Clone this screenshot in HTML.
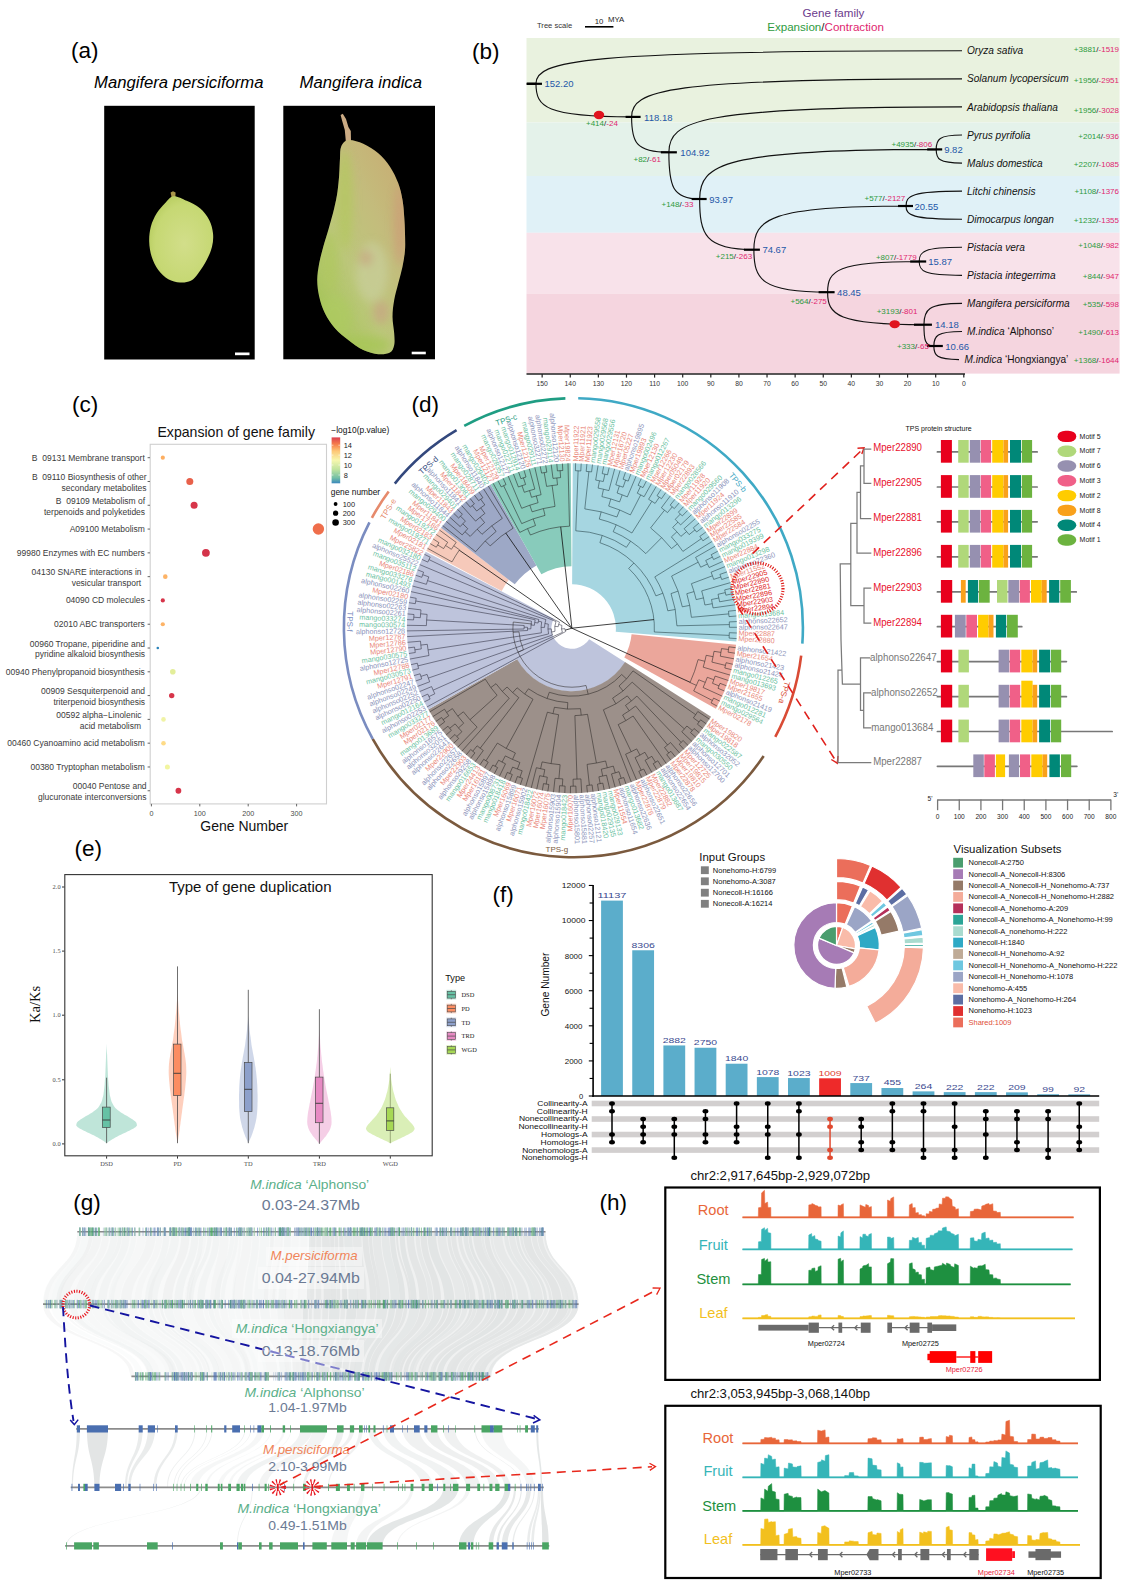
<!DOCTYPE html>
<html><head><meta charset="utf-8"><title>Figure</title>
<style>html,body{margin:0;padding:0;background:#fff}svg{display:block}text{font-family:"Liberation Sans",sans-serif}</style>
</head><body>
<svg width="1123" height="1588" viewBox="0 0 1123 1588">
<rect width="1123" height="1588" fill="#fff"/>
<g id="panel_a">
<defs>
<radialGradient id="f1g" cx="0.55" cy="0.55" r="0.65"><stop offset="0" stop-color="#d2de8a"/><stop offset="0.7" stop-color="#c6d873"/><stop offset="1" stop-color="#b2c95a"/></radialGradient>
<linearGradient id="f2g" x1="0.9" y1="0.05" x2="0.15" y2="0.95"><stop offset="0" stop-color="#c8ad74"/><stop offset="0.35" stop-color="#c3bd7c"/><stop offset="0.65" stop-color="#bcc77a"/><stop offset="1" stop-color="#a4c556"/></linearGradient>
<filter id="blur3" x="-50%" y="-50%" width="200%" height="200%"><feGaussianBlur stdDeviation="4"/></filter>
<filter id="blur1" x="-50%" y="-50%" width="200%" height="200%"><feGaussianBlur stdDeviation="0.5"/></filter>
<clipPath id="f2clip"><path id="f2p" d="M348.3,140.0 C352.0,139.5 358.3,141.5 363.3,143.7 C368.3,145.9 373.9,149.5 378.3,153.3 C382.8,157.1 386.7,161.7 390.0,166.7 C393.3,171.7 396.2,177.8 398.3,183.3 C400.4,188.9 401.5,194.4 402.5,200.0 C403.5,205.6 403.8,211.1 404.2,216.7 C404.6,222.2 404.9,227.8 405.0,233.3 C405.1,238.9 405.4,244.4 405.0,250.0 C404.6,255.6 403.6,261.1 402.5,266.7 C401.4,272.2 399.7,277.8 398.3,283.3 C396.9,288.9 395.2,294.4 394.2,300.0 C393.2,305.6 392.5,311.1 392.5,316.7 C392.5,322.2 393.9,328.6 394.2,333.3 C394.5,338.0 394.9,341.8 394.2,345.0 C393.5,348.2 392.6,351.0 390.0,352.5 C387.4,354.0 382.8,354.6 378.3,354.2 C373.9,353.8 368.3,352.4 363.3,350.0 C358.3,347.6 353.0,343.6 348.3,340.0 C343.6,336.4 338.9,332.8 335.0,328.3 C331.1,323.9 327.6,318.6 325.0,313.3 C322.4,308.0 320.5,302.2 319.2,296.7 C317.9,291.1 317.2,285.6 317.2,280.0 C317.2,274.4 318.2,268.9 319.2,263.3 C320.2,257.8 321.8,252.2 323.3,246.7 C324.8,241.1 326.5,236.4 328.3,230.0 C330.1,223.6 332.7,214.7 334.2,208.3 C335.7,201.9 336.7,197.2 337.5,191.7 C338.3,186.1 338.8,180.6 339.2,175.0 C339.6,169.4 339.7,163.1 340.0,158.3 C340.3,153.6 339.8,149.6 341.2,146.5 C342.6,143.4 344.6,140.5 348.3,140.0 Z"/></clipPath>
</defs>
<text x="71.00" y="57.50" font-size="22.5" fill="#000">(a)</text>
<text x="94.00" y="88.30" font-size="17.3" fill="#000" font-style="italic" textLength="169.50" lengthAdjust="spacingAndGlyphs">Mangifera persiciforma</text>
<text x="299.50" y="88.30" font-size="17.3" fill="#000" font-style="italic" textLength="122.50" lengthAdjust="spacingAndGlyphs">Mangifera indica</text>
<rect x="104.20" y="105.80" width="150.50" height="253.70" fill="#000"/>
<rect x="283.30" y="105.80" width="151.70" height="253.50" fill="#000"/>
<path d="M171.6,197.5 L170.6,192.6 L173,191.2 L175.6,192.6 L175.3,197.5 Z" fill="#a8964a"/>
<path d="M173.3,196.2 C176.9,195.8 182.2,198.8 186.7,200.8 C191.1,202.8 196.2,205.1 200.0,208.3 C203.8,211.5 207.0,215.8 209.2,220.0 C211.4,224.2 212.5,228.9 213.0,233.3 C213.5,237.8 213.1,242.2 212.0,246.7 C210.9,251.1 209.0,255.6 206.7,260.0 C204.4,264.4 201.0,269.8 198.3,273.3 C195.7,276.8 193.9,279.3 190.8,280.8 C187.8,282.3 183.8,282.8 180.0,282.5 C176.2,282.2 171.9,281.3 168.3,279.2 C164.7,277.1 161.1,273.8 158.3,270.0 C155.5,266.2 153.2,261.4 151.7,256.7 C150.2,252.0 149.3,246.7 149.2,241.7 C149.0,236.7 149.6,231.4 150.8,226.7 C152.1,222.0 154.3,217.2 156.7,213.3 C159.1,209.4 162.2,206.2 165.0,203.3 C167.8,200.5 169.7,196.6 173.3,196.2 Z" fill="url(#f1g)" filter="url(#blur1)"/>
<path d="M345.8,141 L344.8,130 L342.2,121 L340.6,115 L342.8,113.8 L346,119 L348.4,127 L350.8,131 L351,141 Z" fill="#cbab84"/>
<path d="M348.3,140.0 C352.0,139.5 358.3,141.5 363.3,143.7 C368.3,145.9 373.9,149.5 378.3,153.3 C382.8,157.1 386.7,161.7 390.0,166.7 C393.3,171.7 396.2,177.8 398.3,183.3 C400.4,188.9 401.5,194.4 402.5,200.0 C403.5,205.6 403.8,211.1 404.2,216.7 C404.6,222.2 404.9,227.8 405.0,233.3 C405.1,238.9 405.4,244.4 405.0,250.0 C404.6,255.6 403.6,261.1 402.5,266.7 C401.4,272.2 399.7,277.8 398.3,283.3 C396.9,288.9 395.2,294.4 394.2,300.0 C393.2,305.6 392.5,311.1 392.5,316.7 C392.5,322.2 393.9,328.6 394.2,333.3 C394.5,338.0 394.9,341.8 394.2,345.0 C393.5,348.2 392.6,351.0 390.0,352.5 C387.4,354.0 382.8,354.6 378.3,354.2 C373.9,353.8 368.3,352.4 363.3,350.0 C358.3,347.6 353.0,343.6 348.3,340.0 C343.6,336.4 338.9,332.8 335.0,328.3 C331.1,323.9 327.6,318.6 325.0,313.3 C322.4,308.0 320.5,302.2 319.2,296.7 C317.9,291.1 317.2,285.6 317.2,280.0 C317.2,274.4 318.2,268.9 319.2,263.3 C320.2,257.8 321.8,252.2 323.3,246.7 C324.8,241.1 326.5,236.4 328.3,230.0 C330.1,223.6 332.7,214.7 334.2,208.3 C335.7,201.9 336.7,197.2 337.5,191.7 C338.3,186.1 338.8,180.6 339.2,175.0 C339.6,169.4 339.7,163.1 340.0,158.3 C340.3,153.6 339.8,149.6 341.2,146.5 C342.6,143.4 344.6,140.5 348.3,140.0 Z" fill="url(#f2g)" filter="url(#blur1)"/>
<g clip-path="url(#f2clip)" filter="url(#blur3)" opacity="0.7"><ellipse cx="400" cy="225" rx="6" ry="40" fill="#cc9c78"/><ellipse cx="345" cy="200" rx="8" ry="50" fill="#b3c85e"/><ellipse cx="372" cy="272" rx="16" ry="30" fill="#c9cf9c"/><ellipse cx="381" cy="312" rx="8" ry="12" fill="#c8a484"/><ellipse cx="366" cy="258" rx="7" ry="8" fill="#c9a888"/><ellipse cx="335" cy="318" rx="16" ry="22" fill="#aecb62"/><ellipse cx="365" cy="345" rx="26" ry="9" fill="#a6c654"/><ellipse cx="330" cy="262" rx="8" ry="30" fill="#b0c860"/></g>
<rect x="235.00" y="352.50" width="14.50" height="2.70" fill="#fff"/>
<rect x="411.70" y="351.70" width="14.10" height="2.60" fill="#fff"/>
</g>
<g id="panel_b">
<rect x="526.50" y="38.00" width="593.10" height="84.40" fill="#e9f2df"/>
<rect x="526.50" y="122.40" width="593.10" height="53.60" fill="#e4f2ea"/>
<rect x="526.50" y="176.00" width="593.10" height="56.80" fill="#e0f1f7"/>
<rect x="526.50" y="232.80" width="593.10" height="60.80" fill="#f8e2ea"/>
<rect x="526.50" y="293.60" width="593.10" height="80.00" fill="#f5d5df"/>
<text x="472.00" y="58.50" font-size="22.5" fill="#000">(b)</text>
<text x="537.00" y="27.50" font-size="7.6" fill="#333">Tree scale</text>
<line x1="585.00" y1="26.80" x2="613.40" y2="26.80" stroke="#000" stroke-width="1.6"/>
<text x="599.00" y="23.97" font-size="7.8" fill="#222" text-anchor="middle">10</text>
<text x="608.00" y="22.07" font-size="7.8" fill="#222">MYA</text>
<text x="833.50" y="17.32" font-size="11.6" fill="#6b3a8c" text-anchor="middle">Gene family</text>
<text x="825.5" y="31.32" font-size="11.6" text-anchor="middle"><tspan fill="#2e9b3e">Expansion</tspan><tspan fill="#222">/</tspan><tspan fill="#e0266f">Contraction</tspan></text>
<path d="M535.97,83.80 C535.97,60.70 578.57,50.80 962.00,50.80 M535.97,83.80 C535.97,106.97 545.53,116.90 631.60,116.90 M631.60,116.90 C631.60,90.28 664.64,78.87 962.00,78.87 M631.60,116.90 C631.60,141.68 635.32,152.30 668.87,152.30 M668.87,152.30 C668.87,120.55 698.18,106.94 962.00,106.94 M668.87,152.30 C668.87,184.99 671.95,199.00 699.65,199.00 M699.65,199.00 C699.65,164.28 723.30,149.40 936.20,149.40 M699.65,199.00 C699.65,234.49 705.08,249.70 753.90,249.70 M936.20,149.40 C936.20,139.33 938.78,135.01 962.00,135.01 M936.20,149.40 C936.20,158.98 938.78,163.08 962.00,163.08 M753.90,249.70 C753.90,219.11 769.12,206.00 906.03,206.00 M753.90,249.70 C753.90,279.45 761.27,292.20 827.61,292.20 M906.03,206.00 C906.03,195.60 911.63,191.15 962.00,191.15 M906.03,206.00 C906.03,215.25 911.63,219.22 962.00,219.22 M827.61,292.20 C827.61,270.71 836.77,261.50 919.19,261.50 M827.61,292.20 C827.61,314.95 837.24,324.70 923.94,324.70 M919.19,261.50 C919.19,251.55 923.47,247.29 962.00,247.29 M919.19,261.50 C919.19,271.20 923.47,275.36 962.00,275.36 M923.94,324.70 C923.94,309.81 927.75,303.43 962.00,303.43 M923.94,324.70 C923.94,339.61 924.93,346.00 933.83,346.00 M933.83,346.00 C933.83,335.85 936.65,331.50 962.00,331.50 M933.83,346.00 C933.83,355.50 936.35,359.57 959.00,359.57 " fill="none" stroke="#111" stroke-width="1.15"/>
<line x1="526.50" y1="83.80" x2="535.97" y2="83.80" stroke="#000" stroke-width="2.2"/>
<line x1="526.97" y1="83.80" x2="541.97" y2="83.80" stroke="#000" stroke-width="2.2"/>
<line x1="625.60" y1="116.90" x2="640.60" y2="116.90" stroke="#000" stroke-width="2.2"/>
<line x1="660.87" y1="152.30" x2="676.87" y2="152.30" stroke="#000" stroke-width="2.2"/>
<line x1="691.65" y1="199.00" x2="706.65" y2="199.00" stroke="#000" stroke-width="2.2"/>
<line x1="743.90" y1="249.70" x2="759.90" y2="249.70" stroke="#000" stroke-width="2.2"/>
<line x1="818.61" y1="292.20" x2="834.61" y2="292.20" stroke="#000" stroke-width="2.2"/>
<line x1="913.94" y1="324.70" x2="931.94" y2="324.70" stroke="#000" stroke-width="2.2"/>
<line x1="926.83" y1="346.00" x2="942.83" y2="346.00" stroke="#000" stroke-width="2.2"/>
<line x1="927.20" y1="149.40" x2="942.20" y2="149.40" stroke="#000" stroke-width="2.2"/>
<line x1="898.03" y1="206.00" x2="913.03" y2="206.00" stroke="#000" stroke-width="2.2"/>
<line x1="910.19" y1="261.50" x2="926.19" y2="261.50" stroke="#000" stroke-width="2.2"/>
<text x="544.47" y="87.47" font-size="9.5" fill="#2458a8">152.20</text>
<text x="644.10" y="120.57" font-size="9.5" fill="#2458a8">118.18</text>
<text x="680.37" y="155.97" font-size="9.5" fill="#2458a8">104.92</text>
<text x="709.15" y="202.67" font-size="9.5" fill="#2458a8">93.97</text>
<text x="762.40" y="253.37" font-size="9.5" fill="#2458a8">74.67</text>
<text x="837.11" y="295.87" font-size="9.5" fill="#2458a8">48.45</text>
<text x="934.94" y="328.37" font-size="9.5" fill="#2458a8">14.18</text>
<text x="945.33" y="349.67" font-size="9.5" fill="#2458a8">10.66</text>
<text x="944.20" y="153.07" font-size="9.5" fill="#2458a8">9.82</text>
<text x="914.53" y="209.67" font-size="9.5" fill="#2458a8">20.55</text>
<text x="928.19" y="265.17" font-size="9.5" fill="#2458a8">15.87</text>
<ellipse cx="599" cy="115" rx="5.2" ry="4.2" fill="#e0141e"/>
<ellipse cx="894.7" cy="324.2" rx="5.2" ry="4.0" fill="#e0141e"/>
<text x="586.00" y="126.34" font-size="8.0"><tspan fill="#2e9b3e">+414</tspan><tspan fill="#222">/</tspan><tspan fill="#e0266f">-24</tspan></text>
<text x="633.50" y="161.84" font-size="8.0"><tspan fill="#2e9b3e">+82</tspan><tspan fill="#222">/</tspan><tspan fill="#e0266f">-61</tspan></text>
<text x="661.50" y="206.54" font-size="8.0"><tspan fill="#2e9b3e">+148</tspan><tspan fill="#222">/</tspan><tspan fill="#e0266f">-33</tspan></text>
<text x="715.80" y="259.44" font-size="8.0"><tspan fill="#2e9b3e">+215</tspan><tspan fill="#222">/</tspan><tspan fill="#e0266f">-263</tspan></text>
<text x="790.50" y="303.64" font-size="8.0"><tspan fill="#2e9b3e">+564</tspan><tspan fill="#222">/</tspan><tspan fill="#e0266f">-275</tspan></text>
<text x="891.50" y="147.24" font-size="8.0"><tspan fill="#2e9b3e">+4935</tspan><tspan fill="#222">/</tspan><tspan fill="#e0266f">-806</tspan></text>
<text x="864.50" y="201.04" font-size="8.0"><tspan fill="#2e9b3e">+577</tspan><tspan fill="#222">/</tspan><tspan fill="#e0266f">-2127</tspan></text>
<text x="875.90" y="259.54" font-size="8.0"><tspan fill="#2e9b3e">+807</tspan><tspan fill="#222">/</tspan><tspan fill="#e0266f">-1779</tspan></text>
<text x="876.70" y="313.84" font-size="8.0"><tspan fill="#2e9b3e">+3193</tspan><tspan fill="#222">/</tspan><tspan fill="#e0266f">-801</tspan></text>
<text x="897.00" y="349.34" font-size="8.0"><tspan fill="#2e9b3e">+333</tspan><tspan fill="#222">/</tspan><tspan fill="#e0266f">-65</tspan></text>
<text x="1119.00" y="52.24" font-size="8.0" text-anchor="end"><tspan fill="#2e9b3e">+3881</tspan><tspan fill="#222">/</tspan><tspan fill="#e0266f">-1519</tspan></text>
<text x="1119.00" y="82.84" font-size="8.0" text-anchor="end"><tspan fill="#2e9b3e">+1956</tspan><tspan fill="#222">/</tspan><tspan fill="#e0266f">-2951</tspan></text>
<text x="1119.00" y="112.84" font-size="8.0" text-anchor="end"><tspan fill="#2e9b3e">+1956</tspan><tspan fill="#222">/</tspan><tspan fill="#e0266f">-3028</tspan></text>
<text x="1119.00" y="138.84" font-size="8.0" text-anchor="end"><tspan fill="#2e9b3e">+2014</tspan><tspan fill="#222">/</tspan><tspan fill="#e0266f">-936</tspan></text>
<text x="1119.00" y="166.64" font-size="8.0" text-anchor="end"><tspan fill="#2e9b3e">+2207</tspan><tspan fill="#222">/</tspan><tspan fill="#e0266f">-1085</tspan></text>
<text x="1119.00" y="193.84" font-size="8.0" text-anchor="end"><tspan fill="#2e9b3e">+1108</tspan><tspan fill="#222">/</tspan><tspan fill="#e0266f">-1376</tspan></text>
<text x="1119.00" y="222.54" font-size="8.0" text-anchor="end"><tspan fill="#2e9b3e">+1232</tspan><tspan fill="#222">/</tspan><tspan fill="#e0266f">-1355</tspan></text>
<text x="1119.00" y="248.14" font-size="8.0" text-anchor="end"><tspan fill="#2e9b3e">+1048</tspan><tspan fill="#222">/</tspan><tspan fill="#e0266f">-982</tspan></text>
<text x="1119.00" y="278.84" font-size="8.0" text-anchor="end"><tspan fill="#2e9b3e">+844</tspan><tspan fill="#222">/</tspan><tspan fill="#e0266f">-947</tspan></text>
<text x="1119.00" y="306.74" font-size="8.0" text-anchor="end"><tspan fill="#2e9b3e">+535</tspan><tspan fill="#222">/</tspan><tspan fill="#e0266f">-598</tspan></text>
<text x="1119.00" y="334.84" font-size="8.0" text-anchor="end"><tspan fill="#2e9b3e">+1490</tspan><tspan fill="#222">/</tspan><tspan fill="#e0266f">-613</tspan></text>
<text x="1119.00" y="363.14" font-size="8.0" text-anchor="end"><tspan fill="#2e9b3e">+1368</tspan><tspan fill="#222">/</tspan><tspan fill="#e0266f">-1644</tspan></text>
<text x="967.00" y="54.39" font-size="10.1" fill="#111" font-style="italic">Oryza sativa</text>
<text x="967.00" y="82.46" font-size="10.1" fill="#111" font-style="italic">Solanum lycopersicum</text>
<text x="967.00" y="110.53" font-size="10.1" fill="#111" font-style="italic">Arabidopsis thaliana</text>
<text x="967.00" y="138.60" font-size="10.1" fill="#111" font-style="italic">Pyrus pyrifolia</text>
<text x="967.00" y="166.67" font-size="10.1" fill="#111" font-style="italic">Malus domestica</text>
<text x="967.00" y="194.74" font-size="10.1" fill="#111" font-style="italic">Litchi chinensis</text>
<text x="967.00" y="222.81" font-size="10.1" fill="#111" font-style="italic">Dimocarpus longan</text>
<text x="967.00" y="250.88" font-size="10.1" fill="#111" font-style="italic">Pistacia vera</text>
<text x="967.00" y="278.95" font-size="10.1" fill="#111" font-style="italic">Pistacia integerrima</text>
<text x="967.00" y="307.02" font-size="10.1" fill="#111" font-style="italic">Mangifera persiciforma</text>
<text x="967" y="335.33" font-size="10.1" fill="#111"><tspan font-style="italic">M.indica</tspan> <tspan font-size="10.1">‘Alphonso’</tspan></text>
<text x="964.5" y="363.40" font-size="10.1" fill="#111"><tspan font-style="italic">M.indica</tspan> <tspan font-size="10.1">‘Hongxiangya’</tspan></text>
<line x1="526.50" y1="374.00" x2="965.00" y2="374.00" stroke="#222" stroke-width="1.3"/>
<line x1="963.80" y1="374.00" x2="963.80" y2="377.60" stroke="#222" stroke-width="1.2"/>
<text x="963.80" y="386.21" font-size="6.8" fill="#333" text-anchor="middle">0</text>
<line x1="935.69" y1="374.00" x2="935.69" y2="377.60" stroke="#222" stroke-width="1.2"/>
<text x="935.69" y="386.21" font-size="6.8" fill="#333" text-anchor="middle">10</text>
<line x1="907.58" y1="374.00" x2="907.58" y2="377.60" stroke="#222" stroke-width="1.2"/>
<text x="907.58" y="386.21" font-size="6.8" fill="#333" text-anchor="middle">20</text>
<line x1="879.47" y1="374.00" x2="879.47" y2="377.60" stroke="#222" stroke-width="1.2"/>
<text x="879.47" y="386.21" font-size="6.8" fill="#333" text-anchor="middle">30</text>
<line x1="851.36" y1="374.00" x2="851.36" y2="377.60" stroke="#222" stroke-width="1.2"/>
<text x="851.36" y="386.21" font-size="6.8" fill="#333" text-anchor="middle">40</text>
<line x1="823.25" y1="374.00" x2="823.25" y2="377.60" stroke="#222" stroke-width="1.2"/>
<text x="823.25" y="386.21" font-size="6.8" fill="#333" text-anchor="middle">50</text>
<line x1="795.14" y1="374.00" x2="795.14" y2="377.60" stroke="#222" stroke-width="1.2"/>
<text x="795.14" y="386.21" font-size="6.8" fill="#333" text-anchor="middle">60</text>
<line x1="767.03" y1="374.00" x2="767.03" y2="377.60" stroke="#222" stroke-width="1.2"/>
<text x="767.03" y="386.21" font-size="6.8" fill="#333" text-anchor="middle">70</text>
<line x1="738.92" y1="374.00" x2="738.92" y2="377.60" stroke="#222" stroke-width="1.2"/>
<text x="738.92" y="386.21" font-size="6.8" fill="#333" text-anchor="middle">80</text>
<line x1="710.81" y1="374.00" x2="710.81" y2="377.60" stroke="#222" stroke-width="1.2"/>
<text x="710.81" y="386.21" font-size="6.8" fill="#333" text-anchor="middle">90</text>
<line x1="682.70" y1="374.00" x2="682.70" y2="377.60" stroke="#222" stroke-width="1.2"/>
<text x="682.70" y="386.21" font-size="6.8" fill="#333" text-anchor="middle">100</text>
<line x1="654.59" y1="374.00" x2="654.59" y2="377.60" stroke="#222" stroke-width="1.2"/>
<text x="654.59" y="386.21" font-size="6.8" fill="#333" text-anchor="middle">110</text>
<line x1="626.48" y1="374.00" x2="626.48" y2="377.60" stroke="#222" stroke-width="1.2"/>
<text x="626.48" y="386.21" font-size="6.8" fill="#333" text-anchor="middle">120</text>
<line x1="598.37" y1="374.00" x2="598.37" y2="377.60" stroke="#222" stroke-width="1.2"/>
<text x="598.37" y="386.21" font-size="6.8" fill="#333" text-anchor="middle">130</text>
<line x1="570.26" y1="374.00" x2="570.26" y2="377.60" stroke="#222" stroke-width="1.2"/>
<text x="570.26" y="386.21" font-size="6.8" fill="#333" text-anchor="middle">140</text>
<line x1="542.15" y1="374.00" x2="542.15" y2="377.60" stroke="#222" stroke-width="1.2"/>
<text x="542.15" y="386.21" font-size="6.8" fill="#333" text-anchor="middle">150</text>
</g>
<g id="panel_c">
<text x="72.00" y="412.30" font-size="22.5" fill="#000">(c)</text>
<text x="236.20" y="437.21" font-size="14.1" fill="#111" text-anchor="middle">Expansion of gene family</text>
<rect x="150.2" y="444.3" width="176.3" height="359.6" fill="#fff" stroke="#cfcfcf" stroke-width="1.1"/>
<line x1="147.60" y1="457.70" x2="150.00" y2="457.70" stroke="#555" stroke-width="0.9"/>
<circle cx="162.8" cy="457.70" r="2.1" fill="#fdae61"/>
<text x="144.80" y="460.72" font-size="8.5" fill="#3a3a3a" text-anchor="end">B  09131 Membrane transport</text>
<line x1="147.60" y1="481.49" x2="150.00" y2="481.49" stroke="#555" stroke-width="0.9"/>
<circle cx="189.8" cy="481.49" r="3.5" fill="#e8604a"/>
<text x="146.60" y="480.21" font-size="8.5" fill="#3a3a3a" text-anchor="end">B  09110 Biosynthesis of other</text>
<text x="146.60" y="490.71" font-size="8.5" fill="#3a3a3a" text-anchor="end">secondary metabolites</text>
<line x1="147.60" y1="505.28" x2="150.00" y2="505.28" stroke="#555" stroke-width="0.9"/>
<circle cx="194.1" cy="505.28" r="3.5" fill="#d7354a"/>
<text x="145.10" y="504.00" font-size="8.5" fill="#3a3a3a" text-anchor="end">B  09109 Metabolism of</text>
<text x="145.10" y="514.50" font-size="8.5" fill="#3a3a3a" text-anchor="end">terpenoids and polyketides</text>
<line x1="147.60" y1="529.07" x2="150.00" y2="529.07" stroke="#555" stroke-width="0.9"/>
<circle cx="318.4" cy="529.07" r="5.7" fill="#ef6e4b"/>
<text x="144.80" y="532.09" font-size="8.5" fill="#3a3a3a" text-anchor="end">A09100 Metabolism</text>
<line x1="147.60" y1="552.86" x2="150.00" y2="552.86" stroke="#555" stroke-width="0.9"/>
<circle cx="205.9" cy="552.86" r="3.9" fill="#d4334a"/>
<text x="144.80" y="555.88" font-size="8.5" fill="#3a3a3a" text-anchor="end">99980 Enzymes with EC numbers</text>
<line x1="147.60" y1="576.65" x2="150.00" y2="576.65" stroke="#555" stroke-width="0.9"/>
<circle cx="165.3" cy="576.65" r="2.3" fill="#fdb366"/>
<text x="141.60" y="575.37" font-size="8.5" fill="#3a3a3a" text-anchor="end">04130 SNARE interactions in</text>
<text x="141.10" y="585.87" font-size="8.5" fill="#3a3a3a" text-anchor="end">vesicular transport</text>
<line x1="147.60" y1="600.44" x2="150.00" y2="600.44" stroke="#555" stroke-width="0.9"/>
<circle cx="162.8" cy="600.44" r="2.1" fill="#d7354a"/>
<text x="144.80" y="603.46" font-size="8.5" fill="#3a3a3a" text-anchor="end">04090 CD molecules</text>
<line x1="147.60" y1="624.23" x2="150.00" y2="624.23" stroke="#555" stroke-width="0.9"/>
<circle cx="162.8" cy="624.23" r="2.1" fill="#fdb366"/>
<text x="144.80" y="627.25" font-size="8.5" fill="#3a3a3a" text-anchor="end">02010 ABC transporters</text>
<line x1="147.60" y1="648.02" x2="150.00" y2="648.02" stroke="#555" stroke-width="0.9"/>
<circle cx="157.8" cy="648.02" r="1.3" fill="#2b83ba"/>
<text x="145.10" y="646.74" font-size="8.5" fill="#3a3a3a" text-anchor="end">00960 Tropane, piperidine and</text>
<text x="145.10" y="657.24" font-size="8.5" fill="#3a3a3a" text-anchor="end">pyridine alkaloid biosynthesis</text>
<line x1="147.60" y1="671.81" x2="150.00" y2="671.81" stroke="#555" stroke-width="0.9"/>
<circle cx="172.8" cy="671.81" r="2.8" fill="#e3ee9a"/>
<text x="144.80" y="674.83" font-size="8.5" fill="#3a3a3a" text-anchor="end">00940 Phenylpropanoid biosynthesis</text>
<line x1="147.60" y1="695.60" x2="150.00" y2="695.60" stroke="#555" stroke-width="0.9"/>
<circle cx="171.7" cy="695.60" r="2.7" fill="#d7354a"/>
<text x="145.10" y="694.32" font-size="8.5" fill="#3a3a3a" text-anchor="end">00909 Sesquiterpenoid and</text>
<text x="145.10" y="704.82" font-size="8.5" fill="#3a3a3a" text-anchor="end">triterpenoid biosynthesis</text>
<line x1="147.60" y1="719.39" x2="150.00" y2="719.39" stroke="#555" stroke-width="0.9"/>
<circle cx="163.5" cy="719.39" r="2.3" fill="#f0f3a5"/>
<text x="141.60" y="718.11" font-size="8.5" fill="#3a3a3a" text-anchor="end">00592 alpha−Linolenic</text>
<text x="141.10" y="728.61" font-size="8.5" fill="#3a3a3a" text-anchor="end">acid metabolism</text>
<line x1="147.60" y1="743.18" x2="150.00" y2="743.18" stroke="#555" stroke-width="0.9"/>
<circle cx="163.5" cy="743.18" r="2.3" fill="#fedb87"/>
<text x="144.80" y="746.20" font-size="8.5" fill="#3a3a3a" text-anchor="end">00460 Cyanoamino acid metabolism</text>
<line x1="147.60" y1="766.97" x2="150.00" y2="766.97" stroke="#555" stroke-width="0.9"/>
<circle cx="167.4" cy="766.97" r="2.5" fill="#f2f5a0"/>
<text x="144.80" y="769.99" font-size="8.5" fill="#3a3a3a" text-anchor="end">00380 Tryptophan metabolism</text>
<line x1="147.60" y1="790.76" x2="150.00" y2="790.76" stroke="#555" stroke-width="0.9"/>
<circle cx="178.4" cy="790.76" r="2.9" fill="#d7354a"/>
<text x="146.60" y="789.48" font-size="8.5" fill="#3a3a3a" text-anchor="end">00040 Pentose and</text>
<text x="146.60" y="799.98" font-size="8.5" fill="#3a3a3a" text-anchor="end">glucuronate interconversions</text>
<line x1="151.40" y1="803.90" x2="151.40" y2="806.40" stroke="#555" stroke-width="0.9"/>
<text x="151.40" y="815.56" font-size="7.2" fill="#4a4a4a" text-anchor="middle">0</text>
<line x1="199.80" y1="803.90" x2="199.80" y2="806.40" stroke="#555" stroke-width="0.9"/>
<text x="199.80" y="815.56" font-size="7.2" fill="#4a4a4a" text-anchor="middle">100</text>
<line x1="248.20" y1="803.90" x2="248.20" y2="806.40" stroke="#555" stroke-width="0.9"/>
<text x="248.20" y="815.56" font-size="7.2" fill="#4a4a4a" text-anchor="middle">200</text>
<line x1="296.60" y1="803.90" x2="296.60" y2="806.40" stroke="#555" stroke-width="0.9"/>
<text x="296.60" y="815.56" font-size="7.2" fill="#4a4a4a" text-anchor="middle">300</text>
<text x="244.30" y="831.47" font-size="14.0" fill="#111" text-anchor="middle">Gene Number</text>
<text x="331.30" y="432.98" font-size="8.4" fill="#111">−log10(p.value)</text>
<defs><linearGradient id="cbar" x1="0" y1="1" x2="0" y2="0">
<stop offset="0" stop-color="#3a88bd"/><stop offset="0.12" stop-color="#74c0a6"/><stop offset="0.3" stop-color="#bfe39f"/><stop offset="0.5" stop-color="#f6f7ae"/>
<stop offset="0.7" stop-color="#fdc877"/><stop offset="0.85" stop-color="#f67e4b"/><stop offset="1" stop-color="#dc4050"/></linearGradient></defs>
<rect x="331.60" y="437.40" width="8.60" height="45.90" fill="url(#cbar)"/>
<line x1="338.40" y1="445.20" x2="340.20" y2="445.20" stroke="#fff" stroke-width="0.6"/>
<line x1="331.60" y1="445.20" x2="333.40" y2="445.20" stroke="#fff" stroke-width="0.6"/>
<text x="343.70" y="447.83" font-size="7.4" fill="#222">14</text>
<line x1="338.40" y1="455.10" x2="340.20" y2="455.10" stroke="#fff" stroke-width="0.6"/>
<line x1="331.60" y1="455.10" x2="333.40" y2="455.10" stroke="#fff" stroke-width="0.6"/>
<text x="343.70" y="457.73" font-size="7.4" fill="#222">12</text>
<line x1="338.40" y1="465.00" x2="340.20" y2="465.00" stroke="#fff" stroke-width="0.6"/>
<line x1="331.60" y1="465.00" x2="333.40" y2="465.00" stroke="#fff" stroke-width="0.6"/>
<text x="343.70" y="467.63" font-size="7.4" fill="#222">10</text>
<line x1="338.40" y1="475.00" x2="340.20" y2="475.00" stroke="#fff" stroke-width="0.6"/>
<line x1="331.60" y1="475.00" x2="333.40" y2="475.00" stroke="#fff" stroke-width="0.6"/>
<text x="343.70" y="477.63" font-size="7.4" fill="#222">8</text>
<text x="330.80" y="495.18" font-size="8.4" fill="#111">gene number</text>
<circle cx="335.6" cy="504" r="1.9" fill="#000"/>
<text x="342.70" y="506.63" font-size="7.4" fill="#222">100</text>
<circle cx="335.6" cy="513.2" r="2.6" fill="#000"/>
<text x="342.70" y="515.83" font-size="7.4" fill="#222">200</text>
<circle cx="335.6" cy="522.5" r="3.3" fill="#000"/>
<text x="342.70" y="525.13" font-size="7.4" fill="#222">300</text>
</g>
<g id="panel_d">
<text x="411.50" y="411.80" font-size="22.5" fill="#000">(d)</text>
<path d="M625.29,662.21 A63.30,63.30 0 0 1 515.80,598.87 L553.73,618.70 A20.50,20.50 0 0 0 589.19,639.21 Z" fill="#bec4dc"/>
<path d="M572.76,463.20 A165.00,165.00 0 0 1 736.37,641.43 L615.76,631.73 A44.00,44.00 0 0 0 572.13,584.20 Z" fill="#a6d6e1"/>
<path d="M736.06,644.87 A165.00,165.00 0 0 1 715.93,708.70 L624.28,657.47 A60.00,60.00 0 0 0 631.59,634.26 Z" fill="#eba69b"/>
<path d="M711.06,716.85 A165.00,165.00 0 0 1 428.29,709.45 L517.07,659.22 A63.00,63.00 0 0 0 625.03,662.05 Z" fill="#9c908a"/>
<path d="M428.29,709.45 A165.00,165.00 0 0 1 425.68,551.76 L516.07,599.01 A63.00,63.00 0 0 0 517.07,659.22 Z" fill="#bec4dc"/>
<path d="M426.21,550.74 A165.00,165.00 0 0 1 441.00,527.75 L508.83,579.80 A79.50,79.50 0 0 0 501.71,590.88 Z" fill="#f6c9ba"/>
<path d="M441.00,527.75 A165.00,165.00 0 0 1 490.65,484.59 L536.45,565.53 A72.00,72.00 0 0 0 514.78,584.37 Z" fill="#9da8c6"/>
<path d="M490.65,484.59 A165.00,165.00 0 0 1 570.75,463.20 L571.47,566.20 A62.00,62.00 0 0 0 541.37,574.24 Z" fill="#88cbbb"/>
<path d="M578.21,398.25 A229.50,229.50 0 0 1 802.34,643.71" fill="none" stroke="#3fa9c5" stroke-width="2.6"/>
<path d="M628.7,568.4A82.5,82.5 0 0 1 654.3,632.0M633.9,563.0L628.7,568.4M599.9,542.7A90.0,90.0 0 0 1 655.9,595.9M602.2,535.5L599.9,542.7M575.8,530.8A97.5,97.5 0 0 1 626.4,547.3M578.1,470.8L575.8,530.8M575.4,470.7A157.5,157.5 0 0 1 580.8,471.0M575.6,463.2L575.4,470.7M581.2,463.5L580.8,471.0M630.6,541.1L626.4,547.3M613.2,531.7A105.0,105.0 0 0 1 645.8,553.6M616.2,524.8L613.2,531.7M599.3,519.1A112.5,112.5 0 0 1 631.9,533.0M601.2,511.8L599.3,519.1M584.8,508.9A120.0,120.0 0 0 1 616.9,517.0M588.9,471.6L584.8,508.9M586.2,471.4A157.5,157.5 0 0 1 591.6,471.9M586.9,463.9L586.2,471.4M592.5,464.5L591.6,471.9M619.7,510.0L616.9,517.0M608.7,506.1A127.5,127.5 0 0 1 630.4,514.9M610.8,498.9L608.7,506.1M601.9,496.6A135.0,135.0 0 0 1 619.6,501.9M603.5,489.3L601.9,496.6M598.1,488.1A142.5,142.5 0 0 1 608.9,490.6M599.5,480.8L598.1,488.1M595.7,480.1A150.0,150.0 0 0 1 603.3,481.5M598.1,465.3L595.7,480.1M604.9,474.2L603.3,481.5M602.2,473.6A157.5,157.5 0 0 1 607.5,474.8M603.7,466.3L602.2,473.6M609.2,467.5L607.5,474.8M614.7,468.8L608.9,490.6M622.2,494.9L619.6,501.9M617.1,493.0A142.5,142.5 0 0 1 627.3,496.9M619.4,485.9L617.1,493.0M615.8,484.8A150.0,150.0 0 0 1 623.1,487.2M620.1,470.4L615.8,484.8M625.6,480.1L623.1,487.2M623.1,479.2A157.5,157.5 0 0 1 628.2,481.1M625.5,472.2L623.1,479.2M630.8,474.1L628.2,481.1M636.1,476.2L627.3,496.9M640.7,494.9L630.4,514.9M637.3,493.2A150.0,150.0 0 0 1 644.1,496.7M640.5,486.4L637.3,493.2M638.1,485.3A157.5,157.5 0 0 1 643.0,487.6M641.3,478.5L638.1,485.3M646.4,481.0L643.0,487.6M651.4,483.6L644.1,496.7M651.9,501.3L631.9,533.0M648.6,499.3A150.0,150.0 0 0 1 655.1,503.4M656.3,486.4L648.6,499.3M659.3,497.2L655.1,503.4M657.0,495.7A157.5,157.5 0 0 1 661.5,498.7M661.1,489.4L657.0,495.7M665.8,492.5L661.5,498.7M661.7,537.6L645.8,553.6M650.6,527.9A127.5,127.5 0 0 1 671.5,548.6M664.5,510.2L650.6,527.9M661.4,507.8A150.0,150.0 0 0 1 667.5,512.6M670.4,495.8L661.4,507.8M672.3,506.8L667.5,512.6M670.2,505.1A157.5,157.5 0 0 1 674.3,508.6M674.9,499.3L670.2,505.1M679.2,502.9L674.3,508.6M677.4,543.9L671.5,548.6M671.4,536.9A135.0,135.0 0 0 1 682.9,551.4M676.9,531.8L671.4,536.9M672.7,527.4A142.5,142.5 0 0 1 680.9,536.4M678.0,522.1L672.7,527.4M675.2,519.4A150.0,150.0 0 0 1 680.6,524.9M680.4,514.0L675.2,519.4M678.4,512.2A157.5,157.5 0 0 1 682.3,515.9M683.5,506.6L678.4,512.2M687.6,510.5L682.3,515.9M691.5,514.6L680.6,524.9M686.6,531.6L680.9,536.4M684.1,528.7A150.0,150.0 0 0 1 689.1,534.6M695.3,518.7L684.1,528.7M695.0,529.9L689.1,534.6M693.3,527.8A157.5,157.5 0 0 1 696.6,532.0M699.0,523.0L693.3,527.8M702.6,527.4L696.6,532.0M701.4,538.6L682.9,551.4M699.8,536.4A157.5,157.5 0 0 1 702.9,540.8M705.9,532.0L699.8,536.4M709.2,536.6L702.9,540.8M662.9,593.2L655.9,595.9M654.8,576.9A97.5,97.5 0 0 1 667.8,610.8M712.2,541.4L654.8,576.9M675.2,609.5L667.8,610.8M671.0,593.6A105.0,105.0 0 0 1 676.9,625.8M678.1,591.1L671.0,593.6M671.6,576.1A112.5,112.5 0 0 1 682.3,606.8M698.2,562.2L671.6,576.1M695.6,557.4A142.5,142.5 0 0 1 700.7,567.2M715.1,546.2L695.6,557.4M707.4,564.0L700.7,567.2M705.7,560.5A150.0,150.0 0 0 1 709.1,567.5M712.4,557.1L705.7,560.5M711.2,554.7A157.5,157.5 0 0 1 713.6,559.5M717.8,551.2L711.2,554.7M720.4,556.3L713.6,559.5M722.8,561.4L709.1,567.5M689.7,605.4L682.3,606.8M686.8,593.7A120.0,120.0 0 0 1 691.4,617.3M694.0,591.6L686.8,593.7M691.4,583.7A127.5,127.5 0 0 1 696.2,599.6M712.4,575.8L691.4,583.7M711.1,572.2A150.0,150.0 0 0 1 713.7,579.4M725.0,566.6L711.1,572.2M720.8,577.0L713.7,579.4M719.9,574.4A157.5,157.5 0 0 1 721.7,579.5M727.0,571.9L719.9,574.4M728.8,577.2L721.7,579.5M703.5,597.9L696.2,599.6M701.7,590.9A135.0,135.0 0 0 1 704.9,605.0M730.5,582.6L701.7,590.9M712.3,603.7L704.9,605.0M711.5,599.5A142.5,142.5 0 0 1 713.0,607.9M718.8,598.0L711.5,599.5M718.0,594.3A150.0,150.0 0 0 1 719.6,601.8M725.3,592.6L718.0,594.3M724.7,589.9A157.5,157.5 0 0 1 725.9,595.2M732.0,588.1L724.7,589.9M733.2,593.6L725.9,595.2M734.3,599.2L719.6,601.8M735.2,604.8L713.0,607.9M728.7,613.9L691.4,617.3M728.5,611.2A157.5,157.5 0 0 1 729.0,616.6M735.9,610.4L728.5,611.2M736.4,616.0L729.0,616.6M729.4,624.6L676.9,625.8M729.3,621.9A157.5,157.5 0 0 1 729.4,627.3M736.8,621.6L729.3,621.9M736.9,627.3L729.4,627.3M729.2,635.4L654.3,632.0M729.3,632.7A157.5,157.5 0 0 1 729.1,638.1M736.8,633.0L729.3,632.7M736.6,638.6L729.1,638.1" fill="none" stroke="#1f3a40" stroke-width="0.55"/><line x1="653.95" y1="619.58" x2="571.90" y2="628.20" stroke="#111" stroke-width="0.8"/>
<text x="575.6" y="461.4" font-size="7.2" fill="#e9877a" dy="2.4" transform="rotate(-88.7 575.6 461.4)">Mper11922</text>
<text x="581.3" y="461.7" font-size="7.2" fill="#e9877a" dy="2.4" transform="rotate(-86.8 581.3 461.7)">Mper11921</text>
<text x="587.1" y="462.1" font-size="7.2" fill="#e9877a" dy="2.4" transform="rotate(-84.8 587.1 462.1)">Mper11923</text>
<text x="592.7" y="462.7" font-size="7.2" fill="#6cc2a2" dy="2.4" transform="rotate(-82.8 592.7 462.7)">mango029558</text>
<text x="598.4" y="463.5" font-size="7.2" fill="#6cc2a2" dy="2.4" transform="rotate(-80.9 598.4 463.5)">mango029568</text>
<text x="604.0" y="464.5" font-size="7.2" fill="#6cc2a2" dy="2.4" transform="rotate(-78.9 604.0 464.5)">mango029556</text>
<text x="609.6" y="465.7" font-size="7.2" fill="#e9877a" dy="2.4" transform="rotate(-76.9 609.6 465.7)">Mper12131</text>
<text x="615.2" y="467.1" font-size="7.2" fill="#e9877a" dy="2.4" transform="rotate(-75.0 615.2 467.1)">Mper16720</text>
<text x="620.7" y="468.7" font-size="7.2" fill="#e9877a" dy="2.4" transform="rotate(-73.0 620.7 468.7)">Mper05227</text>
<text x="626.1" y="470.5" font-size="7.2" fill="#8b93ba" dy="2.4" transform="rotate(-71.0 626.1 470.5)">alphonso19895</text>
<text x="631.5" y="472.4" font-size="7.2" fill="#e9877a" dy="2.4" transform="rotate(-69.1 631.5 472.4)">Mper19893</text>
<text x="636.8" y="474.5" font-size="7.2" fill="#6cc2a2" dy="2.4" transform="rotate(-67.1 636.8 474.5)">mango002496</text>
<text x="642.0" y="476.9" font-size="7.2" fill="#e9877a" dy="2.4" transform="rotate(-65.1 642.0 476.9)">Mper12130</text>
<text x="647.2" y="479.3" font-size="7.2" fill="#6cc2a2" dy="2.4" transform="rotate(-63.2 647.2 479.3)">mango012267</text>
<text x="652.2" y="482.0" font-size="7.2" fill="#e9877a" dy="2.4" transform="rotate(-61.2 652.2 482.0)">Mper12266</text>
<text x="657.2" y="484.9" font-size="7.2" fill="#e9877a" dy="2.4" transform="rotate(-59.2 657.2 484.9)">Mper12230</text>
<text x="662.1" y="487.9" font-size="7.2" fill="#e9877a" dy="2.4" transform="rotate(-57.3 662.1 487.9)">Mper05049</text>
<text x="666.8" y="491.0" font-size="7.2" fill="#e9877a" dy="2.4" transform="rotate(-55.3 666.8 491.0)">Mper02179</text>
<text x="671.5" y="494.4" font-size="7.2" fill="#e9877a" dy="2.4" transform="rotate(-53.4 671.5 494.4)">Mper22893</text>
<text x="676.0" y="497.9" font-size="7.2" fill="#6cc2a2" dy="2.4" transform="rotate(-51.4 676.0 497.9)">mango028566</text>
<text x="680.4" y="501.5" font-size="7.2" fill="#e9877a" dy="2.4" transform="rotate(-49.4 680.4 501.5)">Mper11928</text>
<text x="684.7" y="505.3" font-size="7.2" fill="#e9877a" dy="2.4" transform="rotate(-47.5 684.7 505.3)">Mper11920</text>
<text x="688.8" y="509.2" font-size="7.2" fill="#6cc2a2" dy="2.4" transform="rotate(-45.5 688.8 509.2)">mango029560</text>
<text x="692.8" y="513.3" font-size="7.2" fill="#8b93ba" dy="2.4" transform="rotate(-43.5 692.8 513.3)">alphonso11908</text>
<text x="696.7" y="517.5" font-size="7.2" fill="#e9877a" dy="2.4" transform="rotate(-41.6 696.7 517.5)">Mper11924</text>
<text x="700.4" y="521.9" font-size="7.2" fill="#8b93ba" dy="2.4" transform="rotate(-39.6 700.4 521.9)">alphonso11910</text>
<text x="704.0" y="526.3" font-size="7.2" fill="#6cc2a2" dy="2.4" transform="rotate(-37.6 704.0 526.3)">mango013296</text>
<text x="707.4" y="530.9" font-size="7.2" fill="#e9877a" dy="2.4" transform="rotate(-35.7 707.4 530.9)">Mper22899</text>
<text x="710.7" y="535.6" font-size="7.2" fill="#e9877a" dy="2.4" transform="rotate(-33.7 710.7 535.6)">Mper22585</text>
<text x="713.7" y="540.4" font-size="7.2" fill="#e9877a" dy="2.4" transform="rotate(-31.7 713.7 540.4)">Mper22584</text>
<text x="716.7" y="545.4" font-size="7.2" fill="#8b93ba" dy="2.4" transform="rotate(-29.8 716.7 545.4)">alphonso02255</text>
<text x="719.4" y="550.4" font-size="7.2" fill="#6cc2a2" dy="2.4" transform="rotate(-27.8 719.4 550.4)">mango033275</text>
<text x="722.0" y="555.5" font-size="7.2" fill="#6cc2a2" dy="2.4" transform="rotate(-25.9 722.0 555.5)">mango019399</text>
<text x="724.4" y="560.7" font-size="7.2" fill="#e9877a" dy="2.4" transform="rotate(-23.9 724.4 560.7)">Mper22884</text>
<text x="726.6" y="565.9" font-size="7.2" fill="#6cc2a2" dy="2.4" transform="rotate(-21.9 726.6 565.9)">mango013298</text>
<text x="728.7" y="571.3" font-size="7.2" fill="#8b93ba" dy="2.4" transform="rotate(-20.0 728.7 571.3)">alphonso22360</text>
<text x="730.5" y="576.7" font-size="7.2" fill="#e9877a" dy="2.4" transform="rotate(-18.0 730.5 576.7)">Mper11552</text>
<text x="732.2" y="582.1" font-size="7.2" fill="#e0201c" dy="2.4" transform="rotate(-16.0 732.2 582.1)">Mper22905</text>
<text x="733.7" y="587.7" font-size="7.2" fill="#e0201c" dy="2.4" transform="rotate(-14.1 733.7 587.7)">Mper22890</text>
<text x="735.0" y="593.2" font-size="7.2" fill="#e0201c" dy="2.4" transform="rotate(-12.1 735.0 593.2)">Mper22881</text>
<text x="736.1" y="598.9" font-size="7.2" fill="#e0201c" dy="2.4" transform="rotate(-10.1 736.1 598.9)">Mper22896</text>
<text x="737.0" y="604.5" font-size="7.2" fill="#e0201c" dy="2.4" transform="rotate(-8.2 737.0 604.5)">Mper22903</text>
<text x="737.7" y="610.2" font-size="7.2" fill="#e0201c" dy="2.4" transform="rotate(-6.2 737.7 610.2)">Mper22894</text>
<text x="738.2" y="615.9" font-size="7.2" fill="#6cc2a2" dy="2.4" transform="rotate(-4.2 738.2 615.9)">mango013684</text>
<text x="738.6" y="621.6" font-size="7.2" fill="#8b93ba" dy="2.4" transform="rotate(-2.3 738.6 621.6)">alphonso22652</text>
<text x="738.7" y="627.3" font-size="7.2" fill="#8b93ba" dy="2.4" transform="rotate(-0.3 738.7 627.3)">alphonso22647</text>
<text x="738.6" y="633.0" font-size="7.2" fill="#e9877a" dy="2.4" transform="rotate(1.7 738.6 633.0)">Mper22887</text>
<text x="738.4" y="638.7" font-size="7.2" fill="#e9877a" dy="2.4" transform="rotate(3.6 738.4 638.7)">Mper22880</text>
<path d="M801.19,655.67 A229.50,229.50 0 0 1 775.28,736.86" fill="none" stroke="#d94b35" stroke-width="2.6"/>
<path d="M698.1,659.6A130.0,130.0 0 0 1 690.0,682.5M704.9,661.3L698.1,659.6M706.2,655.3A137.0,137.0 0 0 1 703.2,667.2M713.1,656.7L706.2,655.3M714.0,651.3A144.0,144.0 0 0 1 711.9,662.1M721.0,652.4L714.0,651.3M721.5,648.6A151.0,151.0 0 0 1 720.3,656.2M728.5,649.5L721.5,648.6M728.8,646.8A158.0,158.0 0 0 1 728.1,652.2M735.7,647.7L728.8,646.8M735.0,653.2L728.1,652.2M734.0,658.8L720.3,656.2M725.5,665.4L711.9,662.1M726.1,662.7A158.0,158.0 0 0 1 724.8,668.0M732.9,664.3L726.1,662.7M731.6,669.7L724.8,668.0M730.1,675.1L703.2,667.2M696.4,685.4L690.0,682.5M698.8,679.8A137.0,137.0 0 0 1 693.7,690.9M705.3,682.4L698.8,679.8M707.3,677.3A144.0,144.0 0 0 1 703.1,687.5M713.8,679.7L707.3,677.3M715.1,676.1A151.0,151.0 0 0 1 712.5,683.3M728.4,680.5L715.1,676.1M719.0,685.9L712.5,683.3M720.0,683.3A158.0,158.0 0 0 1 718.0,688.3M726.5,685.8L720.0,683.3M724.5,691.0L718.0,688.3M722.3,696.2L703.1,687.5M712.4,700.5L693.7,690.9M713.6,698.1A158.0,158.0 0 0 1 711.1,702.9M719.9,701.2L713.6,698.1M717.3,706.2L711.1,702.9" fill="none" stroke="#222" stroke-width="0.55"/><line x1="690.10" y1="682.32" x2="571.90" y2="628.20" stroke="#111" stroke-width="0.8"/>
<text x="737.5" y="647.9" font-size="7.2" fill="#8b93ba" dy="2.4" transform="rotate(6.8 737.5 647.9)">alphonso21422</text>
<text x="736.8" y="653.5" font-size="7.2" fill="#e9877a" dy="2.4" transform="rotate(8.7 736.8 653.5)">Mper21654</text>
<text x="735.8" y="659.1" font-size="7.2" fill="#8b93ba" dy="2.4" transform="rotate(10.7 735.8 659.1)">alphonso21423</text>
<text x="734.7" y="664.7" font-size="7.2" fill="#8b93ba" dy="2.4" transform="rotate(12.6 734.7 664.7)">alphonso21424</text>
<text x="733.3" y="670.2" font-size="7.2" fill="#6cc2a2" dy="2.4" transform="rotate(14.6 733.3 670.2)">mango012265</text>
<text x="731.8" y="675.6" font-size="7.2" fill="#6cc2a2" dy="2.4" transform="rotate(16.5 731.8 675.6)">mango013693</text>
<text x="730.1" y="681.1" font-size="7.2" fill="#e9877a" dy="2.4" transform="rotate(18.5 730.1 681.1)">Mper19817</text>
<text x="728.2" y="686.4" font-size="7.2" fill="#e9877a" dy="2.4" transform="rotate(20.4 728.2 686.4)">Mper21655</text>
<text x="726.1" y="691.7" font-size="7.2" fill="#8b93ba" dy="2.4" transform="rotate(22.4 726.1 691.7)">alphonso21419</text>
<text x="723.9" y="696.9" font-size="7.2" fill="#6cc2a2" dy="2.4" transform="rotate(24.3 723.9 696.9)">mango012281</text>
<text x="721.5" y="702.0" font-size="7.2" fill="#6cc2a2" dy="2.4" transform="rotate(26.3 721.5 702.0)">mango029564</text>
<text x="718.9" y="707.1" font-size="7.2" fill="#e9877a" dy="2.4" transform="rotate(28.2 718.9 707.1)">Mper02178</text>
<path d="M763.66,756.03 A229.50,229.50 0 0 1 372.67,738.96" fill="none" stroke="#7b5a3e" stroke-width="2.6"/>
<path d="M621.7,674.5A68.0,68.0 0 0 1 549.3,692.3M626.5,678.9L621.7,674.5M633.0,670.9A74.5,74.5 0 0 1 619.0,686.0M695.7,714.7L633.0,670.9M697.8,711.5A151.0,151.0 0 0 1 693.4,717.9M709.5,719.2L697.8,711.5M699.0,722.0L693.4,717.9M700.6,719.8A158.0,158.0 0 0 1 697.4,724.2M706.3,723.9L700.6,719.8M702.9,728.5L697.4,724.2M623.1,691.0L619.0,686.0M632.2,682.2A81.0,81.0 0 0 1 612.6,698.2M684.4,728.9L632.2,682.2M686.9,726.0A151.0,151.0 0 0 1 681.8,731.8M692.3,730.5L686.9,726.0M694.0,728.5A158.0,158.0 0 0 1 690.5,732.6M699.4,732.9L694.0,728.5M695.8,737.2L690.5,732.6M691.9,741.4L681.8,731.8M615.9,703.8L612.6,698.2M627.3,695.9A87.5,87.5 0 0 1 603.4,709.8M631.4,701.0L627.3,695.9M636.9,696.1A94.0,94.0 0 0 1 625.5,705.4M681.1,742.4L636.9,696.1M683.1,740.5A158.0,158.0 0 0 1 679.2,744.2M688.0,745.4L683.1,740.5M683.9,749.4L679.2,744.2M629.2,710.7L625.5,705.4M635.6,706.0A100.5,100.5 0 0 1 622.6,715.0M667.6,745.0L635.6,706.0M670.5,742.5A151.0,151.0 0 0 1 664.5,747.5M679.7,753.1L670.5,742.5M668.8,753.0L664.5,747.5M670.9,751.3A158.0,158.0 0 0 1 666.7,754.6M675.3,756.8L670.9,751.3M670.9,760.2L666.7,754.6M625.8,720.6L622.6,715.0M633.1,716.0A107.0,107.0 0 0 1 618.2,724.6M666.3,763.6L633.1,716.0M631.2,751.7L618.2,724.6M636.7,748.9A137.0,137.0 0 0 1 625.6,754.2M640.0,755.1L636.7,748.9M644.9,752.3A144.0,144.0 0 0 1 635.1,757.6M648.4,758.4L644.9,752.3M651.8,756.3A151.0,151.0 0 0 1 645.1,760.3M655.5,762.3L651.8,756.3M657.8,760.8A158.0,158.0 0 0 1 653.2,763.7M661.6,766.7L657.8,760.8M656.8,769.7L653.2,763.7M651.9,772.5L645.1,760.3M641.2,770.2L635.1,757.6M643.7,769.0A158.0,158.0 0 0 1 638.8,771.3M646.9,775.2L643.7,769.0M641.8,777.7L638.8,771.3M636.6,780.0L625.6,754.2M631.3,782.1L603.4,709.8M547.1,698.5L549.3,692.3M567.8,702.6A74.5,74.5 0 0 1 528.5,688.8M567.4,709.1L567.8,702.6M580.5,708.7A81.0,81.0 0 0 1 554.4,707.3M581.2,715.2L580.5,708.7M587.5,714.3A87.5,87.5 0 0 1 574.9,715.6M596.4,763.0L587.5,714.3M605.6,761.0A137.0,137.0 0 0 1 587.1,764.4M607.3,767.8L605.6,761.0M613.3,766.1A144.0,144.0 0 0 1 601.3,769.2M615.3,772.8L613.3,766.1M619.0,771.7A151.0,151.0 0 0 1 611.5,773.9M621.2,778.3L619.0,771.7M623.7,777.5A158.0,158.0 0 0 1 618.6,779.1M626.0,784.1L623.7,777.5M620.6,785.8L618.6,779.1M615.2,787.4L611.5,773.9M602.7,776.0L601.3,769.2M606.5,775.2A151.0,151.0 0 0 1 598.9,776.8M609.7,788.8L606.5,775.2M600.2,783.7L598.9,776.8M602.8,783.1A158.0,158.0 0 0 1 597.5,784.1M604.2,790.0L602.8,783.1M598.6,791.0L597.5,784.1M589.4,785.2L587.1,764.4M592.1,784.9A158.0,158.0 0 0 1 586.7,785.5M593.0,791.8L592.1,784.9M587.4,792.5L586.7,785.5M577.0,779.1L574.9,715.6M580.9,778.9A151.0,151.0 0 0 1 573.1,779.2M581.7,792.9L580.9,778.9M573.2,786.2L573.1,779.2M575.9,786.1A158.0,158.0 0 0 1 570.5,786.2M576.1,793.1L575.9,786.1M570.4,793.2L570.5,786.2M553.0,713.6L554.4,707.3M558.6,714.7A87.5,87.5 0 0 1 547.4,712.2M551.1,763.6L558.6,714.7M560.1,764.7A137.0,137.0 0 0 1 542.1,761.9M558.9,778.6L560.1,764.7M562.8,778.9A151.0,151.0 0 0 1 555.0,778.3M562.3,785.9L562.8,778.9M565.1,786.1A158.0,158.0 0 0 1 559.6,785.7M564.8,793.0L565.1,786.1M559.1,792.7L559.6,785.7M553.5,792.2L555.0,778.3M540.6,768.8L542.1,761.9M544.8,769.6A144.0,144.0 0 0 1 536.4,767.7M543.5,776.5L544.8,769.6M547.3,777.2A151.0,151.0 0 0 1 539.7,775.7M546.2,784.1L547.3,777.2M548.9,784.5A158.0,158.0 0 0 1 543.5,783.6M547.8,791.4L548.9,784.5M542.3,790.5L543.5,783.6M536.7,789.4L539.7,775.7M531.2,788.1L536.4,767.7M525.7,786.6L547.4,712.2M524.7,694.0L528.5,688.8M533.0,699.3A81.0,81.0 0 0 1 517.1,687.8M506.2,748.4L533.0,699.3M515.4,753.0A137.0,137.0 0 0 1 497.4,743.1M512.5,759.4L515.4,753.0M519.9,762.5A144.0,144.0 0 0 1 505.3,755.9M517.4,769.0L519.9,762.5M522.2,770.8A151.0,151.0 0 0 1 512.6,767.1M519.9,777.4L522.2,770.8M522.5,778.3A158.0,158.0 0 0 1 517.4,776.5M520.3,784.9L522.5,778.3M515.0,783.1L517.4,776.5M509.8,773.5L512.6,767.1M512.3,774.5A158.0,158.0 0 0 1 507.3,772.4M509.7,781.0L512.3,774.5M504.5,778.8L507.3,772.4M502.0,762.1L505.3,755.9M505.5,763.8A151.0,151.0 0 0 1 498.6,760.2M499.4,776.4L505.5,763.8M495.2,766.3L498.6,760.2M497.6,767.6A158.0,158.0 0 0 1 492.9,765.0M494.3,773.8L497.6,767.6M489.4,771.1L492.9,765.0M485.9,760.8L497.4,743.1M488.2,762.2A158.0,158.0 0 0 1 483.7,759.3M484.5,768.2L488.2,762.2M479.8,765.1L483.7,759.3M512.7,692.6L517.1,687.8M518.8,697.7A87.5,87.5 0 0 1 507.1,687.0M480.2,748.2L518.8,697.7M483.3,750.5A151.0,151.0 0 0 1 477.1,745.8M475.1,761.8L483.3,750.5M472.8,751.2L477.1,745.8M474.9,752.9A158.0,158.0 0 0 1 470.7,749.5M470.6,758.4L474.9,752.9M466.2,754.9L470.7,749.5M502.3,691.3L507.1,687.0M509.2,698.3A94.0,94.0 0 0 1 496.0,683.7M461.9,751.2L509.2,698.3M490.8,687.6L496.0,683.7M497.1,695.3A100.5,100.5 0 0 1 485.3,679.2M470.0,719.7L497.1,695.3M477.1,727.1A137.0,137.0 0 0 1 463.4,711.8M457.7,747.3L477.1,727.1M457.8,716.1L463.4,711.8M463.7,723.2A144.0,144.0 0 0 1 452.4,708.6M458.5,727.9L463.7,723.2M461.9,731.7A151.0,151.0 0 0 1 455.1,723.9M456.8,736.5L461.9,731.7M458.7,738.5A158.0,158.0 0 0 1 455.0,734.5M453.7,743.3L458.7,738.5M449.8,739.2L455.0,734.5M449.7,728.3L455.1,723.9M451.4,730.4A158.0,158.0 0 0 1 448.0,726.2M446.1,735.0L451.4,730.4M442.5,730.6L448.0,726.2M446.6,712.5L452.4,708.6M448.8,715.7A151.0,151.0 0 0 1 444.5,709.2M443.1,719.7L448.8,715.7M444.7,721.9A158.0,158.0 0 0 1 441.6,717.5M439.1,726.1L444.7,721.9M435.8,721.5L441.6,717.5M432.7,716.7L444.5,709.2M429.7,711.9L485.3,679.2" fill="none" stroke="#2b2624" stroke-width="0.55"/><line x1="588.18" y1="694.22" x2="586.02" y2="685.49" stroke="#2b2624" stroke-width="0.55"/><path d="M586.02,685.49 A59.00,59.00 0 0 1 513.22,622.03" fill="none" stroke="#2b2624" stroke-width="0.55"/><path d="M523.48,649.76 A53.00,53.00 0 0 1 519.03,631.90" fill="none" stroke="#2b2624" stroke-width="0.55"/><line x1="523.48" y1="649.76" x2="518.00" y2="652.20" stroke="#2b2624" stroke-width="0.55"/><line x1="519.03" y1="631.90" x2="513.04" y2="632.32" stroke="#2b2624" stroke-width="0.55"/><line x1="513.22" y1="622.03" x2="532.12" y2="624.02" stroke="#2b2624" stroke-width="0.55"/>
<text x="711.0" y="720.2" font-size="7.2" fill="#e9877a" dy="2.4" transform="rotate(33.5 711.0 720.2)">Mper19820</text>
<text x="707.8" y="724.9" font-size="7.2" fill="#e9877a" dy="2.4" transform="rotate(35.5 707.8 724.9)">Mper19818</text>
<text x="704.4" y="729.5" font-size="7.2" fill="#6cc2a2" dy="2.4" transform="rotate(37.4 704.4 729.5)">mango022587</text>
<text x="700.8" y="734.0" font-size="7.2" fill="#8b93ba" dy="2.4" transform="rotate(39.4 700.8 734.0)">alphonso32052</text>
<text x="697.1" y="738.4" font-size="7.2" fill="#6cc2a2" dy="2.4" transform="rotate(41.3 697.1 738.4)">mango030550</text>
<text x="693.3" y="742.6" font-size="7.2" fill="#8b93ba" dy="2.4" transform="rotate(43.3 693.3 742.6)">alphonso12701</text>
<text x="689.3" y="746.7" font-size="7.2" fill="#8b93ba" dy="2.4" transform="rotate(45.3 689.3 746.7)">alphonso12700</text>
<text x="685.1" y="750.7" font-size="7.2" fill="#e9877a" dy="2.4" transform="rotate(47.2 685.1 750.7)">Mper12725</text>
<text x="680.9" y="754.5" font-size="7.2" fill="#e9877a" dy="2.4" transform="rotate(49.2 680.9 754.5)">Mper19815</text>
<text x="676.5" y="758.2" font-size="7.2" fill="#e9877a" dy="2.4" transform="rotate(51.2 676.5 758.2)">Mper19810</text>
<text x="671.9" y="761.7" font-size="7.2" fill="#e9877a" dy="2.4" transform="rotate(53.2 671.9 761.7)">Mper22878</text>
<text x="667.3" y="765.0" font-size="7.2" fill="#8b93ba" dy="2.4" transform="rotate(55.1 667.3 765.0)">alphonso22656</text>
<text x="662.5" y="768.2" font-size="7.2" fill="#8b93ba" dy="2.4" transform="rotate(57.1 662.5 768.2)">alphonso22654</text>
<text x="657.7" y="771.3" font-size="7.2" fill="#6cc2a2" dy="2.4" transform="rotate(59.1 657.7 771.3)">mango013687</text>
<text x="652.7" y="774.1" font-size="7.2" fill="#e9877a" dy="2.4" transform="rotate(61.0 652.7 774.1)">Mper22882</text>
<text x="647.7" y="776.8" font-size="7.2" fill="#e9877a" dy="2.4" transform="rotate(63.0 647.7 776.8)">Mper22879</text>
<text x="642.5" y="779.3" font-size="7.2" fill="#8b93ba" dy="2.4" transform="rotate(64.9 642.5 779.3)">alphonso22651</text>
<text x="637.3" y="781.6" font-size="7.2" fill="#e9877a" dy="2.4" transform="rotate(66.9 637.3 781.6)">Mper22876</text>
<text x="632.0" y="783.8" font-size="7.2" fill="#8b93ba" dy="2.4" transform="rotate(68.9 632.0 783.8)">alphonso22636</text>
<text x="626.6" y="785.8" font-size="7.2" fill="#6cc2a2" dy="2.4" transform="rotate(70.8 626.6 785.8)">mango013682</text>
<text x="621.2" y="787.6" font-size="7.2" fill="#8b93ba" dy="2.4" transform="rotate(72.8 621.2 787.6)">alphonso11654</text>
<text x="615.7" y="789.2" font-size="7.2" fill="#e9877a" dy="2.4" transform="rotate(74.8 615.7 789.2)">Mper11554</text>
<text x="610.1" y="790.6" font-size="7.2" fill="#6cc2a2" dy="2.4" transform="rotate(76.8 610.1 790.6)">mango029133</text>
<text x="604.5" y="791.8" font-size="7.2" fill="#6cc2a2" dy="2.4" transform="rotate(78.7 604.5 791.8)">mango029135</text>
<text x="598.9" y="792.8" font-size="7.2" fill="#6cc2a2" dy="2.4" transform="rotate(80.7 598.9 792.8)">mango018420</text>
<text x="593.2" y="793.6" font-size="7.2" fill="#8b93ba" dy="2.4" transform="rotate(82.7 593.2 793.6)">alphonso12121</text>
<text x="587.5" y="794.3" font-size="7.2" fill="#8b93ba" dy="2.4" transform="rotate(84.6 587.5 794.3)">alphonso02257</text>
<text x="581.8" y="794.7" font-size="7.2" fill="#8b93ba" dy="2.4" transform="rotate(86.6 581.8 794.7)">alphonso15881</text>
<text x="576.1" y="794.9" font-size="7.2" fill="#8b93ba" dy="2.4" transform="rotate(88.6 576.1 794.9)">alphonso15801</text>
<text x="570.4" y="795.0" font-size="7.2" fill="#e9877a" dy="2.4" text-anchor="end" transform="rotate(-89.5 570.4 795.0)">Mper16070</text>
<text x="564.7" y="794.8" font-size="7.2" fill="#6cc2a2" dy="2.4" text-anchor="end" transform="rotate(-87.5 564.7 794.8)">mango018423</text>
<text x="559.0" y="794.5" font-size="7.2" fill="#8b93ba" dy="2.4" text-anchor="end" transform="rotate(-85.6 559.0 794.5)">alphonso15904</text>
<text x="553.3" y="794.0" font-size="7.2" fill="#8b93ba" dy="2.4" text-anchor="end" transform="rotate(-83.6 553.3 794.0)">alphonso15903</text>
<text x="547.6" y="793.2" font-size="7.2" fill="#e9877a" dy="2.4" text-anchor="end" transform="rotate(-81.6 547.6 793.2)">Mper16075</text>
<text x="541.9" y="792.3" font-size="7.2" fill="#e9877a" dy="2.4" text-anchor="end" transform="rotate(-79.7 541.9 792.3)">Mper16074</text>
<text x="536.3" y="791.2" font-size="7.2" fill="#e9877a" dy="2.4" text-anchor="end" transform="rotate(-77.7 536.3 791.2)">Mper16072</text>
<text x="530.7" y="789.8" font-size="7.2" fill="#6cc2a2" dy="2.4" text-anchor="end" transform="rotate(-75.7 530.7 789.8)">mango018422</text>
<text x="525.2" y="788.3" font-size="7.2" fill="#8b93ba" dy="2.4" text-anchor="end" transform="rotate(-73.8 525.2 788.3)">alphonso15902</text>
<text x="519.8" y="786.6" font-size="7.2" fill="#e9877a" dy="2.4" text-anchor="end" transform="rotate(-71.8 519.8 786.6)">Mper16071</text>
<text x="514.3" y="784.8" font-size="7.2" fill="#8b93ba" dy="2.4" text-anchor="end" transform="rotate(-69.8 514.3 784.8)">alphonso15899</text>
<text x="509.0" y="782.7" font-size="7.2" fill="#e9877a" dy="2.4" text-anchor="end" transform="rotate(-67.9 509.0 782.7)">Mper16069</text>
<text x="503.7" y="780.4" font-size="7.2" fill="#6cc2a2" dy="2.4" text-anchor="end" transform="rotate(-65.9 503.7 780.4)">mango018418</text>
<text x="498.6" y="778.0" font-size="7.2" fill="#6cc2a2" dy="2.4" text-anchor="end" transform="rotate(-63.9 498.6 778.0)">mango008731</text>
<text x="493.5" y="775.4" font-size="7.2" fill="#8b93ba" dy="2.4" text-anchor="end" transform="rotate(-61.9 493.5 775.4)">alphonso15898</text>
<text x="488.5" y="772.6" font-size="7.2" fill="#8b93ba" dy="2.4" text-anchor="end" transform="rotate(-60.0 488.5 772.6)">alphonso15897</text>
<text x="483.6" y="769.7" font-size="7.2" fill="#e9877a" dy="2.4" text-anchor="end" transform="rotate(-58.0 483.6 769.7)">Mper16181</text>
<text x="478.7" y="766.6" font-size="7.2" fill="#e9877a" dy="2.4" text-anchor="end" transform="rotate(-56.1 478.7 766.6)">Mper24413</text>
<text x="474.1" y="763.3" font-size="7.2" fill="#6cc2a2" dy="2.4" text-anchor="end" transform="rotate(-54.1 474.1 763.3)">mango016653</text>
<text x="469.5" y="759.8" font-size="7.2" fill="#8b93ba" dy="2.4" text-anchor="end" transform="rotate(-52.1 469.5 759.8)">alphonso29258</text>
<text x="465.0" y="756.3" font-size="7.2" fill="#e9877a" dy="2.4" text-anchor="end" transform="rotate(-50.2 465.0 756.3)">Mper22903</text>
<text x="460.7" y="752.5" font-size="7.2" fill="#8b93ba" dy="2.4" text-anchor="end" transform="rotate(-48.2 460.7 752.5)">alphonso22658</text>
<text x="456.5" y="748.6" font-size="7.2" fill="#8b93ba" dy="2.4" text-anchor="end" transform="rotate(-46.2 456.5 748.6)">alphonso22657</text>
<text x="452.4" y="744.6" font-size="7.2" fill="#e9877a" dy="2.4" text-anchor="end" transform="rotate(-44.2 452.4 744.6)">Mper22900</text>
<text x="448.5" y="740.4" font-size="7.2" fill="#8b93ba" dy="2.4" text-anchor="end" transform="rotate(-42.3 448.5 740.4)">alphonso22641</text>
<text x="444.7" y="736.1" font-size="7.2" fill="#8b93ba" dy="2.4" text-anchor="end" transform="rotate(-40.3 444.7 736.1)">alphonso32051</text>
<text x="441.1" y="731.7" font-size="7.2" fill="#8b93ba" dy="2.4" text-anchor="end" transform="rotate(-38.4 441.1 731.7)">alphonso16575</text>
<text x="437.6" y="727.1" font-size="7.2" fill="#6cc2a2" dy="2.4" text-anchor="end" transform="rotate(-36.4 437.6 727.1)">mango013689</text>
<text x="434.3" y="722.5" font-size="7.2" fill="#e9877a" dy="2.4" text-anchor="end" transform="rotate(-34.4 434.3 722.5)">Mper02176</text>
<text x="431.1" y="717.7" font-size="7.2" fill="#e9877a" dy="2.4" text-anchor="end" transform="rotate(-32.4 431.1 717.7)">Mper02177</text>
<text x="428.2" y="712.8" font-size="7.2" fill="#6cc2a2" dy="2.4" text-anchor="end" transform="rotate(-30.5 428.2 712.8)">mango033277</text>
<path d="M372.67,738.96 A229.50,229.50 0 0 1 369.46,522.44" fill="none" stroke="#7a8cc0" stroke-width="2.6"/>
<path d="M565.7,631.5A7.0,7.0 0 0 1 564.9,628.7M426.9,707.0L565.7,631.5M561.5,628.9L564.9,628.7M562.4,632.4A10.4,10.4 0 0 1 561.9,625.4M433.1,690.2L562.4,632.4M434.8,693.8A152.0,152.0 0 0 1 431.6,686.6M428.9,696.6L434.8,693.8M430.1,699.0A158.5,158.5 0 0 1 427.8,694.1M424.3,701.9L430.1,699.0M421.8,696.8L427.8,694.1M419.6,691.6L431.6,686.6M558.6,624.4L561.9,625.4M558.2,626.7A13.8,13.8 0 0 1 559.5,622.2M554.8,626.4L558.2,626.7M555.0,631.3A17.2,17.2 0 0 1 556.0,621.6M551.6,632.0L555.0,631.3M552.4,635.0A20.6,20.6 0 0 1 551.3,628.9M428.3,678.1L552.4,635.0M429.7,681.8A152.0,152.0 0 0 1 427.1,674.4M417.5,686.4L429.7,681.8M420.9,676.4L427.1,674.4M421.7,678.9A158.5,158.5 0 0 1 420.1,673.8M415.6,681.0L421.7,678.9M413.9,675.6L420.1,673.8M547.9,629.0L551.3,628.9M548.6,633.9A24.0,24.0 0 0 1 548.3,624.1M417.9,665.9L548.6,633.9M418.6,668.5A158.5,158.5 0 0 1 417.3,663.2M412.3,670.2L418.6,668.5M411.0,664.7L417.3,663.2M544.9,623.5L548.3,624.1M544.5,627.4A27.4,27.4 0 0 1 545.9,619.6M541.1,627.4L544.5,627.4M541.4,632.8A30.8,30.8 0 0 1 541.7,621.9M428.0,649.9L541.4,632.8M429.0,655.5A145.5,145.5 0 0 1 427.3,644.3M409.8,659.1L429.0,655.5M420.8,645.1L427.3,644.3M421.3,648.9A152.0,152.0 0 0 1 420.5,641.2M414.9,649.8L421.3,648.9M415.3,652.5A158.5,158.5 0 0 1 414.5,647.1M408.9,653.5L415.3,652.5M408.1,647.9L414.5,647.1M407.5,642.3L420.5,641.2M538.4,621.2L541.7,621.9M538.1,623.0A34.2,34.2 0 0 1 538.8,619.5M534.7,622.5L538.1,623.0M534.4,625.3A37.6,37.6 0 0 1 535.2,619.8M531.0,625.0L534.4,625.3M530.9,628.8A41.0,41.0 0 0 1 531.5,621.2M527.5,628.9L530.9,628.8M527.6,630.5A44.4,44.4 0 0 1 527.5,627.3M407.1,636.6L527.6,630.5M524.1,627.2L527.5,627.3M524.1,629.0A47.8,47.8 0 0 1 524.2,625.5M406.9,630.9L524.1,629.0M426.6,620.0L524.2,625.5M426.4,625.6A145.5,145.5 0 0 1 427.1,614.4M406.9,625.3L426.4,625.6M420.6,613.8L427.1,614.4M420.3,617.7A152.0,152.0 0 0 1 421.0,609.9M413.8,617.2L420.3,617.7M413.6,619.9A158.5,158.5 0 0 1 414.0,614.5M407.1,619.6L413.6,619.9M407.5,613.9L414.0,614.5M408.1,608.3L421.0,609.9M415.8,601.0L531.5,621.2M415.3,603.7A158.5,158.5 0 0 1 416.2,598.3M408.9,602.7L415.3,603.7M409.9,597.1L416.2,598.3M411.0,591.6L535.2,619.8M412.4,586.0L538.8,619.5M427.5,580.6L545.9,619.6M426.4,584.3A152.0,152.0 0 0 1 428.8,576.9M413.9,580.6L426.4,584.3M422.7,574.7L428.8,576.9M421.8,577.3A158.5,158.5 0 0 1 423.6,572.2M415.6,575.2L421.8,577.3M417.6,569.9L423.6,572.2M419.7,564.6L556.0,621.6M429.0,559.6L559.5,622.2M427.8,562.1A158.5,158.5 0 0 1 430.2,557.2M421.9,559.4L427.8,562.1M424.4,554.3L430.2,557.2" fill="none" stroke="#2a2a3a" stroke-width="0.55"/><line x1="565.18" y1="630.17" x2="571.90" y2="628.20" stroke="#111" stroke-width="0.8"/>
<text x="425.3" y="707.8" font-size="7.2" fill="#8b93ba" dy="2.4" text-anchor="end" transform="rotate(-28.5 425.3 707.8)">alphonso02253</text>
<text x="422.7" y="702.7" font-size="7.2" fill="#6cc2a2" dy="2.4" text-anchor="end" transform="rotate(-26.5 422.7 702.7)">mango012164</text>
<text x="420.2" y="697.6" font-size="7.2" fill="#8b93ba" dy="2.4" text-anchor="end" transform="rotate(-24.6 420.2 697.6)">alphonso02250</text>
<text x="417.9" y="692.3" font-size="7.2" fill="#8b93ba" dy="2.4" text-anchor="end" transform="rotate(-22.6 417.9 692.3)">alphonso02252</text>
<text x="415.8" y="687.0" font-size="7.2" fill="#8b93ba" dy="2.4" text-anchor="end" transform="rotate(-20.6 415.8 687.0)">alphonso02249</text>
<text x="413.9" y="681.6" font-size="7.2" fill="#8b93ba" dy="2.4" text-anchor="end" transform="rotate(-18.7 413.9 681.6)">alphonso02247</text>
<text x="412.1" y="676.1" font-size="7.2" fill="#e9877a" dy="2.4" text-anchor="end" transform="rotate(-16.7 412.1 676.1)">Mper12791</text>
<text x="410.6" y="670.6" font-size="7.2" fill="#6cc2a2" dy="2.4" text-anchor="end" transform="rotate(-14.7 410.6 670.6)">mango030573</text>
<text x="409.2" y="665.1" font-size="7.2" fill="#e9877a" dy="2.4" text-anchor="end" transform="rotate(-12.8 409.2 665.1)">Mper12788</text>
<text x="408.1" y="659.4" font-size="7.2" fill="#8b93ba" dy="2.4" text-anchor="end" transform="rotate(-10.8 408.1 659.4)">alphonso12725</text>
<text x="407.1" y="653.8" font-size="7.2" fill="#6cc2a2" dy="2.4" text-anchor="end" transform="rotate(-8.8 407.1 653.8)">mango030575</text>
<text x="406.3" y="648.1" font-size="7.2" fill="#e9877a" dy="2.4" text-anchor="end" transform="rotate(-6.9 406.3 648.1)">Mper12790</text>
<text x="405.7" y="642.4" font-size="7.2" fill="#e9877a" dy="2.4" text-anchor="end" transform="rotate(-4.9 405.7 642.4)">Mper12786</text>
<text x="405.3" y="636.7" font-size="7.2" fill="#e9877a" dy="2.4" text-anchor="end" transform="rotate(-2.9 405.3 636.7)">Mper12787</text>
<text x="405.1" y="631.0" font-size="7.2" fill="#8b93ba" dy="2.4" text-anchor="end" transform="rotate(-0.9 405.1 631.0)">alphonso12728</text>
<text x="405.1" y="625.2" font-size="7.2" fill="#6cc2a2" dy="2.4" text-anchor="end" transform="rotate(1.0 405.1 625.2)">mango030574</text>
<text x="405.3" y="619.5" font-size="7.2" fill="#6cc2a2" dy="2.4" text-anchor="end" transform="rotate(3.0 405.3 619.5)">mango033274</text>
<text x="405.7" y="613.8" font-size="7.2" fill="#8b93ba" dy="2.4" text-anchor="end" transform="rotate(5.0 405.7 613.8)">alphonso02261</text>
<text x="406.3" y="608.1" font-size="7.2" fill="#8b93ba" dy="2.4" text-anchor="end" transform="rotate(6.9 406.3 608.1)">alphonso02263</text>
<text x="407.1" y="602.4" font-size="7.2" fill="#8b93ba" dy="2.4" text-anchor="end" transform="rotate(8.9 407.1 602.4)">alphonso02259</text>
<text x="408.1" y="596.8" font-size="7.2" fill="#e9877a" dy="2.4" text-anchor="end" transform="rotate(10.9 408.1 596.8)">Mper02180</text>
<text x="409.3" y="591.2" font-size="7.2" fill="#8b93ba" dy="2.4" text-anchor="end" transform="rotate(12.8 409.3 591.2)">alphonso02260</text>
<text x="410.6" y="585.6" font-size="7.2" fill="#6cc2a2" dy="2.4" text-anchor="end" transform="rotate(14.8 410.6 585.6)">mango001493</text>
<text x="412.2" y="580.1" font-size="7.2" fill="#6cc2a2" dy="2.4" text-anchor="end" transform="rotate(16.8 412.2 580.1)">mango033276</text>
<text x="413.9" y="574.6" font-size="7.2" fill="#e9877a" dy="2.4" text-anchor="end" transform="rotate(18.7 413.9 574.6)">Mper02186</text>
<text x="415.9" y="569.2" font-size="7.2" fill="#6cc2a2" dy="2.4" text-anchor="end" transform="rotate(20.7 415.9 569.2)">mango035112</text>
<text x="418.0" y="563.9" font-size="7.2" fill="#8b93ba" dy="2.4" text-anchor="end" transform="rotate(22.7 418.0 563.9)">alphonso25522</text>
<text x="420.3" y="558.6" font-size="7.2" fill="#6cc2a2" dy="2.4" text-anchor="end" transform="rotate(24.6 420.3 558.6)">mango032180</text>
<text x="422.8" y="553.5" font-size="7.2" fill="#e9877a" dy="2.4" text-anchor="end" transform="rotate(26.6 422.8 553.5)">Mper25822</text>
<path d="M371.90,517.84 A229.50,229.50 0 0 1 388.68,491.51" fill="none" stroke="#e68a6c" stroke-width="2.6"/>
<path d="M452.0,561.9A137.0,137.0 0 0 1 459.5,549.8M427.5,548.3L452.0,561.9M453.8,545.8L459.5,549.8M451.4,549.3A144.0,144.0 0 0 1 456.2,542.4M445.6,545.5L451.4,549.3M443.6,548.6A151.0,151.0 0 0 1 447.7,542.3M437.6,544.9L443.6,548.6M436.3,547.2A158.0,158.0 0 0 1 439.0,542.7M430.2,543.6L436.3,547.2M433.1,538.9L439.0,542.7M436.2,534.4L447.7,542.3M439.3,529.9L456.2,542.4" fill="none" stroke="#222" stroke-width="0.55"/><line x1="459.27" y1="550.21" x2="571.90" y2="628.20" stroke="#111" stroke-width="0.8"/>
<text x="425.9" y="547.5" font-size="7.2" fill="#e9877a" dy="2.4" text-anchor="end" transform="rotate(28.9 425.9 547.5)">Mper02181</text>
<text x="428.7" y="542.7" font-size="7.2" fill="#6cc2a2" dy="2.4" text-anchor="end" transform="rotate(30.8 428.7 542.7)">mango019271</text>
<text x="431.6" y="538.0" font-size="7.2" fill="#e9877a" dy="2.4" text-anchor="end" transform="rotate(32.8 431.6 538.0)">Mper02183</text>
<text x="434.7" y="533.4" font-size="7.2" fill="#6cc2a2" dy="2.4" text-anchor="end" transform="rotate(34.6 434.7 533.4)">mango019272</text>
<text x="437.9" y="528.9" font-size="7.2" fill="#e9877a" dy="2.4" text-anchor="end" transform="rotate(36.6 437.9 528.9)">Mper17186</text>
<path d="M394.79,483.58 A229.50,229.50 0 0 1 456.57,430.16" fill="none" stroke="#33487d" stroke-width="2.6"/>
<path d="M490.2,545.9A116.0,116.0 0 0 1 513.1,528.2M485.2,540.9L490.2,545.9M475.6,551.7A123.0,123.0 0 0 1 496.1,531.4M442.7,525.6L475.6,551.7M491.7,525.8L496.1,531.4M482.0,534.3A130.0,130.0 0 0 1 502.3,518.4M477.2,529.2L482.0,534.3M470.2,536.4A137.0,137.0 0 0 1 484.6,522.6M465.0,531.7L470.2,536.4M462.2,534.9A144.0,144.0 0 0 1 467.8,528.7M446.2,521.3L462.2,534.9M462.8,523.8L467.8,528.7M460.2,526.6A151.0,151.0 0 0 1 465.4,521.1M449.8,517.2L460.2,526.6M460.5,516.2L465.4,521.1M458.6,518.0A158.0,158.0 0 0 1 462.4,514.3M453.6,513.2L458.6,518.0M457.5,509.3L462.4,514.3M480.2,517.2L484.6,522.6M475.6,521.1A144.0,144.0 0 0 1 484.9,513.4M461.6,505.5L475.6,521.1M480.7,507.9L484.9,513.4M476.7,511.0A151.0,151.0 0 0 1 484.8,504.9M472.3,505.6L476.7,511.0M470.3,507.2A158.0,158.0 0 0 1 474.4,503.9M465.7,501.9L470.3,507.2M470.0,498.4L474.4,503.9M480.7,499.2L484.8,504.9M478.6,500.7A158.0,158.0 0 0 1 482.9,497.7M474.4,495.1L478.6,500.7M478.9,491.9L482.9,497.7M483.5,488.8L502.3,518.4M488.3,486.0L513.1,528.2" fill="none" stroke="#222" stroke-width="0.55"/><line x1="505.70" y1="532.95" x2="571.90" y2="628.20" stroke="#111" stroke-width="0.8"/>
<text x="441.3" y="524.5" font-size="7.2" fill="#e9877a" dy="2.4" text-anchor="end" transform="rotate(38.5 441.3 524.5)">Mper11841</text>
<text x="444.8" y="520.1" font-size="7.2" fill="#6cc2a2" dy="2.4" text-anchor="end" transform="rotate(40.4 444.8 520.1)">mango029400</text>
<text x="448.5" y="516.0" font-size="7.2" fill="#8b93ba" dy="2.4" text-anchor="end" transform="rotate(42.3 448.5 516.0)">alphonso11844</text>
<text x="452.3" y="511.9" font-size="7.2" fill="#e9877a" dy="2.4" text-anchor="end" transform="rotate(44.2 452.3 511.9)">Mper11843</text>
<text x="456.3" y="508.0" font-size="7.2" fill="#6cc2a2" dy="2.4" text-anchor="end" transform="rotate(46.1 456.3 508.0)">mango029401</text>
<text x="460.4" y="504.2" font-size="7.2" fill="#8b93ba" dy="2.4" text-anchor="end" transform="rotate(48.0 460.4 504.2)">alphonso11841</text>
<text x="464.6" y="500.5" font-size="7.2" fill="#e9877a" dy="2.4" text-anchor="end" transform="rotate(50.0 464.6 500.5)">Mper11842</text>
<text x="468.9" y="497.0" font-size="7.2" fill="#6cc2a2" dy="2.4" text-anchor="end" transform="rotate(51.9 468.9 497.0)">mango013081</text>
<text x="473.4" y="493.6" font-size="7.2" fill="#e9877a" dy="2.4" text-anchor="end" transform="rotate(53.8 473.4 493.6)">Mper18409</text>
<text x="477.9" y="490.4" font-size="7.2" fill="#6cc2a2" dy="2.4" text-anchor="end" transform="rotate(55.7 477.9 490.4)">mango028711</text>
<text x="482.6" y="487.3" font-size="7.2" fill="#8b93ba" dy="2.4" text-anchor="end" transform="rotate(57.6 482.6 487.3)">alphonso11840</text>
<text x="487.3" y="484.4" font-size="7.2" fill="#6cc2a2" dy="2.4" text-anchor="end" transform="rotate(59.5 487.3 484.4)">mango029402</text>
<path d="M464.24,425.82 A229.50,229.50 0 0 1 565.39,398.34" fill="none" stroke="#1f9d83" stroke-width="2.6"/>
<path d="M530.4,535.0A102.0,102.0 0 0 1 569.5,526.2M527.5,528.6L530.4,535.0M519.8,532.4A109.0,109.0 0 0 1 535.5,525.5M493.1,483.2L519.8,532.4M533.2,518.9L535.5,525.5M521.7,523.6A116.0,116.0 0 0 1 545.0,515.4M503.6,485.7L521.7,523.6M501.2,486.9A158.0,158.0 0 0 1 506.0,484.6M498.0,480.7L501.2,486.9M503.1,478.2L506.0,484.6M543.4,508.6L545.0,515.4M532.1,511.8A123.0,123.0 0 0 1 555.0,506.4M529.8,505.2L532.1,511.8M521.7,508.3A130.0,130.0 0 0 1 538.1,502.7M508.2,476.0L521.7,508.3M536.3,495.9L538.1,502.7M531.5,497.3A137.0,137.0 0 0 1 541.1,494.7M529.5,490.6L531.5,497.3M524.3,492.3A144.0,144.0 0 0 1 534.8,489.1M522.0,485.7L524.3,492.3M518.4,487.0A151.0,151.0 0 0 1 525.6,484.5M513.4,473.9L518.4,487.0M523.4,477.8L525.6,484.5M520.9,478.7A158.0,158.0 0 0 1 526.0,477.0M518.6,472.0L520.9,478.7M524.0,470.3L526.0,477.0M529.3,468.8L534.8,489.1M534.8,467.4L541.1,494.7M552.1,485.6L555.0,506.4M546.6,486.4A144.0,144.0 0 0 1 557.5,484.9M544.2,472.6L546.6,486.4M541.6,473.1A158.0,158.0 0 0 1 546.8,472.2M540.2,466.3L541.6,473.1M545.7,465.3L546.8,472.2M556.8,478.0L557.5,484.9M553.0,478.4A151.0,151.0 0 0 1 560.6,477.6M551.2,464.5L553.0,478.4M560.1,470.6L560.6,477.6M557.4,470.9A158.0,158.0 0 0 1 562.8,470.5M556.8,463.9L557.4,470.9M562.4,463.5L562.8,470.5M568.0,463.2L569.5,526.2" fill="none" stroke="#222" stroke-width="0.55"/><line x1="560.71" y1="526.82" x2="571.90" y2="628.20" stroke="#111" stroke-width="0.8"/>
<text x="492.2" y="481.7" font-size="7.2" fill="#e9877a" dy="2.4" text-anchor="end" transform="rotate(61.5 492.2 481.7)">Mper12127</text>
<text x="497.2" y="479.0" font-size="7.2" fill="#e9877a" dy="2.4" text-anchor="end" transform="rotate(63.4 497.2 479.0)">Mper12129</text>
<text x="502.3" y="476.6" font-size="7.2" fill="#6cc2a2" dy="2.4" text-anchor="end" transform="rotate(65.4 502.3 476.6)">mango028357</text>
<text x="507.5" y="474.3" font-size="7.2" fill="#8b93ba" dy="2.4" text-anchor="end" transform="rotate(67.3 507.5 474.3)">alphonso12127</text>
<text x="512.7" y="472.2" font-size="7.2" fill="#6cc2a2" dy="2.4" text-anchor="end" transform="rotate(69.2 512.7 472.2)">mango022711</text>
<text x="518.1" y="470.3" font-size="7.2" fill="#6cc2a2" dy="2.4" text-anchor="end" transform="rotate(71.2 518.1 470.3)">mango012914</text>
<text x="523.4" y="468.6" font-size="7.2" fill="#8b93ba" dy="2.4" text-anchor="end" transform="rotate(73.1 523.4 468.6)">alphonso12120</text>
<text x="528.9" y="467.0" font-size="7.2" fill="#e9877a" dy="2.4" text-anchor="end" transform="rotate(75.1 528.9 467.0)">Mper12126</text>
<text x="534.3" y="465.7" font-size="7.2" fill="#6cc2a2" dy="2.4" text-anchor="end" transform="rotate(77.0 534.3 465.7)">mango029111</text>
<text x="539.9" y="464.5" font-size="7.2" fill="#8b93ba" dy="2.4" text-anchor="end" transform="rotate(78.9 539.9 464.5)">alphonso32271</text>
<text x="545.4" y="463.5" font-size="7.2" fill="#8b93ba" dy="2.4" text-anchor="end" transform="rotate(80.9 545.4 463.5)">alphonso02272</text>
<text x="551.0" y="462.7" font-size="7.2" fill="#6cc2a2" dy="2.4" text-anchor="end" transform="rotate(82.8 551.0 462.7)">mango029114</text>
<text x="556.6" y="462.1" font-size="7.2" fill="#8b93ba" dy="2.4" text-anchor="end" transform="rotate(84.8 556.6 462.1)">alphonso12120</text>
<text x="562.3" y="461.7" font-size="7.2" fill="#e9877a" dy="2.4" text-anchor="end" transform="rotate(86.7 562.3 461.7)">Mper12130</text>
<text x="567.9" y="461.4" font-size="7.2" fill="#e9877a" dy="2.4" text-anchor="end" transform="rotate(88.6 567.9 461.4)">Mper19824</text>
<text x="737.9" y="482.3" font-size="8" fill="#3fa9c5" text-anchor="middle" dy="2.8" transform="rotate(50 737.9 482.3)">TPS-b</text>
<text x="784.4" y="692.4" font-size="8" fill="#d94b35" text-anchor="middle" dy="2.8" transform="rotate(107 784.4 692.4)">TPS-a</text>
<text x="556.9" y="848.7" font-size="8" fill="#7b5a3e" text-anchor="middle" dy="2.8" transform="rotate(0 556.9 848.7)">TPS-g</text>
<text x="350.0" y="621.6" font-size="8" fill="#7a8cc0" text-anchor="middle" dy="2.8" transform="rotate(91 350.0 621.6)">TPS-f</text>
<text x="388.2" y="508.9" font-size="8" fill="#e68a6c" text-anchor="middle" dy="2.8" transform="rotate(-59 388.2 508.9)">TPS-e</text>
<text x="428.4" y="465.4" font-size="8" fill="#33487d" text-anchor="middle" dy="2.8" transform="rotate(-42 428.4 465.4)">TPS-d</text>
<text x="506.2" y="419.8" font-size="8" fill="#1f9d83" text-anchor="middle" dy="2.8" transform="rotate(-18 506.2 419.8)">TPS-c</text>
<circle cx="757.5" cy="588.5" r="25.5" fill="none" stroke="#e0201c" stroke-width="3.2" stroke-dasharray="1.1 1.5"/>
<path d="M752.5,553.6 L862.5,449.5" fill="none" stroke="#e0201c" stroke-width="1.6" stroke-dasharray="9 6.5"/>
<path d="M738,607 L836.5,762" fill="none" stroke="#e0201c" stroke-width="1.6" stroke-dasharray="9 6.5"/>
<path d="M857.5,448.3 L864,447.8 L861.8,454" fill="none" stroke="#e0201c" stroke-width="1.4"/>
<path d="M831.3,759.5 L837.3,763.2 L838,756" fill="none" stroke="#e0201c" stroke-width="1.4"/>
</g>
<g id="panel_d2">
<text x="905.50" y="431.38" font-size="7.0" fill="#111">TPS protein structure</text>
<line x1="937.40" y1="451.90" x2="1037.20" y2="451.90" stroke="#777" stroke-width="1.7" stroke-linecap="round"/>
<rect x="940.90" y="440.00" width="11.00" height="22.70" fill="#e8001c"/>
<rect x="958.20" y="440.00" width="10.50" height="22.70" fill="#b0d87a"/>
<rect x="969.80" y="440.00" width="10.50" height="22.70" fill="#9690b0"/>
<rect x="980.80" y="440.00" width="10.30" height="22.70" fill="#f06088"/>
<rect x="992.20" y="440.00" width="11.30" height="22.70" fill="#ffcc00"/>
<rect x="1003.50" y="440.00" width="4.60" height="22.70" fill="#f9a11b"/>
<rect x="1010.00" y="440.00" width="11.00" height="22.70" fill="#008878"/>
<rect x="1021.80" y="440.00" width="10.30" height="22.70" fill="#6cb33f"/>
<line x1="937.40" y1="487.00" x2="1037.20" y2="487.00" stroke="#777" stroke-width="1.7" stroke-linecap="round"/>
<rect x="940.90" y="475.10" width="11.00" height="22.70" fill="#e8001c"/>
<rect x="958.20" y="475.10" width="10.50" height="22.70" fill="#b0d87a"/>
<rect x="969.80" y="475.10" width="10.50" height="22.70" fill="#9690b0"/>
<rect x="980.80" y="475.10" width="10.30" height="22.70" fill="#f06088"/>
<rect x="992.20" y="475.10" width="11.30" height="22.70" fill="#ffcc00"/>
<rect x="1003.50" y="475.10" width="4.60" height="22.70" fill="#f9a11b"/>
<rect x="1010.00" y="475.10" width="11.00" height="22.70" fill="#008878"/>
<rect x="1021.80" y="475.10" width="10.30" height="22.70" fill="#6cb33f"/>
<line x1="937.40" y1="521.80" x2="1037.20" y2="521.80" stroke="#777" stroke-width="1.7" stroke-linecap="round"/>
<rect x="940.90" y="509.90" width="11.00" height="22.70" fill="#e8001c"/>
<rect x="958.20" y="509.90" width="10.50" height="22.70" fill="#b0d87a"/>
<rect x="969.80" y="509.90" width="10.50" height="22.70" fill="#9690b0"/>
<rect x="980.80" y="509.90" width="10.30" height="22.70" fill="#f06088"/>
<rect x="992.20" y="509.90" width="11.30" height="22.70" fill="#ffcc00"/>
<rect x="1003.50" y="509.90" width="4.60" height="22.70" fill="#f9a11b"/>
<rect x="1010.00" y="509.90" width="11.00" height="22.70" fill="#008878"/>
<rect x="1021.80" y="509.90" width="10.30" height="22.70" fill="#6cb33f"/>
<line x1="937.40" y1="556.80" x2="1037.20" y2="556.80" stroke="#777" stroke-width="1.7" stroke-linecap="round"/>
<rect x="940.90" y="544.90" width="11.00" height="22.70" fill="#e8001c"/>
<rect x="958.20" y="544.90" width="10.50" height="22.70" fill="#b0d87a"/>
<rect x="969.80" y="544.90" width="10.50" height="22.70" fill="#9690b0"/>
<rect x="980.80" y="544.90" width="10.30" height="22.70" fill="#f06088"/>
<rect x="992.20" y="544.90" width="11.30" height="22.70" fill="#ffcc00"/>
<rect x="1003.50" y="544.90" width="4.60" height="22.70" fill="#f9a11b"/>
<rect x="1010.00" y="544.90" width="11.00" height="22.70" fill="#008878"/>
<rect x="1021.80" y="544.90" width="10.30" height="22.70" fill="#6cb33f"/>
<line x1="937.40" y1="591.90" x2="1076.30" y2="591.90" stroke="#777" stroke-width="1.7" stroke-linecap="round"/>
<rect x="940.90" y="580.00" width="11.30" height="22.70" fill="#e8001c"/>
<rect x="960.90" y="580.00" width="4.80" height="22.70" fill="#f9a11b"/>
<rect x="967.90" y="580.00" width="10.20" height="22.70" fill="#008878"/>
<rect x="978.90" y="580.00" width="10.80" height="22.70" fill="#6cb33f"/>
<rect x="997.00" y="580.00" width="10.50" height="22.70" fill="#b0d87a"/>
<rect x="1008.30" y="580.00" width="10.80" height="22.70" fill="#9690b0"/>
<rect x="1019.70" y="580.00" width="10.20" height="22.70" fill="#f06088"/>
<rect x="1031.00" y="580.00" width="10.80" height="22.70" fill="#ffcc00"/>
<rect x="1041.80" y="580.00" width="4.90" height="22.70" fill="#f9a11b"/>
<rect x="1049.10" y="580.00" width="10.20" height="22.70" fill="#008878"/>
<rect x="1060.20" y="580.00" width="10.70" height="22.70" fill="#6cb33f"/>
<line x1="937.40" y1="626.70" x2="1021.80" y2="626.70" stroke="#777" stroke-width="1.7" stroke-linecap="round"/>
<rect x="940.90" y="614.80" width="11.30" height="22.70" fill="#e8001c"/>
<rect x="954.90" y="614.80" width="10.80" height="22.70" fill="#9690b0"/>
<rect x="966.30" y="614.80" width="10.70" height="22.70" fill="#f06088"/>
<rect x="978.10" y="614.80" width="10.50" height="22.70" fill="#ffcc00"/>
<rect x="988.60" y="614.80" width="4.90" height="22.70" fill="#f9a11b"/>
<rect x="995.90" y="614.80" width="10.30" height="22.70" fill="#008878"/>
<rect x="1007.00" y="614.80" width="10.80" height="22.70" fill="#6cb33f"/>
<line x1="937.40" y1="661.60" x2="1066.40" y2="661.60" stroke="#777" stroke-width="1.7" stroke-linecap="round"/>
<rect x="940.90" y="649.70" width="11.30" height="22.70" fill="#e8001c"/>
<rect x="958.40" y="649.70" width="10.50" height="22.70" fill="#b0d87a"/>
<rect x="998.60" y="649.70" width="10.60" height="22.70" fill="#9690b0"/>
<rect x="1009.70" y="649.70" width="10.50" height="22.70" fill="#f06088"/>
<rect x="1021.30" y="649.70" width="11.30" height="22.70" fill="#ffcc00"/>
<rect x="1032.60" y="649.70" width="4.60" height="22.70" fill="#f9a11b"/>
<rect x="1039.10" y="649.70" width="11.10" height="22.70" fill="#008878"/>
<rect x="1051.00" y="649.70" width="10.20" height="22.70" fill="#6cb33f"/>
<line x1="937.40" y1="696.70" x2="1066.40" y2="696.70" stroke="#777" stroke-width="1.7" stroke-linecap="round"/>
<rect x="940.90" y="684.80" width="11.30" height="22.70" fill="#e8001c"/>
<rect x="958.40" y="684.80" width="10.50" height="22.70" fill="#b0d87a"/>
<rect x="998.60" y="684.80" width="10.60" height="22.70" fill="#9690b0"/>
<rect x="1009.70" y="684.80" width="10.50" height="22.70" fill="#f06088"/>
<rect x="1021.30" y="680.70" width="11.30" height="26.80" fill="#ffcc00"/>
<rect x="1032.60" y="684.80" width="4.60" height="22.70" fill="#f9a11b"/>
<rect x="1039.10" y="684.80" width="11.10" height="22.70" fill="#008878"/>
<rect x="1051.00" y="684.80" width="10.20" height="22.70" fill="#6cb33f"/>
<line x1="937.40" y1="731.50" x2="1112.20" y2="731.50" stroke="#777" stroke-width="1.7" stroke-linecap="round"/>
<rect x="940.90" y="719.60" width="11.30" height="22.70" fill="#e8001c"/>
<rect x="958.40" y="719.60" width="10.50" height="22.70" fill="#b0d87a"/>
<rect x="998.60" y="719.60" width="10.60" height="22.70" fill="#9690b0"/>
<rect x="1009.70" y="719.60" width="10.50" height="22.70" fill="#f06088"/>
<rect x="1021.30" y="719.60" width="11.30" height="22.70" fill="#ffcc00"/>
<rect x="1032.60" y="719.60" width="4.60" height="22.70" fill="#f9a11b"/>
<rect x="1039.10" y="719.60" width="11.10" height="22.70" fill="#008878"/>
<rect x="1051.00" y="719.60" width="10.20" height="22.70" fill="#6cb33f"/>
<line x1="937.40" y1="766.30" x2="1076.90" y2="766.30" stroke="#777" stroke-width="1.7" stroke-linecap="round"/>
<rect x="973.30" y="754.40" width="10.50" height="22.70" fill="#9690b0"/>
<rect x="984.30" y="754.40" width="10.60" height="22.70" fill="#f06088"/>
<rect x="995.90" y="754.40" width="9.20" height="22.70" fill="#ffcc00"/>
<rect x="1008.90" y="754.40" width="10.20" height="22.70" fill="#9690b0"/>
<rect x="1020.00" y="754.40" width="10.20" height="22.70" fill="#f06088"/>
<rect x="1031.30" y="754.40" width="11.30" height="22.70" fill="#ffcc00"/>
<rect x="1042.60" y="754.40" width="4.60" height="22.70" fill="#f9a11b"/>
<rect x="1049.40" y="754.40" width="10.50" height="22.70" fill="#008878"/>
<rect x="1061.00" y="754.40" width="10.20" height="22.70" fill="#6cb33f"/>
<text x="873.20" y="450.76" font-size="10.6" fill="#e8112d" textLength="48.80" lengthAdjust="spacingAndGlyphs">Mper22890</text>
<text x="873.20" y="485.76" font-size="10.6" fill="#e8112d" textLength="48.80" lengthAdjust="spacingAndGlyphs">Mper22905</text>
<text x="873.20" y="520.86" font-size="10.6" fill="#e8112d" textLength="48.80" lengthAdjust="spacingAndGlyphs">Mper22881</text>
<text x="873.20" y="555.76" font-size="10.6" fill="#e8112d" textLength="48.80" lengthAdjust="spacingAndGlyphs">Mper22896</text>
<text x="873.20" y="590.76" font-size="10.6" fill="#e8112d" textLength="48.80" lengthAdjust="spacingAndGlyphs">Mper22903</text>
<text x="873.20" y="625.56" font-size="10.6" fill="#e8112d" textLength="48.80" lengthAdjust="spacingAndGlyphs">Mper22894</text>
<text x="870.00" y="660.96" font-size="10.6" fill="#777" textLength="66.60" lengthAdjust="spacingAndGlyphs">alphonso22647</text>
<text x="871.00" y="696.06" font-size="10.6" fill="#777" textLength="66.60" lengthAdjust="spacingAndGlyphs">alphonso22652</text>
<text x="871.30" y="731.16" font-size="10.6" fill="#777" textLength="62.00" lengthAdjust="spacingAndGlyphs">mango013684</text>
<text x="873.20" y="764.76" font-size="10.6" fill="#777" textLength="48.80" lengthAdjust="spacingAndGlyphs">Mper22887</text>
<rect x="1057.5" y="430.70" width="18.8" height="11.4" rx="8" ry="5.7" fill="#e8001c"/>
<text x="1079.60" y="438.58" font-size="7.0" fill="#222">Motif 5</text>
<rect x="1057.5" y="445.50" width="18.8" height="11.4" rx="8" ry="5.7" fill="#b0d87a"/>
<text x="1079.60" y="453.38" font-size="7.0" fill="#222">Motif 7</text>
<rect x="1057.5" y="460.30" width="18.8" height="11.4" rx="8" ry="5.7" fill="#9690b0"/>
<text x="1079.60" y="468.19" font-size="7.0" fill="#222">Motif 6</text>
<rect x="1057.5" y="475.10" width="18.8" height="11.4" rx="8" ry="5.7" fill="#f06088"/>
<text x="1079.60" y="482.98" font-size="7.0" fill="#222">Motif 3</text>
<rect x="1057.5" y="489.90" width="18.8" height="11.4" rx="8" ry="5.7" fill="#ffcc00"/>
<text x="1079.60" y="497.78" font-size="7.0" fill="#222">Motif 2</text>
<rect x="1057.5" y="504.70" width="18.8" height="11.4" rx="8" ry="5.7" fill="#f9a11b"/>
<text x="1079.60" y="512.58" font-size="7.0" fill="#222">Motif 8</text>
<rect x="1057.5" y="519.50" width="18.8" height="11.4" rx="8" ry="5.7" fill="#008878"/>
<text x="1079.60" y="527.39" font-size="7.0" fill="#222">Motif 4</text>
<rect x="1057.5" y="534.30" width="18.8" height="11.4" rx="8" ry="5.7" fill="#6cb33f"/>
<text x="1079.60" y="542.19" font-size="7.0" fill="#222">Motif 1</text>
<line x1="937.60" y1="800.00" x2="1110.90" y2="800.00" stroke="#777" stroke-width="1.3"/>
<line x1="937.60" y1="799.40" x2="937.60" y2="810.20" stroke="#777" stroke-width="1.3"/>
<text x="937.60" y="818.74" font-size="6.6" fill="#222" text-anchor="middle">0</text>
<line x1="959.26" y1="799.40" x2="959.26" y2="810.20" stroke="#777" stroke-width="1.3"/>
<text x="959.26" y="818.74" font-size="6.6" fill="#222" text-anchor="middle">100</text>
<line x1="980.92" y1="799.40" x2="980.92" y2="810.20" stroke="#777" stroke-width="1.3"/>
<text x="980.92" y="818.74" font-size="6.6" fill="#222" text-anchor="middle">200</text>
<line x1="1002.58" y1="799.40" x2="1002.58" y2="810.20" stroke="#777" stroke-width="1.3"/>
<text x="1002.58" y="818.74" font-size="6.6" fill="#222" text-anchor="middle">300</text>
<line x1="1024.24" y1="799.40" x2="1024.24" y2="810.20" stroke="#777" stroke-width="1.3"/>
<text x="1024.24" y="818.74" font-size="6.6" fill="#222" text-anchor="middle">400</text>
<line x1="1045.90" y1="799.40" x2="1045.90" y2="810.20" stroke="#777" stroke-width="1.3"/>
<text x="1045.90" y="818.74" font-size="6.6" fill="#222" text-anchor="middle">500</text>
<line x1="1067.56" y1="799.40" x2="1067.56" y2="810.20" stroke="#777" stroke-width="1.3"/>
<text x="1067.56" y="818.74" font-size="6.6" fill="#222" text-anchor="middle">600</text>
<line x1="1089.22" y1="799.40" x2="1089.22" y2="810.20" stroke="#777" stroke-width="1.3"/>
<text x="1089.22" y="818.74" font-size="6.6" fill="#222" text-anchor="middle">700</text>
<line x1="1110.88" y1="799.40" x2="1110.88" y2="810.20" stroke="#777" stroke-width="1.3"/>
<text x="1110.88" y="818.74" font-size="6.6" fill="#222" text-anchor="middle">800</text>
<text x="927.50" y="801.34" font-size="6.6" fill="#222">5'</text>
<text x="1113.30" y="797.34" font-size="6.6" fill="#222">3'</text>
<path d="M864.0,449.0L870.7,449.0M864.0,483.4L870.7,483.4M864.0,449.0L864.0,483.4M860.5,465.9L864.0,465.9M860.5,518.7L870.7,518.7M860.5,465.9L860.5,518.7M857.0,492.3L860.5,492.3M857.0,553.0L870.7,553.0M857.0,492.3L857.0,553.0M850.8,523.3L857.0,523.3M864.0,588.0L870.7,588.0M864.0,623.2L870.7,623.2M864.0,588.0L864.0,623.2M850.8,605.6L864.0,605.6M850.8,523.3L850.8,605.6M840.2,563.8L850.8,563.8M863.7,692.9L870.7,692.9M863.7,727.9L870.7,727.9M863.7,692.9L863.7,727.9M860.5,710.4L863.7,710.4M860.5,657.8L869.7,657.8M860.5,657.8L860.5,710.4M842.4,684.0L860.5,684.0M840.2,563.8L841,640 L842.4,684M838.0,670.0L841.8,670.0M838.0,670.0L838.0,762.5M838.0,762.5L870.7,762.5" fill="none" stroke="#7b7b7b" stroke-width="1.25" stroke-linecap="square"/>
</g>
<g id="panel_e">
<text x="74.50" y="855.50" font-size="22.5" fill="#000">(e)</text>
<rect x="64.8" y="874.6" width="367.4" height="281.2" fill="#fff" stroke="#333" stroke-width="1.1"/>
<text x="250.20" y="891.93" font-size="15.0" fill="#111" text-anchor="middle">Type of gene duplication</text>
<line x1="62.00" y1="887.00" x2="64.40" y2="887.00" stroke="#333" stroke-width="1.0"/>
<text x="60.60" y="889.27" font-size="6.4" fill="#4d4d4d" text-anchor="end" style="font-family:&quot;Liberation Serif&quot;,serif">2.0</text>
<line x1="62.00" y1="951.10" x2="64.40" y2="951.10" stroke="#333" stroke-width="1.0"/>
<text x="60.60" y="953.37" font-size="6.4" fill="#4d4d4d" text-anchor="end" style="font-family:&quot;Liberation Serif&quot;,serif">1.5</text>
<line x1="62.00" y1="1015.20" x2="64.40" y2="1015.20" stroke="#333" stroke-width="1.0"/>
<text x="60.60" y="1017.47" font-size="6.4" fill="#4d4d4d" text-anchor="end" style="font-family:&quot;Liberation Serif&quot;,serif">1.0</text>
<line x1="62.00" y1="1079.80" x2="64.40" y2="1079.80" stroke="#333" stroke-width="1.0"/>
<text x="60.60" y="1082.07" font-size="6.4" fill="#4d4d4d" text-anchor="end" style="font-family:&quot;Liberation Serif&quot;,serif">0.5</text>
<line x1="62.00" y1="1143.90" x2="64.40" y2="1143.90" stroke="#333" stroke-width="1.0"/>
<text x="60.60" y="1146.17" font-size="6.4" fill="#4d4d4d" text-anchor="end" style="font-family:&quot;Liberation Serif&quot;,serif">0.0</text>
<text x="40" y="1004.5" font-size="14.5" style="font-family:&quot;Liberation Serif&quot;,serif" text-anchor="middle" fill="#111" transform="rotate(-90 40 1004.5)">Ka/Ks</text>
<line x1="106.60" y1="1156.20" x2="106.60" y2="1158.60" stroke="#333" stroke-width="1.0"/>
<text x="106.60" y="1165.87" font-size="6.4" fill="#4d4d4d" text-anchor="middle" style="font-family:&quot;Liberation Serif&quot;,serif">DSD</text>
<line x1="177.50" y1="1156.20" x2="177.50" y2="1158.60" stroke="#333" stroke-width="1.0"/>
<text x="177.50" y="1165.87" font-size="6.4" fill="#4d4d4d" text-anchor="middle" style="font-family:&quot;Liberation Serif&quot;,serif">PD</text>
<line x1="248.30" y1="1156.20" x2="248.30" y2="1158.60" stroke="#333" stroke-width="1.0"/>
<text x="248.30" y="1165.87" font-size="6.4" fill="#4d4d4d" text-anchor="middle" style="font-family:&quot;Liberation Serif&quot;,serif">TD</text>
<line x1="319.40" y1="1156.20" x2="319.40" y2="1158.60" stroke="#333" stroke-width="1.0"/>
<text x="319.40" y="1165.87" font-size="6.4" fill="#4d4d4d" text-anchor="middle" style="font-family:&quot;Liberation Serif&quot;,serif">TRD</text>
<line x1="390.30" y1="1156.20" x2="390.30" y2="1158.60" stroke="#333" stroke-width="1.0"/>
<text x="390.30" y="1165.87" font-size="6.4" fill="#4d4d4d" text-anchor="middle" style="font-family:&quot;Liberation Serif&quot;,serif">WGD</text>
<path d="M106.6,1043.7 L106.7,1046.4 L106.8,1049.1 L106.9,1051.8 L107.1,1054.6 L107.2,1057.3 L107.3,1060.0 L107.4,1062.5 L107.5,1065.0 L107.6,1067.5 L107.7,1070.0 L107.8,1072.5 L107.9,1075.0 L108.0,1076.7 L108.1,1078.3 L108.2,1080.0 L108.4,1081.7 L108.5,1083.3 L108.6,1085.0 L108.8,1086.7 L109.0,1088.3 L109.2,1090.0 L109.4,1091.7 L109.6,1093.3 L109.8,1095.0 L110.1,1096.2 L110.4,1097.3 L110.7,1098.5 L111.0,1099.7 L111.3,1100.8 L111.7,1102.0 L112.2,1103.0 L112.8,1104.0 L113.3,1105.0 L113.9,1106.0 L114.6,1107.0 L115.3,1108.0 L116.2,1108.8 L117.3,1109.7 L118.3,1110.5 L119.4,1111.3 L120.6,1112.2 L121.8,1113.0 L123.2,1113.8 L124.6,1114.7 L126.1,1115.5 L127.6,1116.3 L129.0,1117.2 L130.3,1118.0 L131.4,1118.7 L132.4,1119.3 L133.3,1120.0 L134.3,1120.7 L135.1,1121.3 L135.8,1122.0 L136.2,1122.6 L136.5,1123.2 L136.7,1123.8 L136.8,1124.3 L136.9,1124.9 L136.9,1125.5 L136.7,1125.9 L136.3,1126.3 L135.9,1126.8 L135.5,1127.2 L134.9,1127.6 L134.2,1128.0 L133.2,1128.7 L131.9,1129.3 L130.6,1130.0 L129.3,1130.7 L127.9,1131.3 L126.6,1132.0 L125.2,1132.7 L123.8,1133.3 L122.3,1134.0 L120.9,1134.7 L119.5,1135.3 L118.2,1136.0 L117.0,1136.7 L115.8,1137.3 L114.6,1138.0 L113.4,1138.7 L112.3,1139.3 L111.3,1140.0 L110.4,1140.5 L109.6,1141.1 L108.8,1141.6 L108.1,1142.1 L107.3,1142.7 L106.6,1143.2 L106.6,1143.2 L105.8,1142.7 L105.1,1142.1 L104.3,1141.6 L103.6,1141.1 L102.8,1140.5 L101.9,1140.0 L100.9,1139.3 L99.8,1138.7 L98.6,1138.0 L97.4,1137.3 L96.2,1136.7 L95.0,1136.0 L93.7,1135.3 L92.3,1134.7 L90.8,1134.0 L89.4,1133.3 L88.0,1132.7 L86.6,1132.0 L85.3,1131.3 L83.9,1130.7 L82.6,1130.0 L81.3,1129.3 L80.0,1128.7 L79.0,1128.0 L78.3,1127.6 L77.7,1127.2 L77.3,1126.8 L76.9,1126.3 L76.5,1125.9 L76.3,1125.5 L76.3,1124.9 L76.4,1124.3 L76.5,1123.8 L76.7,1123.2 L77.0,1122.6 L77.4,1122.0 L78.1,1121.3 L78.9,1120.7 L79.8,1120.0 L80.8,1119.3 L81.8,1118.7 L82.9,1118.0 L84.2,1117.2 L85.6,1116.3 L87.1,1115.5 L88.6,1114.7 L90.0,1113.8 L91.4,1113.0 L92.6,1112.2 L93.8,1111.3 L94.8,1110.5 L95.9,1109.7 L97.0,1108.8 L97.9,1108.0 L98.6,1107.0 L99.3,1106.0 L99.8,1105.0 L100.4,1104.0 L101.0,1103.0 L101.5,1102.0 L101.9,1100.8 L102.2,1099.7 L102.5,1098.5 L102.8,1097.3 L103.1,1096.2 L103.4,1095.0 L103.6,1093.3 L103.8,1091.7 L104.0,1090.0 L104.2,1088.3 L104.4,1086.7 L104.6,1085.0 L104.7,1083.3 L104.8,1081.7 L104.9,1080.0 L105.1,1078.3 L105.2,1076.7 L105.3,1075.0 L105.4,1072.5 L105.5,1070.0 L105.6,1067.5 L105.7,1065.0 L105.8,1062.5 L105.9,1060.0 L106.0,1057.3 L106.1,1054.6 L106.2,1051.8 L106.4,1049.1 L106.5,1046.4 L106.6,1043.7Z" fill="#66c2a5" fill-opacity="0.42" stroke="none"/>
<line x1="106.60" y1="1077.70" x2="106.60" y2="1143.20" stroke="#4a4a4a" stroke-width="0.8"/>
<rect x="102.4" y="1107.1" width="7.8" height="20.5" fill="#66c2a5" stroke="#4a4a4a" stroke-width="0.7"/>
<line x1="102.40" y1="1120.00" x2="110.20" y2="1120.00" stroke="#3a3a3a" stroke-width="0.9"/>
<path d="M177.5,993.6 L177.7,996.3 L177.9,999.1 L178.1,1001.8 L178.3,1004.5 L178.5,1007.3 L178.7,1010.0 L178.9,1012.5 L179.2,1015.0 L179.4,1017.5 L179.6,1020.0 L179.9,1022.5 L180.1,1025.0 L180.4,1027.5 L180.7,1030.0 L181.1,1032.5 L181.4,1035.0 L181.7,1037.5 L182.0,1040.0 L182.4,1042.0 L182.8,1044.0 L183.2,1046.0 L183.5,1048.0 L183.9,1050.0 L184.2,1052.0 L184.6,1053.7 L184.8,1055.3 L185.1,1057.0 L185.4,1058.7 L185.6,1060.3 L185.8,1062.0 L186.0,1063.7 L186.1,1065.3 L186.2,1067.0 L186.2,1068.7 L186.3,1070.3 L186.3,1072.0 L186.3,1073.7 L186.2,1075.3 L186.1,1077.0 L186.0,1078.7 L185.9,1080.3 L185.7,1082.0 L185.5,1084.2 L185.3,1086.3 L185.1,1088.5 L184.8,1090.7 L184.5,1092.8 L184.3,1095.0 L184.0,1097.2 L183.7,1099.3 L183.4,1101.5 L183.1,1103.7 L182.8,1105.8 L182.5,1108.0 L182.2,1110.0 L182.0,1112.0 L181.7,1114.0 L181.4,1116.0 L181.2,1118.0 L180.9,1120.0 L180.6,1122.0 L180.4,1124.0 L180.1,1126.0 L179.8,1128.0 L179.6,1130.0 L179.3,1132.0 L179.0,1133.9 L178.7,1135.7 L178.4,1137.6 L178.1,1139.5 L177.8,1141.3 L177.5,1143.2 L177.5,1143.2 L177.2,1141.3 L176.9,1139.5 L176.6,1137.6 L176.3,1135.7 L176.0,1133.9 L175.7,1132.0 L175.4,1130.0 L175.2,1128.0 L174.9,1126.0 L174.6,1124.0 L174.4,1122.0 L174.1,1120.0 L173.8,1118.0 L173.6,1116.0 L173.3,1114.0 L173.0,1112.0 L172.8,1110.0 L172.5,1108.0 L172.2,1105.8 L171.9,1103.7 L171.6,1101.5 L171.3,1099.3 L171.0,1097.2 L170.7,1095.0 L170.5,1092.8 L170.2,1090.7 L169.9,1088.5 L169.7,1086.3 L169.5,1084.2 L169.3,1082.0 L169.1,1080.3 L169.0,1078.7 L168.9,1077.0 L168.8,1075.3 L168.7,1073.7 L168.7,1072.0 L168.7,1070.3 L168.8,1068.7 L168.8,1067.0 L168.9,1065.3 L169.0,1063.7 L169.2,1062.0 L169.4,1060.3 L169.6,1058.7 L169.9,1057.0 L170.2,1055.3 L170.4,1053.7 L170.8,1052.0 L171.1,1050.0 L171.5,1048.0 L171.8,1046.0 L172.2,1044.0 L172.6,1042.0 L173.0,1040.0 L173.3,1037.5 L173.6,1035.0 L173.9,1032.5 L174.3,1030.0 L174.6,1027.5 L174.9,1025.0 L175.1,1022.5 L175.4,1020.0 L175.6,1017.5 L175.8,1015.0 L176.1,1012.5 L176.3,1010.0 L176.5,1007.3 L176.7,1004.5 L176.9,1001.8 L177.1,999.1 L177.3,996.3 L177.5,993.6Z" fill="#fc8d62" fill-opacity="0.42" stroke="none"/>
<line x1="177.50" y1="966.40" x2="177.50" y2="1143.20" stroke="#4a4a4a" stroke-width="0.8"/>
<rect x="173.6" y="1044.1" width="7.4" height="51.4" fill="#fc8d62" stroke="#4a4a4a" stroke-width="0.7"/>
<line x1="173.60" y1="1073.30" x2="181.00" y2="1073.30" stroke="#3a3a3a" stroke-width="0.9"/>
<path d="M248.3,1015.8 L248.5,1018.2 L248.7,1020.5 L249.0,1022.9 L249.2,1025.3 L249.4,1027.6 L249.6,1030.0 L249.9,1032.5 L250.2,1035.0 L250.6,1037.5 L250.9,1040.0 L251.2,1042.5 L251.5,1045.0 L251.9,1047.2 L252.3,1049.3 L252.7,1051.5 L253.1,1053.7 L253.5,1055.8 L253.9,1058.0 L254.2,1060.0 L254.6,1062.0 L254.9,1064.0 L255.2,1066.0 L255.6,1068.0 L255.8,1070.0 L256.1,1072.0 L256.3,1074.0 L256.5,1076.0 L256.7,1078.0 L256.9,1080.0 L257.0,1082.0 L257.2,1084.2 L257.3,1086.3 L257.4,1088.5 L257.4,1090.7 L257.5,1092.8 L257.6,1095.0 L257.6,1097.2 L257.6,1099.3 L257.6,1101.5 L257.5,1103.7 L257.5,1105.8 L257.4,1108.0 L257.3,1109.7 L257.2,1111.3 L257.1,1113.0 L256.9,1114.7 L256.7,1116.3 L256.5,1118.0 L256.2,1119.5 L255.9,1121.0 L255.6,1122.5 L255.2,1124.0 L254.8,1125.5 L254.5,1127.0 L254.1,1128.3 L253.6,1129.7 L253.2,1131.0 L252.8,1132.3 L252.3,1133.7 L251.8,1135.0 L251.3,1136.4 L250.7,1137.7 L250.1,1139.1 L249.5,1140.5 L248.9,1141.8 L248.3,1143.2 L248.3,1143.2 L247.7,1141.8 L247.1,1140.5 L246.5,1139.1 L245.9,1137.7 L245.3,1136.4 L244.8,1135.0 L244.3,1133.7 L243.8,1132.3 L243.4,1131.0 L243.0,1129.7 L242.5,1128.3 L242.1,1127.0 L241.8,1125.5 L241.4,1124.0 L241.1,1122.5 L240.7,1121.0 L240.4,1119.5 L240.1,1118.0 L239.9,1116.3 L239.7,1114.7 L239.6,1113.0 L239.4,1111.3 L239.3,1109.7 L239.2,1108.0 L239.1,1105.8 L239.1,1103.7 L239.1,1101.5 L239.0,1099.3 L239.0,1097.2 L239.0,1095.0 L239.1,1092.8 L239.2,1090.7 L239.2,1088.5 L239.3,1086.3 L239.4,1084.2 L239.6,1082.0 L239.7,1080.0 L239.9,1078.0 L240.1,1076.0 L240.3,1074.0 L240.5,1072.0 L240.8,1070.0 L241.1,1068.0 L241.4,1066.0 L241.7,1064.0 L242.0,1062.0 L242.4,1060.0 L242.7,1058.0 L243.1,1055.8 L243.5,1053.7 L243.9,1051.5 L244.3,1049.3 L244.7,1047.2 L245.1,1045.0 L245.4,1042.5 L245.7,1040.0 L246.1,1037.5 L246.4,1035.0 L246.7,1032.5 L247.0,1030.0 L247.2,1027.6 L247.4,1025.3 L247.7,1022.9 L247.9,1020.5 L248.1,1018.2 L248.3,1015.8Z" fill="#8da0cb" fill-opacity="0.42" stroke="none"/>
<line x1="248.30" y1="989.80" x2="248.30" y2="1143.20" stroke="#4a4a4a" stroke-width="0.8"/>
<rect x="244.4" y="1062.4" width="7.6" height="49.2" fill="#8da0cb" stroke="#4a4a4a" stroke-width="0.7"/>
<line x1="244.40" y1="1089.30" x2="252.00" y2="1089.30" stroke="#3a3a3a" stroke-width="0.9"/>
<path d="M319.4,1029.2 L319.6,1031.8 L319.7,1034.5 L319.9,1037.1 L320.1,1039.7 L320.2,1042.4 L320.4,1045.0 L320.6,1047.5 L320.9,1050.0 L321.1,1052.5 L321.3,1055.0 L321.6,1057.5 L321.8,1060.0 L322.1,1062.5 L322.5,1065.0 L322.8,1067.5 L323.1,1070.0 L323.5,1072.5 L323.8,1075.0 L324.2,1077.2 L324.5,1079.3 L324.9,1081.5 L325.3,1083.7 L325.6,1085.8 L326.0,1088.0 L326.4,1090.0 L326.8,1092.0 L327.2,1094.0 L327.6,1096.0 L328.0,1098.0 L328.4,1100.0 L328.7,1101.7 L329.1,1103.3 L329.4,1105.0 L329.7,1106.7 L330.0,1108.3 L330.3,1110.0 L330.6,1111.3 L330.8,1112.7 L330.9,1114.0 L331.1,1115.3 L331.3,1116.7 L331.4,1118.0 L331.5,1119.0 L331.5,1120.0 L331.5,1121.0 L331.6,1122.0 L331.5,1123.0 L331.5,1124.0 L331.3,1125.0 L331.0,1126.0 L330.8,1127.0 L330.5,1128.0 L330.1,1129.0 L329.7,1130.0 L329.2,1131.0 L328.6,1132.0 L327.9,1133.0 L327.2,1134.0 L326.6,1135.0 L326.0,1136.0 L325.4,1136.7 L324.8,1137.3 L324.2,1138.0 L323.7,1138.7 L323.2,1139.3 L322.6,1140.0 L322.1,1140.6 L321.5,1141.3 L321.0,1141.9 L320.5,1142.5 L319.9,1143.2 L319.4,1143.8 L319.4,1143.8 L318.9,1143.2 L318.3,1142.5 L317.8,1141.9 L317.3,1141.3 L316.7,1140.6 L316.2,1140.0 L315.6,1139.3 L315.1,1138.7 L314.5,1138.0 L314.0,1137.3 L313.4,1136.7 L312.8,1136.0 L312.2,1135.0 L311.6,1134.0 L310.9,1133.0 L310.2,1132.0 L309.6,1131.0 L309.1,1130.0 L308.7,1129.0 L308.3,1128.0 L308.0,1127.0 L307.8,1126.0 L307.5,1125.0 L307.3,1124.0 L307.3,1123.0 L307.2,1122.0 L307.2,1121.0 L307.3,1120.0 L307.3,1119.0 L307.4,1118.0 L307.5,1116.7 L307.7,1115.3 L307.8,1114.0 L308.0,1112.7 L308.2,1111.3 L308.5,1110.0 L308.8,1108.3 L309.1,1106.7 L309.4,1105.0 L309.7,1103.3 L310.1,1101.7 L310.4,1100.0 L310.8,1098.0 L311.2,1096.0 L311.6,1094.0 L312.0,1092.0 L312.4,1090.0 L312.8,1088.0 L313.2,1085.8 L313.5,1083.7 L313.9,1081.5 L314.3,1079.3 L314.6,1077.2 L315.0,1075.0 L315.3,1072.5 L315.7,1070.0 L316.0,1067.5 L316.3,1065.0 L316.7,1062.5 L317.0,1060.0 L317.2,1057.5 L317.5,1055.0 L317.7,1052.5 L317.9,1050.0 L318.2,1047.5 L318.4,1045.0 L318.6,1042.4 L318.7,1039.7 L318.9,1037.1 L319.1,1034.5 L319.2,1031.8 L319.4,1029.2Z" fill="#e78ac3" fill-opacity="0.42" stroke="none"/>
<line x1="319.40" y1="1009.20" x2="319.40" y2="1143.80" stroke="#4a4a4a" stroke-width="0.8"/>
<rect x="315.4" y="1077.1" width="7.6" height="45.6" fill="#e78ac3" stroke="#4a4a4a" stroke-width="0.7"/>
<line x1="315.40" y1="1103.30" x2="323.00" y2="1103.30" stroke="#3a3a3a" stroke-width="0.9"/>
<path d="M390.3,1067.0 L390.5,1069.2 L390.6,1071.3 L390.8,1073.5 L391.0,1075.7 L391.1,1077.8 L391.3,1080.0 L391.6,1081.7 L391.8,1083.3 L392.1,1085.0 L392.4,1086.7 L392.7,1088.3 L393.0,1090.0 L393.4,1091.7 L393.9,1093.3 L394.4,1095.0 L394.8,1096.7 L395.3,1098.3 L395.8,1100.0 L396.4,1101.3 L397.0,1102.7 L397.6,1104.0 L398.1,1105.3 L398.7,1106.7 L399.4,1108.0 L400.1,1109.2 L400.8,1110.3 L401.6,1111.5 L402.3,1112.7 L403.1,1113.8 L403.9,1115.0 L404.7,1116.0 L405.6,1117.0 L406.6,1118.0 L407.5,1119.0 L408.4,1120.0 L409.2,1121.0 L410.0,1121.8 L410.8,1122.7 L411.6,1123.5 L412.3,1124.3 L413.0,1125.2 L413.5,1126.0 L413.9,1126.5 L414.1,1127.0 L414.3,1127.5 L414.5,1128.0 L414.6,1128.5 L414.6,1129.0 L414.4,1129.5 L414.1,1130.0 L413.8,1130.5 L413.5,1131.0 L413.0,1131.5 L412.4,1132.0 L411.4,1132.7 L410.3,1133.3 L409.1,1134.0 L407.8,1134.7 L406.5,1135.3 L405.2,1136.0 L403.9,1136.7 L402.5,1137.3 L401.1,1138.0 L399.6,1138.7 L398.3,1139.3 L397.0,1140.0 L395.8,1140.5 L394.6,1141.1 L393.6,1141.6 L392.5,1142.1 L391.4,1142.7 L390.3,1143.2 L390.3,1143.2 L389.2,1142.7 L388.1,1142.1 L387.1,1141.6 L386.0,1141.1 L384.8,1140.5 L383.6,1140.0 L382.3,1139.3 L381.0,1138.7 L379.6,1138.0 L378.1,1137.3 L376.7,1136.7 L375.4,1136.0 L374.1,1135.3 L372.8,1134.7 L371.6,1134.0 L370.3,1133.3 L369.2,1132.7 L368.2,1132.0 L367.6,1131.5 L367.1,1131.0 L366.8,1130.5 L366.5,1130.0 L366.2,1129.5 L366.0,1129.0 L366.0,1128.5 L366.1,1128.0 L366.3,1127.5 L366.5,1127.0 L366.7,1126.5 L367.1,1126.0 L367.6,1125.2 L368.3,1124.3 L369.1,1123.5 L369.8,1122.7 L370.6,1121.8 L371.4,1121.0 L372.2,1120.0 L373.1,1119.0 L374.1,1118.0 L375.0,1117.0 L375.9,1116.0 L376.7,1115.0 L377.5,1113.8 L378.3,1112.7 L379.1,1111.5 L379.8,1110.3 L380.5,1109.2 L381.2,1108.0 L381.9,1106.7 L382.5,1105.3 L383.1,1104.0 L383.6,1102.7 L384.2,1101.3 L384.8,1100.0 L385.3,1098.3 L385.8,1096.7 L386.2,1095.0 L386.7,1093.3 L387.2,1091.7 L387.6,1090.0 L387.9,1088.3 L388.2,1086.7 L388.5,1085.0 L388.8,1083.3 L389.0,1081.7 L389.3,1080.0 L389.5,1077.8 L389.6,1075.7 L389.8,1073.5 L390.0,1071.3 L390.1,1069.2 L390.3,1067.0Z" fill="#a6d854" fill-opacity="0.42" stroke="none"/>
<line x1="390.30" y1="1073.70" x2="390.30" y2="1143.20" stroke="#8a9a6a" stroke-width="0.8"/>
<rect x="386.5" y="1107.8" width="7.3" height="22.7" fill="#a6d854" stroke="#4a4a4a" stroke-width="0.7"/>
<line x1="386.50" y1="1120.90" x2="393.80" y2="1120.90" stroke="#3a3a3a" stroke-width="0.9"/>
<text x="445.20" y="981.27" font-size="9.2" fill="#111">Type</text>
<rect x="446.40" y="989.80" width="9.80" height="9.80" fill="#66c2a5" fill-opacity="0.35"/>
<line x1="451.30" y1="990.10" x2="451.30" y2="999.30" stroke="#4a4a4a" stroke-width="0.6"/>
<rect x="447.2" y="991.3" width="8.2" height="6.8" fill="#66c2a5" stroke="#4a4a4a" stroke-width="0.6"/>
<line x1="447.20" y1="994.70" x2="455.40" y2="994.70" stroke="#4a4a4a" stroke-width="0.7"/>
<text x="461.50" y="996.97" font-size="6.4" fill="#222" style="font-family:&quot;Liberation Serif&quot;,serif">DSD</text>
<rect x="446.40" y="1003.60" width="9.80" height="9.80" fill="#fc8d62" fill-opacity="0.35"/>
<line x1="451.30" y1="1003.90" x2="451.30" y2="1013.10" stroke="#4a4a4a" stroke-width="0.6"/>
<rect x="447.2" y="1005.1" width="8.2" height="6.8" fill="#fc8d62" stroke="#4a4a4a" stroke-width="0.6"/>
<line x1="447.20" y1="1008.50" x2="455.40" y2="1008.50" stroke="#4a4a4a" stroke-width="0.7"/>
<text x="461.50" y="1010.77" font-size="6.4" fill="#222" style="font-family:&quot;Liberation Serif&quot;,serif">PD</text>
<rect x="446.40" y="1017.40" width="9.80" height="9.80" fill="#8da0cb" fill-opacity="0.35"/>
<line x1="451.30" y1="1017.70" x2="451.30" y2="1026.90" stroke="#4a4a4a" stroke-width="0.6"/>
<rect x="447.2" y="1018.9" width="8.2" height="6.8" fill="#8da0cb" stroke="#4a4a4a" stroke-width="0.6"/>
<line x1="447.20" y1="1022.30" x2="455.40" y2="1022.30" stroke="#4a4a4a" stroke-width="0.7"/>
<text x="461.50" y="1024.57" font-size="6.4" fill="#222" style="font-family:&quot;Liberation Serif&quot;,serif">TD</text>
<rect x="446.40" y="1031.20" width="9.80" height="9.80" fill="#e78ac3" fill-opacity="0.35"/>
<line x1="451.30" y1="1031.50" x2="451.30" y2="1040.70" stroke="#4a4a4a" stroke-width="0.6"/>
<rect x="447.2" y="1032.7" width="8.2" height="6.8" fill="#e78ac3" stroke="#4a4a4a" stroke-width="0.6"/>
<line x1="447.20" y1="1036.10" x2="455.40" y2="1036.10" stroke="#4a4a4a" stroke-width="0.7"/>
<text x="461.50" y="1038.37" font-size="6.4" fill="#222" style="font-family:&quot;Liberation Serif&quot;,serif">TRD</text>
<rect x="446.40" y="1045.00" width="9.80" height="9.80" fill="#a6d854" fill-opacity="0.35"/>
<line x1="451.30" y1="1045.30" x2="451.30" y2="1054.50" stroke="#4a4a4a" stroke-width="0.6"/>
<rect x="447.2" y="1046.5" width="8.2" height="6.8" fill="#a6d854" stroke="#4a4a4a" stroke-width="0.6"/>
<line x1="447.20" y1="1049.90" x2="455.40" y2="1049.90" stroke="#4a4a4a" stroke-width="0.7"/>
<text x="461.50" y="1052.17" font-size="6.4" fill="#222" style="font-family:&quot;Liberation Serif&quot;,serif">WGD</text>
</g>
<g id="panel_f">
<text x="492.50" y="902.00" font-size="22.5" fill="#000">(f)</text>
<text x="699.30" y="860.55" font-size="11.4" fill="#111">Input Groups</text>
<rect x="700.90" y="866.30" width="7.90" height="7.80" fill="#808080"/>
<text x="712.80" y="872.56" font-size="7.5" fill="#111">Nonehomo-H:6799</text>
<rect x="700.90" y="877.40" width="7.90" height="7.80" fill="#808080"/>
<text x="712.80" y="883.66" font-size="7.5" fill="#111">Nonehomo-A:3087</text>
<rect x="700.90" y="888.80" width="7.90" height="7.80" fill="#808080"/>
<text x="712.80" y="895.06" font-size="7.5" fill="#111">Nonecoll-H:16166</text>
<rect x="700.90" y="899.90" width="7.90" height="7.80" fill="#808080"/>
<text x="712.80" y="906.16" font-size="7.5" fill="#111">Nonecoll-A:16214</text>
<line x1="593.10" y1="885.00" x2="593.10" y2="1096.80" stroke="#000" stroke-width="1.6"/>
<line x1="588.80" y1="1096.00" x2="593.10" y2="1096.00" stroke="#000" stroke-width="1.1"/>
<text x="583.20" y="1098.90" font-size="7.6" fill="#111" text-anchor="end">0</text>
<line x1="589.60" y1="1078.45" x2="593.10" y2="1078.45" stroke="#000" stroke-width="1.1"/>
<line x1="588.80" y1="1060.91" x2="593.10" y2="1060.91" stroke="#000" stroke-width="1.1"/>
<text x="573.60" y="1063.81" font-size="7.6" fill="#111" text-anchor="middle" textLength="17.70" lengthAdjust="spacingAndGlyphs">2000</text>
<line x1="589.60" y1="1043.37" x2="593.10" y2="1043.37" stroke="#000" stroke-width="1.1"/>
<line x1="588.80" y1="1025.82" x2="593.10" y2="1025.82" stroke="#000" stroke-width="1.1"/>
<text x="573.60" y="1028.72" font-size="7.6" fill="#111" text-anchor="middle" textLength="17.70" lengthAdjust="spacingAndGlyphs">4000</text>
<line x1="589.60" y1="1008.27" x2="593.10" y2="1008.27" stroke="#000" stroke-width="1.1"/>
<line x1="588.80" y1="990.73" x2="593.10" y2="990.73" stroke="#000" stroke-width="1.1"/>
<text x="573.60" y="993.63" font-size="7.6" fill="#111" text-anchor="middle" textLength="17.70" lengthAdjust="spacingAndGlyphs">6000</text>
<line x1="589.60" y1="973.18" x2="593.10" y2="973.18" stroke="#000" stroke-width="1.1"/>
<line x1="588.80" y1="955.64" x2="593.10" y2="955.64" stroke="#000" stroke-width="1.1"/>
<text x="573.60" y="958.54" font-size="7.6" fill="#111" text-anchor="middle" textLength="17.70" lengthAdjust="spacingAndGlyphs">8000</text>
<line x1="589.60" y1="938.10" x2="593.10" y2="938.10" stroke="#000" stroke-width="1.1"/>
<line x1="588.80" y1="920.55" x2="593.10" y2="920.55" stroke="#000" stroke-width="1.1"/>
<text x="573.60" y="923.45" font-size="7.6" fill="#111" text-anchor="middle" textLength="23.70" lengthAdjust="spacingAndGlyphs">10000</text>
<line x1="589.60" y1="903.00" x2="593.10" y2="903.00" stroke="#000" stroke-width="1.1"/>
<line x1="588.80" y1="885.46" x2="593.10" y2="885.46" stroke="#000" stroke-width="1.1"/>
<text x="573.60" y="888.36" font-size="7.6" fill="#111" text-anchor="middle" textLength="23.70" lengthAdjust="spacingAndGlyphs">12000</text>
<text x="549.5" y="984.6" font-size="11.6" text-anchor="middle" fill="#111" transform="rotate(-90 549.5 984.6)" textLength="64" lengthAdjust="spacingAndGlyphs">Gene Number</text>
<rect x="601.10" y="900.60" width="21.80" height="195.40" fill="#5badcb"/>
<text x="612.00" y="898.07" font-size="7.8" fill="#3a4a90" text-anchor="middle" textLength="29.00" lengthAdjust="spacingAndGlyphs">11137</text>
<rect x="632.25" y="950.27" width="21.80" height="145.73" fill="#5badcb"/>
<text x="643.15" y="947.74" font-size="7.8" fill="#3a4a90" text-anchor="middle" textLength="23.20" lengthAdjust="spacingAndGlyphs">8306</text>
<rect x="663.40" y="1045.44" width="21.80" height="50.56" fill="#5badcb"/>
<text x="674.30" y="1042.90" font-size="7.8" fill="#3a4a90" text-anchor="middle" textLength="23.20" lengthAdjust="spacingAndGlyphs">2882</text>
<rect x="694.55" y="1047.75" width="21.80" height="48.25" fill="#5badcb"/>
<text x="705.45" y="1045.22" font-size="7.8" fill="#3a4a90" text-anchor="middle" textLength="23.20" lengthAdjust="spacingAndGlyphs">2750</text>
<rect x="725.70" y="1063.72" width="21.80" height="32.28" fill="#5badcb"/>
<text x="736.60" y="1061.19" font-size="7.8" fill="#3a4a90" text-anchor="middle" textLength="23.20" lengthAdjust="spacingAndGlyphs">1840</text>
<rect x="756.85" y="1077.09" width="21.80" height="18.91" fill="#5badcb"/>
<text x="767.75" y="1074.56" font-size="7.8" fill="#3a4a90" text-anchor="middle" textLength="23.20" lengthAdjust="spacingAndGlyphs">1078</text>
<rect x="788.00" y="1078.05" width="21.80" height="17.95" fill="#5badcb"/>
<text x="798.90" y="1075.52" font-size="7.8" fill="#3a4a90" text-anchor="middle" textLength="23.20" lengthAdjust="spacingAndGlyphs">1023</text>
<rect x="819.15" y="1078.30" width="21.80" height="17.70" fill="#ee2a2a"/>
<text x="830.05" y="1075.77" font-size="7.8" fill="#e04030" text-anchor="middle" textLength="23.20" lengthAdjust="spacingAndGlyphs">1009</text>
<rect x="850.30" y="1083.07" width="21.80" height="12.93" fill="#5badcb"/>
<text x="861.20" y="1080.54" font-size="7.8" fill="#3a4a90" text-anchor="middle" textLength="17.40" lengthAdjust="spacingAndGlyphs">737</text>
<rect x="881.45" y="1088.02" width="21.80" height="7.98" fill="#5badcb"/>
<text x="892.35" y="1085.49" font-size="7.8" fill="#3a4a90" text-anchor="middle" textLength="17.40" lengthAdjust="spacingAndGlyphs">455</text>
<rect x="912.60" y="1091.37" width="21.80" height="4.63" fill="#5badcb"/>
<text x="923.50" y="1088.84" font-size="7.8" fill="#3a4a90" text-anchor="middle" textLength="17.40" lengthAdjust="spacingAndGlyphs">264</text>
<rect x="943.75" y="1092.11" width="21.80" height="3.89" fill="#5badcb"/>
<text x="954.65" y="1089.57" font-size="7.8" fill="#3a4a90" text-anchor="middle" textLength="17.40" lengthAdjust="spacingAndGlyphs">222</text>
<rect x="974.90" y="1092.11" width="21.80" height="3.89" fill="#5badcb"/>
<text x="985.80" y="1089.57" font-size="7.8" fill="#3a4a90" text-anchor="middle" textLength="17.40" lengthAdjust="spacingAndGlyphs">222</text>
<rect x="1006.05" y="1092.33" width="21.80" height="3.67" fill="#5badcb"/>
<text x="1016.95" y="1089.80" font-size="7.8" fill="#3a4a90" text-anchor="middle" textLength="17.40" lengthAdjust="spacingAndGlyphs">209</text>
<rect x="1037.20" y="1094.26" width="21.80" height="1.74" fill="#5badcb"/>
<text x="1048.10" y="1091.73" font-size="7.8" fill="#3a4a90" text-anchor="middle" textLength="11.60" lengthAdjust="spacingAndGlyphs">99</text>
<rect x="1068.35" y="1094.39" width="21.80" height="1.61" fill="#5badcb"/>
<text x="1079.25" y="1091.85" font-size="7.8" fill="#3a4a90" text-anchor="middle" textLength="11.60" lengthAdjust="spacingAndGlyphs">92</text>
<line x1="592.30" y1="1096.00" x2="1099.20" y2="1096.00" stroke="#000" stroke-width="1.7"/>
<rect x="591.70" y="1100.70" width="507.50" height="5.60" fill="#d2cfcf"/>
<rect x="591.70" y="1116.22" width="507.50" height="5.60" fill="#d2cfcf"/>
<rect x="591.70" y="1131.74" width="507.50" height="5.60" fill="#d2cfcf"/>
<rect x="591.70" y="1147.26" width="507.50" height="5.60" fill="#d2cfcf"/>
<text x="587.70" y="1105.96" font-size="7.5" fill="#111" text-anchor="end" textLength="50.40" lengthAdjust="spacingAndGlyphs">Collinearity-A</text>
<text x="587.70" y="1113.72" font-size="7.5" fill="#111" text-anchor="end" textLength="50.86" lengthAdjust="spacingAndGlyphs">Collinearity-H</text>
<text x="587.70" y="1121.48" font-size="7.5" fill="#111" text-anchor="end" textLength="68.78" lengthAdjust="spacingAndGlyphs">Nonecollinearity-A</text>
<text x="587.70" y="1129.24" font-size="7.5" fill="#111" text-anchor="end" textLength="69.24" lengthAdjust="spacingAndGlyphs">Nonecollinearity-H</text>
<text x="587.70" y="1137.00" font-size="7.5" fill="#111" text-anchor="end" textLength="46.63" lengthAdjust="spacingAndGlyphs">Homologs-A</text>
<text x="587.70" y="1144.76" font-size="7.5" fill="#111" text-anchor="end" textLength="47.10" lengthAdjust="spacingAndGlyphs">Homologs-H</text>
<text x="587.70" y="1152.52" font-size="7.5" fill="#111" text-anchor="end" textLength="65.49" lengthAdjust="spacingAndGlyphs">Nonehomologs-A</text>
<text x="587.70" y="1160.28" font-size="7.5" fill="#111" text-anchor="end" textLength="65.95" lengthAdjust="spacingAndGlyphs">Nonehomologs-H</text>
<line x1="612.00" y1="1103.50" x2="612.00" y2="1142.30" stroke="#000" stroke-width="1.5"/>
<ellipse cx="612.00" cy="1103.50" rx="2.9" ry="2.2" fill="#000"/>
<ellipse cx="612.00" cy="1111.26" rx="2.9" ry="2.2" fill="#000"/>
<ellipse cx="612.00" cy="1134.54" rx="2.9" ry="2.2" fill="#000"/>
<ellipse cx="612.00" cy="1142.30" rx="2.9" ry="2.2" fill="#000"/>
<line x1="643.15" y1="1119.02" x2="643.15" y2="1142.30" stroke="#000" stroke-width="1.5"/>
<ellipse cx="643.15" cy="1119.02" rx="2.9" ry="2.2" fill="#000"/>
<ellipse cx="643.15" cy="1126.78" rx="2.9" ry="2.2" fill="#000"/>
<ellipse cx="643.15" cy="1134.54" rx="2.9" ry="2.2" fill="#000"/>
<ellipse cx="643.15" cy="1142.30" rx="2.9" ry="2.2" fill="#000"/>
<line x1="674.30" y1="1119.02" x2="674.30" y2="1157.82" stroke="#000" stroke-width="1.5"/>
<ellipse cx="674.30" cy="1119.02" rx="2.9" ry="2.2" fill="#000"/>
<ellipse cx="674.30" cy="1126.78" rx="2.9" ry="2.2" fill="#000"/>
<ellipse cx="674.30" cy="1134.54" rx="2.9" ry="2.2" fill="#000"/>
<ellipse cx="674.30" cy="1157.82" rx="2.9" ry="2.2" fill="#000"/>
<line x1="705.45" y1="1111.26" x2="705.45" y2="1142.30" stroke="#000" stroke-width="1.5"/>
<ellipse cx="705.45" cy="1111.26" rx="2.9" ry="2.2" fill="#000"/>
<ellipse cx="705.45" cy="1119.02" rx="2.9" ry="2.2" fill="#000"/>
<ellipse cx="705.45" cy="1134.54" rx="2.9" ry="2.2" fill="#000"/>
<ellipse cx="705.45" cy="1142.30" rx="2.9" ry="2.2" fill="#000"/>
<line x1="736.60" y1="1103.50" x2="736.60" y2="1142.30" stroke="#000" stroke-width="1.5"/>
<ellipse cx="736.60" cy="1103.50" rx="2.9" ry="2.2" fill="#000"/>
<ellipse cx="736.60" cy="1126.78" rx="2.9" ry="2.2" fill="#000"/>
<ellipse cx="736.60" cy="1134.54" rx="2.9" ry="2.2" fill="#000"/>
<ellipse cx="736.60" cy="1142.30" rx="2.9" ry="2.2" fill="#000"/>
<line x1="767.75" y1="1103.50" x2="767.75" y2="1157.82" stroke="#000" stroke-width="1.5"/>
<ellipse cx="767.75" cy="1103.50" rx="2.9" ry="2.2" fill="#000"/>
<ellipse cx="767.75" cy="1126.78" rx="2.9" ry="2.2" fill="#000"/>
<ellipse cx="767.75" cy="1134.54" rx="2.9" ry="2.2" fill="#000"/>
<ellipse cx="767.75" cy="1157.82" rx="2.9" ry="2.2" fill="#000"/>
<line x1="798.90" y1="1103.50" x2="798.90" y2="1157.82" stroke="#000" stroke-width="1.5"/>
<ellipse cx="798.90" cy="1103.50" rx="2.9" ry="2.2" fill="#000"/>
<ellipse cx="798.90" cy="1111.26" rx="2.9" ry="2.2" fill="#000"/>
<ellipse cx="798.90" cy="1134.54" rx="2.9" ry="2.2" fill="#000"/>
<ellipse cx="798.90" cy="1157.82" rx="2.9" ry="2.2" fill="#000"/>
<line x1="830.05" y1="1119.02" x2="830.05" y2="1157.82" stroke="#e0492f" stroke-width="1.5"/>
<ellipse cx="830.05" cy="1119.02" rx="2.9" ry="2.2" fill="#e0492f"/>
<ellipse cx="830.05" cy="1126.78" rx="2.9" ry="2.2" fill="#e0492f"/>
<ellipse cx="830.05" cy="1150.06" rx="2.9" ry="2.2" fill="#e0492f"/>
<ellipse cx="830.05" cy="1157.82" rx="2.9" ry="2.2" fill="#e0492f"/>
<line x1="861.20" y1="1119.02" x2="861.20" y2="1150.06" stroke="#000" stroke-width="1.5"/>
<ellipse cx="861.20" cy="1119.02" rx="2.9" ry="2.2" fill="#000"/>
<ellipse cx="861.20" cy="1126.78" rx="2.9" ry="2.2" fill="#000"/>
<ellipse cx="861.20" cy="1142.30" rx="2.9" ry="2.2" fill="#000"/>
<ellipse cx="861.20" cy="1150.06" rx="2.9" ry="2.2" fill="#000"/>
<line x1="892.35" y1="1103.50" x2="892.35" y2="1150.06" stroke="#000" stroke-width="1.5"/>
<ellipse cx="892.35" cy="1103.50" rx="2.9" ry="2.2" fill="#000"/>
<ellipse cx="892.35" cy="1111.26" rx="2.9" ry="2.2" fill="#000"/>
<ellipse cx="892.35" cy="1142.30" rx="2.9" ry="2.2" fill="#000"/>
<ellipse cx="892.35" cy="1150.06" rx="2.9" ry="2.2" fill="#000"/>
<line x1="923.50" y1="1103.50" x2="923.50" y2="1157.82" stroke="#000" stroke-width="1.5"/>
<ellipse cx="923.50" cy="1103.50" rx="2.9" ry="2.2" fill="#000"/>
<ellipse cx="923.50" cy="1111.26" rx="2.9" ry="2.2" fill="#000"/>
<ellipse cx="923.50" cy="1150.06" rx="2.9" ry="2.2" fill="#000"/>
<ellipse cx="923.50" cy="1157.82" rx="2.9" ry="2.2" fill="#000"/>
<line x1="954.65" y1="1103.50" x2="954.65" y2="1157.82" stroke="#000" stroke-width="1.5"/>
<ellipse cx="954.65" cy="1103.50" rx="2.9" ry="2.2" fill="#000"/>
<ellipse cx="954.65" cy="1126.78" rx="2.9" ry="2.2" fill="#000"/>
<ellipse cx="954.65" cy="1150.06" rx="2.9" ry="2.2" fill="#000"/>
<ellipse cx="954.65" cy="1157.82" rx="2.9" ry="2.2" fill="#000"/>
<line x1="985.80" y1="1111.26" x2="985.80" y2="1157.82" stroke="#000" stroke-width="1.5"/>
<ellipse cx="985.80" cy="1111.26" rx="2.9" ry="2.2" fill="#000"/>
<ellipse cx="985.80" cy="1119.02" rx="2.9" ry="2.2" fill="#000"/>
<ellipse cx="985.80" cy="1134.54" rx="2.9" ry="2.2" fill="#000"/>
<ellipse cx="985.80" cy="1157.82" rx="2.9" ry="2.2" fill="#000"/>
<line x1="1016.95" y1="1111.26" x2="1016.95" y2="1150.06" stroke="#000" stroke-width="1.5"/>
<ellipse cx="1016.95" cy="1111.26" rx="2.9" ry="2.2" fill="#000"/>
<ellipse cx="1016.95" cy="1119.02" rx="2.9" ry="2.2" fill="#000"/>
<ellipse cx="1016.95" cy="1142.30" rx="2.9" ry="2.2" fill="#000"/>
<ellipse cx="1016.95" cy="1150.06" rx="2.9" ry="2.2" fill="#000"/>
<line x1="1048.10" y1="1111.26" x2="1048.10" y2="1157.82" stroke="#000" stroke-width="1.5"/>
<ellipse cx="1048.10" cy="1111.26" rx="2.9" ry="2.2" fill="#000"/>
<ellipse cx="1048.10" cy="1119.02" rx="2.9" ry="2.2" fill="#000"/>
<ellipse cx="1048.10" cy="1150.06" rx="2.9" ry="2.2" fill="#000"/>
<ellipse cx="1048.10" cy="1157.82" rx="2.9" ry="2.2" fill="#000"/>
<line x1="1079.25" y1="1103.50" x2="1079.25" y2="1150.06" stroke="#000" stroke-width="1.5"/>
<ellipse cx="1079.25" cy="1103.50" rx="2.9" ry="2.2" fill="#000"/>
<ellipse cx="1079.25" cy="1126.78" rx="2.9" ry="2.2" fill="#000"/>
<ellipse cx="1079.25" cy="1142.30" rx="2.9" ry="2.2" fill="#000"/>
<ellipse cx="1079.25" cy="1150.06" rx="2.9" ry="2.2" fill="#000"/>
<path d="M836.50,926.50 A19.00,19.00 0 0 1 842.69,927.54 L836.50,945.49 A0.01,0.01 0 0 0 836.50,945.49 Z" fill="#eb6e5b" stroke="#fff" stroke-width="1.2"/>
<path d="M842.69,927.54 A19.00,19.00 0 0 1 855.21,948.80 L836.51,945.50 A0.01,0.01 0 0 0 836.50,945.49 Z" fill="#f9bba9" stroke="#fff" stroke-width="1.2"/>
<path d="M855.21,948.80 A19.00,19.00 0 0 1 853.99,952.92 L836.51,945.50 A0.01,0.01 0 0 0 836.51,945.50 Z" fill="#957a68" stroke="#fff" stroke-width="1.2"/>
<path d="M853.99,952.92 A19.00,19.00 0 0 1 819.01,938.08 L836.49,945.50 A0.01,0.01 0 0 0 836.51,945.50 Z" fill="#a67bb5" stroke="#fff" stroke-width="1.2"/>
<path d="M819.01,938.08 A19.00,19.00 0 0 1 836.50,926.50 L836.50,945.49 A0.01,0.01 0 0 0 836.49,945.50 Z" fill="#4a9d6e" stroke="#fff" stroke-width="1.2"/>
<circle cx="836.5" cy="945.5" r="21" fill="none" stroke="#fff" stroke-width="4"/>
<path d="M836.50,902.70 A42.80,42.80 0 0 1 852.53,905.82 L845.12,924.17 A23.00,23.00 0 0 0 836.50,922.50 Z" fill="#eb6e5b" stroke="#fff" stroke-width="1.2"/>
<path d="M854.59,906.71 A42.80,42.80 0 0 1 871.56,920.95 L855.34,932.31 A23.00,23.00 0 0 0 846.22,924.65 Z" fill="#9ba5c6" stroke="#fff" stroke-width="1.2"/>
<path d="M872.19,921.88 A42.80,42.80 0 0 1 873.57,924.10 L856.42,934.00 A23.00,23.00 0 0 0 855.68,932.81 Z" fill="#6ec7e0" stroke="#fff" stroke-width="1.2"/>
<path d="M873.75,924.42 A42.80,42.80 0 0 1 874.80,926.40 L857.08,935.24 A23.00,23.00 0 0 0 856.52,934.17 Z" fill="#a9dbcf" stroke="#fff" stroke-width="1.2"/>
<path d="M875.29,927.41 A42.80,42.80 0 0 1 879.07,949.97 L859.37,947.90 A23.00,23.00 0 0 0 857.35,935.78 Z" fill="#2fa9c5" stroke="#fff" stroke-width="1.2"/>
<path d="M879.07,949.97 A42.80,42.80 0 0 1 849.01,986.43 L843.22,967.50 A23.00,23.00 0 0 0 859.37,947.90 Z" fill="#f4ac9a" stroke="#fff" stroke-width="1.2"/>
<path d="M846.85,987.03 A42.80,42.80 0 0 1 835.01,988.27 L835.70,968.49 A23.00,23.00 0 0 0 842.06,967.82 Z" fill="#957a68" stroke="#fff" stroke-width="1.2"/>
<path d="M835.01,988.27 A42.80,42.80 0 0 1 836.50,902.70 L836.50,922.50 A23.00,23.00 0 0 0 835.70,968.49 Z" fill="#a67bb5" stroke="#fff" stroke-width="1.2"/>
<path d="M836.50,881.40 A64.10,64.10 0 0 1 860.51,886.07 L853.66,903.03 A45.80,45.80 0 0 0 836.50,899.70 Z" fill="#eb6e5b" stroke="#fff" stroke-width="1.2"/>
<path d="M862.57,886.94 A64.10,64.10 0 0 1 868.55,889.99 L859.40,905.84 A45.80,45.80 0 0 0 855.13,903.66 Z" fill="#5c6ea3" stroke="#fff" stroke-width="1.2"/>
<path d="M869.99,890.85 A64.10,64.10 0 0 1 882.61,900.97 L869.45,913.68 A45.80,45.80 0 0 0 860.43,906.45 Z" fill="#f9bba9" stroke="#fff" stroke-width="1.2"/>
<path d="M883.76,902.19 A64.10,64.10 0 0 1 886.67,905.60 L872.34,916.99 A45.80,45.80 0 0 0 870.27,914.56 Z" fill="#6ec7e0" stroke="#fff" stroke-width="1.2"/>
<path d="M887.69,906.92 A64.10,64.10 0 0 1 890.26,910.59 L874.91,920.56 A45.80,45.80 0 0 0 873.08,917.94 Z" fill="#b5305a" stroke="#fff" stroke-width="1.2"/>
<path d="M890.86,911.53 A64.10,64.10 0 0 1 898.96,931.08 L881.13,935.20 A45.80,45.80 0 0 0 875.34,921.23 Z" fill="#957a68" stroke="#fff" stroke-width="1.2"/>
<path d="M836.50,858.50 A87.00,87.00 0 0 1 870.49,865.42 L862.99,883.09 A67.80,67.80 0 0 0 836.50,877.70 Z" fill="#eb6e5b" stroke="#fff" stroke-width="1.2"/>
<path d="M871.89,866.02 A87.00,87.00 0 0 1 901.15,887.29 L886.89,900.13 A67.80,67.80 0 0 0 864.08,883.56 Z" fill="#e03030" stroke="#fff" stroke-width="1.2"/>
<path d="M902.16,888.42 A87.00,87.00 0 0 1 906.88,894.36 L891.35,905.65 A67.80,67.80 0 0 0 887.67,901.02 Z" fill="#5c6ea3" stroke="#fff" stroke-width="1.2"/>
<path d="M907.77,895.60 A87.00,87.00 0 0 1 921.75,928.15 L902.94,931.98 A67.80,67.80 0 0 0 892.04,906.61 Z" fill="#9ba5c6" stroke="#fff" stroke-width="1.2"/>
<path d="M922.04,929.65 A87.00,87.00 0 0 1 922.94,935.65 L903.86,937.82 A67.80,67.80 0 0 0 903.16,933.14 Z" fill="#6ec7e0" stroke="#fff" stroke-width="1.2"/>
<path d="M923.10,937.16 A87.00,87.00 0 0 1 923.47,943.22 L904.28,943.73 A67.80,67.80 0 0 0 903.99,939.00 Z" fill="#a9dbcf" stroke="#fff" stroke-width="1.2"/>
<path d="M923.49,944.44 A87.00,87.00 0 0 1 923.49,946.71 L904.29,946.45 A67.80,67.80 0 0 0 904.29,944.67 Z" fill="#2ba597" stroke="#fff" stroke-width="1.2"/>
<path d="M923.47,947.78 A87.00,87.00 0 0 1 875.32,1023.36 L866.75,1006.18 A67.80,67.80 0 0 0 904.28,947.27 Z" fill="#f4ac9a" stroke="#fff" stroke-width="1.2"/>
<text x="953.50" y="853.25" font-size="11.4" fill="#111">Visualization Subsets</text>
<rect x="953.20" y="857.80" width="9.80" height="9.80" fill="#4a9d6e"/>
<text x="968.50" y="865.16" font-size="7.5" fill="#111">Nonecoll-A:2750</text>
<rect x="953.20" y="869.21" width="9.80" height="9.80" fill="#a67bb5"/>
<text x="968.50" y="876.57" font-size="7.5" fill="#111">Nonecoll-A_Nonecoll-H:8306</text>
<rect x="953.20" y="880.62" width="9.80" height="9.80" fill="#957a68"/>
<text x="968.50" y="887.98" font-size="7.5" fill="#111">Nonecoll-A_Nonecoll-H_Nonehomo-A:737</text>
<rect x="953.20" y="892.03" width="9.80" height="9.80" fill="#f4ac9a"/>
<text x="968.50" y="899.39" font-size="7.5" fill="#111">Nonecoll-A_Nonecoll-H_Nonehomo-H:2882</text>
<rect x="953.20" y="903.44" width="9.80" height="9.80" fill="#b5305a"/>
<text x="968.50" y="910.80" font-size="7.5" fill="#111">Nonecoll-A_Nonehomo-A:209</text>
<rect x="953.20" y="914.85" width="9.80" height="9.80" fill="#2ba597"/>
<text x="968.50" y="922.21" font-size="7.5" fill="#111">Nonecoll-A_Nonehomo-A_Nonehomo-H:99</text>
<rect x="953.20" y="926.26" width="9.80" height="9.80" fill="#a9dbcf"/>
<text x="968.50" y="933.62" font-size="7.5" fill="#111">Nonecoll-A_nonehomo-H:222</text>
<rect x="953.20" y="937.67" width="9.80" height="9.80" fill="#2fa9c5"/>
<text x="968.50" y="945.03" font-size="7.5" fill="#111">Nonecoll-H:1840</text>
<rect x="953.20" y="949.08" width="9.80" height="9.80" fill="#bfab97"/>
<text x="968.50" y="956.44" font-size="7.5" fill="#111">Nonecoll-H_Nonehomo-A:92</text>
<rect x="953.20" y="960.49" width="9.80" height="9.80" fill="#6ec7e0"/>
<text x="968.50" y="967.85" font-size="7.5" fill="#111">Nonecoll-H_Nonehomo-A_Nonehomo-H:222</text>
<rect x="953.20" y="971.90" width="9.80" height="9.80" fill="#9ba5c6"/>
<text x="968.50" y="979.26" font-size="7.5" fill="#111">Nonecoll-H_Nonehomo-H:1078</text>
<rect x="953.20" y="983.31" width="9.80" height="9.80" fill="#f9bba9"/>
<text x="968.50" y="990.67" font-size="7.5" fill="#111">Nonehomo-A:455</text>
<rect x="953.20" y="994.72" width="9.80" height="9.80" fill="#5c6ea3"/>
<text x="968.50" y="1002.08" font-size="7.5" fill="#111">Nonehomo-A_Nonehomo-H:264</text>
<rect x="953.20" y="1006.13" width="9.80" height="9.80" fill="#e03030"/>
<text x="968.50" y="1013.49" font-size="7.5" fill="#111">Nonehomo-H:1023</text>
<rect x="953.20" y="1017.54" width="9.80" height="9.80" fill="#eb6e5b"/>
<text x="968.50" y="1024.90" font-size="7.5" fill="#e0503a">Shared:1009</text>
</g>
<g id="panel_g">
<text x="73.30" y="1209.50" font-size="22.5" fill="#000">(g)</text>
<path d="M77.3,1231.8 C77.3,1267.9 43.8,1267.9 43.8,1304.1 L48.0,1304.1 C48.0,1267.9 81.0,1267.9 81.0,1231.8Z" fill="#e1e4e4" fill-opacity="0.14"/>
<path d="M82.1,1231.8 C82.1,1267.9 51.2,1267.9 51.2,1304.1 L58.7,1304.1 C58.7,1267.9 88.6,1267.9 88.6,1231.8Z" fill="#e1e4e4" fill-opacity="0.05"/>
<path d="M89.0,1231.8 C89.0,1267.9 56.1,1267.9 56.1,1304.1 L60.5,1304.1 C60.5,1267.9 92.8,1267.9 92.8,1231.8Z" fill="#e1e4e4" fill-opacity="0.3"/>
<path d="M93.4,1231.8 C93.4,1267.9 58.6,1267.9 58.6,1304.1 L68.0,1304.1 C68.0,1267.9 101.6,1267.9 101.6,1231.8Z" fill="#e1e4e4" fill-opacity="0.21"/>
<path d="M102.6,1231.8 C102.6,1267.9 73.8,1267.9 73.8,1304.1 L81.4,1304.1 C81.4,1267.9 109.2,1267.9 109.2,1231.8Z" fill="#e1e4e4" fill-opacity="0.18"/>
<path d="M110.9,1231.8 C110.9,1267.9 82.1,1267.9 82.1,1304.1 L90.0,1304.1 C90.0,1267.9 117.8,1267.9 117.8,1231.8Z" fill="#e1e4e4" fill-opacity="0.24"/>
<path d="M118.1,1231.8 C118.1,1267.9 89.5,1267.9 89.5,1304.1 L94.2,1304.1 C94.2,1267.9 122.2,1267.9 122.2,1231.8Z" fill="#e1e4e4" fill-opacity="0.27"/>
<path d="M122.5,1231.8 C122.5,1267.9 98.1,1267.9 98.1,1304.1 L106.4,1304.1 C106.4,1267.9 129.8,1267.9 129.8,1231.8Z" fill="#e1e4e4" fill-opacity="0.23"/>
<path d="M131.4,1231.8 C131.4,1267.9 108.4,1267.9 108.4,1304.1 L113.9,1304.1 C113.9,1267.9 136.3,1267.9 136.3,1231.8Z" fill="#e1e4e4" fill-opacity="0.16"/>
<path d="M137.8,1231.8 C137.8,1267.9 110.0,1267.9 110.0,1304.1 L119.6,1304.1 C119.6,1267.9 146.3,1267.9 146.3,1231.8Z" fill="#e1e4e4" fill-opacity="0.08"/>
<path d="M146.7,1231.8 C146.7,1267.9 120.8,1267.9 120.8,1304.1 L131.2,1304.1 C131.2,1267.9 155.8,1267.9 155.8,1231.8Z" fill="#e1e4e4" fill-opacity="0.21"/>
<path d="M156.7,1231.8 C156.7,1267.9 134.5,1267.9 134.5,1304.1 L141.0,1304.1 C141.0,1267.9 162.4,1267.9 162.4,1231.8Z" fill="#e1e4e4" fill-opacity="0.14"/>
<path d="M163.3,1231.8 C163.3,1267.9 144.8,1267.9 144.8,1304.1 L151.9,1304.1 C151.9,1267.9 169.5,1267.9 169.5,1231.8Z" fill="#e1e4e4" fill-opacity="0.22"/>
<path d="M171.2,1231.8 C171.2,1267.9 147.8,1267.9 147.8,1304.1 L157.2,1304.1 C157.2,1267.9 179.5,1267.9 179.5,1231.8Z" fill="#e1e4e4" fill-opacity="0.22"/>
<path d="M181.4,1231.8 C181.4,1267.9 162.6,1267.9 162.6,1304.1 L172.1,1304.1 C172.1,1267.9 189.7,1267.9 189.7,1231.8Z" fill="#e1e4e4" fill-opacity="0.28"/>
<path d="M191.5,1231.8 C191.5,1267.9 174.2,1267.9 174.2,1304.1 L182.5,1304.1 C182.5,1267.9 198.7,1267.9 198.7,1231.8Z" fill="#e1e4e4" fill-opacity="0.26"/>
<path d="M199.3,1231.8 C199.3,1267.9 186.5,1267.9 186.5,1304.1 L191.1,1304.1 C191.1,1267.9 203.3,1267.9 203.3,1231.8Z" fill="#e1e4e4" fill-opacity="0.26"/>
<path d="M203.7,1231.8 C203.7,1267.9 184.8,1267.9 184.8,1304.1 L187.7,1304.1 C187.7,1267.9 206.2,1267.9 206.2,1231.8Z" fill="#e1e4e4" fill-opacity="0.15"/>
<path d="M207.7,1231.8 C207.7,1267.9 188.6,1267.9 188.6,1304.1 L193.2,1304.1 C193.2,1267.9 211.8,1267.9 211.8,1231.8Z" fill="#e1e4e4" fill-opacity="0.27"/>
<path d="M213.3,1231.8 C213.3,1267.9 197.2,1267.9 197.2,1304.1 L204.6,1304.1 C204.6,1267.9 219.8,1267.9 219.8,1231.8Z" fill="#e1e4e4" fill-opacity="0.23"/>
<path d="M220.1,1231.8 C220.1,1267.9 210.3,1267.9 210.3,1304.1 L220.0,1304.1 C220.0,1267.9 228.6,1267.9 228.6,1231.8Z" fill="#e1e4e4" fill-opacity="0.18"/>
<path d="M230.4,1231.8 C230.4,1267.9 214.4,1267.9 214.4,1304.1 L219.2,1304.1 C219.2,1267.9 234.6,1267.9 234.6,1231.8Z" fill="#e1e4e4" fill-opacity="0.2"/>
<path d="M235.0,1231.8 C235.0,1267.9 220.6,1267.9 220.6,1304.1 L224.4,1304.1 C224.4,1267.9 238.3,1267.9 238.3,1231.8Z" fill="#e1e4e4" fill-opacity="0.2"/>
<path d="M239.2,1231.8 C239.2,1267.9 231.9,1267.9 231.9,1304.1 L234.4,1304.1 C234.4,1267.9 241.4,1267.9 241.4,1231.8Z" fill="#e1e4e4" fill-opacity="0.13"/>
<path d="M243.1,1231.8 C243.1,1267.9 232.8,1267.9 232.8,1304.1 L242.6,1304.1 C242.6,1267.9 251.6,1267.9 251.6,1231.8Z" fill="#e1e4e4" fill-opacity="0.17"/>
<path d="M252.5,1231.8 C252.5,1267.9 244.4,1267.9 244.4,1304.1 L252.0,1304.1 C252.0,1267.9 259.2,1267.9 259.2,1231.8Z" fill="#e1e4e4" fill-opacity="0.19"/>
<path d="M260.4,1231.8 C260.4,1267.9 254.2,1267.9 254.2,1304.1 L264.4,1304.1 C264.4,1267.9 269.3,1267.9 269.3,1231.8Z" fill="#e1e4e4" fill-opacity="0.16"/>
<path d="M270.4,1231.8 C270.4,1267.9 264.1,1267.9 264.1,1304.1 L268.2,1304.1 C268.2,1267.9 274.0,1267.9 274.0,1231.8Z" fill="#e1e4e4" fill-opacity="0.29"/>
<path d="M274.8,1231.8 C274.8,1267.9 269.5,1267.9 269.5,1304.1 L276.4,1304.1 C276.4,1267.9 280.8,1267.9 280.8,1231.8Z" fill="#e1e4e4" fill-opacity="0.15"/>
<path d="M281.0,1231.8 C281.0,1267.9 272.5,1267.9 272.5,1304.1 L274.8,1304.1 C274.8,1267.9 283.0,1267.9 283.0,1231.8Z" fill="#e1e4e4" fill-opacity="0.21"/>
<path d="M284.3,1231.8 C284.3,1267.9 278.6,1267.9 278.6,1304.1 L286.1,1304.1 C286.1,1267.9 290.8,1267.9 290.8,1231.8Z" fill="#e1e4e4" fill-opacity="0.22"/>
<path d="M291.8,1231.8 C291.8,1267.9 284.9,1267.9 284.9,1304.1 L293.1,1304.1 C293.1,1267.9 299.0,1267.9 299.0,1231.8Z" fill="#e1e4e4" fill-opacity="0.06"/>
<path d="M300.5,1231.8 C300.5,1267.9 297.9,1267.9 297.9,1304.1 L305.9,1304.1 C305.9,1267.9 307.4,1267.9 307.4,1231.8Z" fill="#e1e4e4" fill-opacity="0.11"/>
<path d="M309.2,1231.8 C309.2,1267.9 306.8,1267.9 306.8,1304.1 L314.0,1304.1 C314.0,1267.9 315.5,1267.9 315.5,1231.8Z" fill="#e1e4e4" fill-opacity="0.73"/>
<path d="M316.3,1231.8 C316.3,1267.9 316.0,1267.9 316.0,1304.1 L321.3,1304.1 C321.3,1267.9 320.9,1267.9 320.9,1231.8Z" fill="#e1e4e4" fill-opacity="0.71"/>
<path d="M322.1,1231.8 C322.1,1267.9 323.8,1267.9 323.8,1304.1 L332.5,1304.1 C332.5,1267.9 329.8,1267.9 329.8,1231.8Z" fill="#e1e4e4" fill-opacity="0.8"/>
<path d="M330.1,1231.8 C330.1,1267.9 331.4,1267.9 331.4,1304.1 L336.2,1304.1 C336.2,1267.9 334.3,1267.9 334.3,1231.8Z" fill="#e1e4e4" fill-opacity="0.88"/>
<path d="M334.9,1231.8 C334.9,1267.9 336.4,1267.9 336.4,1304.1 L340.2,1304.1 C340.2,1267.9 338.1,1267.9 338.1,1231.8Z" fill="#e1e4e4" fill-opacity="0.84"/>
<path d="M339.1,1231.8 C339.1,1267.9 342.3,1267.9 342.3,1304.1 L347.2,1304.1 C347.2,1267.9 343.4,1267.9 343.4,1231.8Z" fill="#e1e4e4" fill-opacity="0.89"/>
<path d="M344.1,1231.8 C344.1,1267.9 348.7,1267.9 348.7,1304.1 L358.2,1304.1 C358.2,1267.9 352.4,1267.9 352.4,1231.8Z" fill="#e1e4e4" fill-opacity="0.72"/>
<path d="M352.9,1231.8 C352.9,1267.9 357.2,1267.9 357.2,1304.1 L366.9,1304.1 C366.9,1267.9 361.4,1267.9 361.4,1231.8Z" fill="#e1e4e4" fill-opacity="0.68"/>
<path d="M362.4,1231.8 C362.4,1267.9 370.2,1267.9 370.2,1304.1 L376.9,1304.1 C376.9,1267.9 368.3,1267.9 368.3,1231.8Z" fill="#e1e4e4" fill-opacity="0.88"/>
<path d="M368.8,1231.8 C368.8,1267.9 376.9,1267.9 376.9,1304.1 L380.6,1304.1 C380.6,1267.9 372.0,1267.9 372.0,1231.8Z" fill="#e1e4e4" fill-opacity="0.88"/>
<path d="M372.7,1231.8 C372.7,1267.9 380.3,1267.9 380.3,1304.1 L389.4,1304.1 C389.4,1267.9 380.7,1267.9 380.7,1231.8Z" fill="#e1e4e4" fill-opacity="0.65"/>
<path d="M381.5,1231.8 C381.5,1267.9 390.7,1267.9 390.7,1304.1 L399.6,1304.1 C399.6,1267.9 389.3,1267.9 389.3,1231.8Z" fill="#e1e4e4" fill-opacity="0.72"/>
<path d="M389.9,1231.8 C389.9,1267.9 399.6,1267.9 399.6,1304.1 L405.4,1304.1 C405.4,1267.9 395.0,1267.9 395.0,1231.8Z" fill="#e1e4e4" fill-opacity="0.92"/>
<path d="M395.9,1231.8 C395.9,1267.9 408.9,1267.9 408.9,1304.1 L411.1,1304.1 C411.1,1267.9 397.8,1267.9 397.8,1231.8Z" fill="#e1e4e4" fill-opacity="0.91"/>
<path d="M399.6,1231.8 C399.6,1267.9 410.8,1267.9 410.8,1304.1 L416.7,1304.1 C416.7,1267.9 404.7,1267.9 404.7,1231.8Z" fill="#e1e4e4" fill-opacity="0.92"/>
<path d="M406.5,1231.8 C406.5,1267.9 419.6,1267.9 419.6,1304.1 L428.2,1304.1 C428.2,1267.9 413.9,1267.9 413.9,1231.8Z" fill="#e1e4e4" fill-opacity="0.83"/>
<path d="M415.5,1231.8 C415.5,1267.9 428.6,1267.9 428.6,1304.1 L433.3,1304.1 C433.3,1267.9 419.6,1267.9 419.6,1231.8Z" fill="#e1e4e4" fill-opacity="0.68"/>
<path d="M420.4,1231.8 C420.4,1267.9 434.1,1267.9 434.1,1304.1 L441.3,1304.1 C441.3,1267.9 426.7,1267.9 426.7,1231.8Z" fill="#e1e4e4" fill-opacity="0.88"/>
<path d="M427.4,1231.8 C427.4,1267.9 444.6,1267.9 444.6,1304.1 L454.5,1304.1 C454.5,1267.9 436.0,1267.9 436.0,1231.8Z" fill="#e1e4e4" fill-opacity="0.92"/>
<path d="M437.4,1231.8 C437.4,1267.9 455.6,1267.9 455.6,1304.1 L465.5,1304.1 C465.5,1267.9 446.0,1267.9 446.0,1231.8Z" fill="#e1e4e4" fill-opacity="0.6"/>
<path d="M447.2,1231.8 C447.2,1267.9 466.2,1267.9 466.2,1304.1 L469.8,1304.1 C469.8,1267.9 450.3,1267.9 450.3,1231.8Z" fill="#e1e4e4" fill-opacity="0.83"/>
<path d="M451.0,1231.8 C451.0,1267.9 470.1,1267.9 470.1,1304.1 L475.8,1304.1 C475.8,1267.9 456.0,1267.9 456.0,1231.8Z" fill="#e1e4e4" fill-opacity="0.81"/>
<path d="M457.8,1231.8 C457.8,1267.9 479.1,1267.9 479.1,1304.1 L483.4,1304.1 C483.4,1267.9 461.6,1267.9 461.6,1231.8Z" fill="#e1e4e4" fill-opacity="0.77"/>
<path d="M463.2,1231.8 C463.2,1267.9 485.4,1267.9 485.4,1304.1 L490.6,1304.1 C490.6,1267.9 467.7,1267.9 467.7,1231.8Z" fill="#e1e4e4" fill-opacity="0.79"/>
<path d="M468.3,1231.8 C468.3,1267.9 491.2,1267.9 491.2,1304.1 L494.8,1304.1 C494.8,1267.9 471.4,1267.9 471.4,1231.8Z" fill="#e1e4e4" fill-opacity="0.92"/>
<path d="M473.0,1231.8 C473.0,1267.9 496.7,1267.9 496.7,1304.1 L505.9,1304.1 C505.9,1267.9 481.0,1267.9 481.0,1231.8Z" fill="#e1e4e4" fill-opacity="0.82"/>
<path d="M481.2,1231.8 C481.2,1267.9 505.2,1267.9 505.2,1304.1 L507.7,1304.1 C507.7,1267.9 483.5,1267.9 483.5,1231.8Z" fill="#e1e4e4" fill-opacity="0.69"/>
<path d="M484.2,1231.8 C484.2,1267.9 506.9,1267.9 506.9,1304.1 L512.7,1304.1 C512.7,1267.9 489.2,1267.9 489.2,1231.8Z" fill="#e1e4e4" fill-opacity="0.87"/>
<path d="M490.2,1231.8 C490.2,1267.9 514.1,1267.9 514.1,1304.1 L516.7,1304.1 C516.7,1267.9 492.5,1267.9 492.5,1231.8Z" fill="#e1e4e4" fill-opacity="0.64"/>
<path d="M492.9,1231.8 C492.9,1267.9 518.5,1267.9 518.5,1304.1 L529.0,1304.1 C529.0,1267.9 502.1,1267.9 502.1,1231.8Z" fill="#e1e4e4" fill-opacity="0.63"/>
<path d="M503.8,1231.8 C503.8,1267.9 531.3,1267.9 531.3,1304.1 L536.1,1304.1 C536.1,1267.9 508.0,1267.9 508.0,1231.8Z" fill="#e1e4e4" fill-opacity="0.72"/>
<path d="M508.7,1231.8 C508.7,1267.9 536.0,1267.9 536.0,1304.1 L543.2,1304.1 C543.2,1267.9 515.0,1267.9 515.0,1231.8Z" fill="#e1e4e4" fill-opacity="0.67"/>
<path d="M515.8,1231.8 C515.8,1267.9 544.3,1267.9 544.3,1304.1 L547.5,1304.1 C547.5,1267.9 518.6,1267.9 518.6,1231.8Z" fill="#e1e4e4" fill-opacity="0.85"/>
<path d="M519.8,1231.8 C519.8,1267.9 549.5,1267.9 549.5,1304.1 L552.3,1304.1 C552.3,1267.9 522.3,1267.9 522.3,1231.8Z" fill="#e1e4e4" fill-opacity="0.73"/>
<path d="M522.8,1231.8 C522.8,1267.9 553.0,1267.9 553.0,1304.1 L561.8,1304.1 C561.8,1267.9 530.5,1267.9 530.5,1231.8Z" fill="#e1e4e4" fill-opacity="0.88"/>
<path d="M531.4,1231.8 C531.4,1267.9 563.0,1267.9 563.0,1304.1 L568.9,1304.1 C568.9,1267.9 536.5,1267.9 536.5,1231.8Z" fill="#e1e4e4" fill-opacity="0.77"/>
<path d="M537.3,1231.8 C537.3,1267.9 568.5,1267.9 568.5,1304.1 L574.2,1304.1 C574.2,1267.9 542.3,1267.9 542.3,1231.8Z" fill="#e1e4e4" fill-opacity="0.76"/>
<path d="M543.7,1231.8 C543.7,1267.9 576.3,1267.9 576.3,1304.1 L578.4,1304.1 C578.4,1267.9 545.5,1267.9 545.5,1231.8Z" fill="#e1e4e4" fill-opacity="0.63"/>
<path d="M43.0,1304.1 C43.0,1340.2 130.4,1340.2 130.4,1376.4 L134.3,1376.4 C134.3,1340.2 48.8,1340.2 48.8,1304.1Z" fill="#e1e4e4" fill-opacity="0.28"/>
<path d="M50.7,1304.1 C50.7,1340.2 136.3,1340.2 136.3,1376.4 L142.9,1376.4 C142.9,1340.2 60.5,1340.2 60.5,1304.1Z" fill="#e1e4e4" fill-opacity="0.12"/>
<path d="M62.3,1304.1 C62.3,1340.2 147.4,1340.2 147.4,1376.4 L149.6,1376.4 C149.6,1340.2 65.5,1340.2 65.5,1304.1Z" fill="#e1e4e4" fill-opacity="0.22"/>
<path d="M67.3,1304.1 C67.3,1340.2 148.2,1340.2 148.2,1376.4 L154.2,1376.4 C154.2,1340.2 76.2,1340.2 76.2,1304.1Z" fill="#e1e4e4" fill-opacity="0.23"/>
<path d="M77.7,1304.1 C77.7,1340.2 151.8,1340.2 151.8,1376.4 L153.9,1376.4 C153.9,1340.2 80.8,1340.2 80.8,1304.1Z" fill="#e1e4e4" fill-opacity="0.05"/>
<path d="M82.1,1304.1 C82.1,1340.2 154.4,1340.2 154.4,1376.4 L160.3,1376.4 C160.3,1340.2 90.9,1340.2 90.9,1304.1Z" fill="#e1e4e4" fill-opacity="0.07"/>
<path d="M91.3,1304.1 C91.3,1340.2 166.5,1340.2 166.5,1376.4 L173.0,1376.4 C173.0,1340.2 101.0,1340.2 101.0,1304.1Z" fill="#e1e4e4" fill-opacity="0.06"/>
<path d="M101.6,1304.1 C101.6,1340.2 173.3,1340.2 173.3,1376.4 L175.5,1376.4 C175.5,1340.2 104.7,1340.2 104.7,1304.1Z" fill="#e1e4e4" fill-opacity="0.22"/>
<path d="M106.6,1304.1 C106.6,1340.2 170.3,1340.2 170.3,1376.4 L177.2,1376.4 C177.2,1340.2 116.9,1340.2 116.9,1304.1Z" fill="#e1e4e4" fill-opacity="0.25"/>
<path d="M118.2,1304.1 C118.2,1340.2 178.7,1340.2 178.7,1376.4 L184.5,1376.4 C184.5,1340.2 127.0,1340.2 127.0,1304.1Z" fill="#e1e4e4" fill-opacity="0.23"/>
<path d="M128.2,1304.1 C128.2,1340.2 187.1,1340.2 187.1,1376.4 L192.8,1376.4 C192.8,1340.2 136.7,1340.2 136.7,1304.1Z" fill="#e1e4e4" fill-opacity="0.07"/>
<path d="M138.8,1304.1 C138.8,1340.2 193.0,1340.2 193.0,1376.4 L197.7,1376.4 C197.7,1340.2 145.7,1340.2 145.7,1304.1Z" fill="#e1e4e4" fill-opacity="0.11"/>
<path d="M147.6,1304.1 C147.6,1340.2 200.6,1340.2 200.6,1376.4 L203.5,1376.4 C203.5,1340.2 151.8,1340.2 151.8,1304.1Z" fill="#e1e4e4" fill-opacity="0.24"/>
<path d="M153.3,1304.1 C153.3,1340.2 204.6,1340.2 204.6,1376.4 L208.2,1376.4 C208.2,1340.2 158.6,1340.2 158.6,1304.1Z" fill="#e1e4e4" fill-opacity="0.14"/>
<path d="M159.6,1304.1 C159.6,1340.2 208.8,1340.2 208.8,1376.4 L210.7,1376.4 C210.7,1340.2 162.4,1340.2 162.4,1304.1Z" fill="#e1e4e4" fill-opacity="0.29"/>
<path d="M163.6,1304.1 C163.6,1340.2 214.3,1340.2 214.3,1376.4 L220.0,1376.4 C220.0,1340.2 172.2,1340.2 172.2,1304.1Z" fill="#e1e4e4" fill-opacity="0.22"/>
<path d="M172.8,1304.1 C172.8,1340.2 219.5,1340.2 219.5,1376.4 L224.8,1376.4 C224.8,1340.2 180.7,1340.2 180.7,1304.1Z" fill="#e1e4e4" fill-opacity="0.17"/>
<path d="M181.9,1304.1 C181.9,1340.2 226.5,1340.2 226.5,1376.4 L233.1,1376.4 C233.1,1340.2 191.7,1340.2 191.7,1304.1Z" fill="#e1e4e4" fill-opacity="0.07"/>
<path d="M192.3,1304.1 C192.3,1340.2 233.2,1340.2 233.2,1376.4 L239.9,1376.4 C239.9,1340.2 202.3,1340.2 202.3,1304.1Z" fill="#e1e4e4" fill-opacity="0.16"/>
<path d="M203.5,1304.1 C203.5,1340.2 239.6,1340.2 239.6,1376.4 L242.2,1376.4 C242.2,1340.2 207.3,1340.2 207.3,1304.1Z" fill="#e1e4e4" fill-opacity="0.1"/>
<path d="M208.0,1304.1 C208.0,1340.2 245.6,1340.2 245.6,1376.4 L248.9,1376.4 C248.9,1340.2 212.9,1340.2 212.9,1304.1Z" fill="#e1e4e4" fill-opacity="0.22"/>
<path d="M213.6,1304.1 C213.6,1340.2 248.5,1340.2 248.5,1376.4 L251.7,1376.4 C251.7,1340.2 218.2,1340.2 218.2,1304.1Z" fill="#e1e4e4" fill-opacity="0.15"/>
<path d="M219.8,1304.1 C219.8,1340.2 246.1,1340.2 246.1,1376.4 L250.9,1376.4 C250.9,1340.2 227.0,1340.2 227.0,1304.1Z" fill="#e1e4e4" fill-opacity="0.1"/>
<path d="M227.8,1304.1 C227.8,1340.2 254.1,1340.2 254.1,1376.4 L258.3,1376.4 C258.3,1340.2 234.0,1340.2 234.0,1304.1Z" fill="#e1e4e4" fill-opacity="0.09"/>
<path d="M235.0,1304.1 C235.0,1340.2 264.0,1340.2 264.0,1376.4 L267.3,1376.4 C267.3,1340.2 239.9,1340.2 239.9,1304.1Z" fill="#e1e4e4" fill-opacity="0.09"/>
<path d="M241.6,1304.1 C241.6,1340.2 267.2,1340.2 267.2,1376.4 L271.4,1376.4 C271.4,1340.2 247.9,1340.2 247.9,1304.1Z" fill="#e1e4e4" fill-opacity="0.17"/>
<path d="M249.3,1304.1 C249.3,1340.2 271.4,1340.2 271.4,1376.4 L277.5,1376.4 C277.5,1340.2 258.4,1340.2 258.4,1304.1Z" fill="#e1e4e4" fill-opacity="0.17"/>
<path d="M259.8,1304.1 C259.8,1340.2 280.3,1340.2 280.3,1376.4 L286.7,1376.4 C286.7,1340.2 269.2,1340.2 269.2,1304.1Z" fill="#e1e4e4" fill-opacity="0.23"/>
<path d="M270.3,1304.1 C270.3,1340.2 285.4,1340.2 285.4,1376.4 L289.5,1376.4 C289.5,1340.2 276.4,1340.2 276.4,1304.1Z" fill="#e1e4e4" fill-opacity="0.11"/>
<path d="M277.1,1304.1 C277.1,1340.2 286.2,1340.2 286.2,1376.4 L291.5,1376.4 C291.5,1340.2 285.0,1340.2 285.0,1304.1Z" fill="#e1e4e4" fill-opacity="0.26"/>
<path d="M287.1,1304.1 C287.1,1340.2 296.6,1340.2 296.6,1376.4 L299.1,1376.4 C299.1,1340.2 290.9,1340.2 290.9,1304.1Z" fill="#e1e4e4" fill-opacity="0.1"/>
<path d="M291.6,1304.1 C291.6,1340.2 300.9,1340.2 300.9,1376.4 L307.3,1376.4 C307.3,1340.2 301.1,1340.2 301.1,1304.1Z" fill="#e1e4e4" fill-opacity="0.11"/>
<path d="M303.1,1304.1 C303.1,1340.2 302.4,1340.2 302.4,1376.4 L305.6,1376.4 C305.6,1340.2 307.9,1340.2 307.9,1304.1Z" fill="#e1e4e4" fill-opacity="0.86"/>
<path d="M309.0,1304.1 C309.0,1340.2 308.5,1340.2 308.5,1376.4 L310.4,1376.4 C310.4,1340.2 311.9,1340.2 311.9,1304.1Z" fill="#e1e4e4" fill-opacity="0.7"/>
<path d="M313.7,1304.1 C313.7,1340.2 312.3,1340.2 312.3,1376.4 L317.1,1376.4 C317.1,1340.2 320.8,1340.2 320.8,1304.1Z" fill="#e1e4e4" fill-opacity="0.6"/>
<path d="M322.4,1304.1 C322.4,1340.2 318.9,1340.2 318.9,1376.4 L322.8,1376.4 C322.8,1340.2 328.3,1340.2 328.3,1304.1Z" fill="#e1e4e4" fill-opacity="0.67"/>
<path d="M329.4,1304.1 C329.4,1340.2 322.2,1340.2 322.2,1376.4 L329.1,1376.4 C329.1,1340.2 339.8,1340.2 339.8,1304.1Z" fill="#e1e4e4" fill-opacity="0.79"/>
<path d="M340.8,1304.1 C340.8,1340.2 332.1,1340.2 332.1,1376.4 L335.1,1376.4 C335.1,1340.2 345.3,1340.2 345.3,1304.1Z" fill="#e1e4e4" fill-opacity="0.64"/>
<path d="M346.8,1304.1 C346.8,1340.2 334.6,1340.2 334.6,1376.4 L341.2,1376.4 C341.2,1340.2 356.7,1340.2 356.7,1304.1Z" fill="#e1e4e4" fill-opacity="0.93"/>
<path d="M357.2,1304.1 C357.2,1340.2 342.4,1340.2 342.4,1376.4 L348.3,1376.4 C348.3,1340.2 365.9,1340.2 365.9,1304.1Z" fill="#e1e4e4" fill-opacity="0.7"/>
<path d="M367.6,1304.1 C367.6,1340.2 349.7,1340.2 349.7,1376.4 L354.9,1376.4 C354.9,1340.2 375.4,1340.2 375.4,1304.1Z" fill="#e1e4e4" fill-opacity="0.69"/>
<path d="M377.1,1304.1 C377.1,1340.2 354.1,1340.2 354.1,1376.4 L361.1,1376.4 C361.1,1340.2 387.5,1340.2 387.5,1304.1Z" fill="#e1e4e4" fill-opacity="0.79"/>
<path d="M389.0,1304.1 C389.0,1340.2 363.8,1340.2 363.8,1376.4 L368.1,1376.4 C368.1,1340.2 395.4,1340.2 395.4,1304.1Z" fill="#e1e4e4" fill-opacity="0.85"/>
<path d="M396.4,1304.1 C396.4,1340.2 368.6,1340.2 368.6,1376.4 L373.3,1376.4 C373.3,1340.2 403.3,1340.2 403.3,1304.1Z" fill="#e1e4e4" fill-opacity="0.83"/>
<path d="M404.0,1304.1 C404.0,1340.2 372.1,1340.2 372.1,1376.4 L374.6,1376.4 C374.6,1340.2 407.6,1340.2 407.6,1304.1Z" fill="#e1e4e4" fill-opacity="0.83"/>
<path d="M409.6,1304.1 C409.6,1340.2 377.7,1340.2 377.7,1376.4 L384.5,1376.4 C384.5,1340.2 419.7,1340.2 419.7,1304.1Z" fill="#e1e4e4" fill-opacity="0.72"/>
<path d="M420.2,1304.1 C420.2,1340.2 384.1,1340.2 384.1,1376.4 L388.9,1376.4 C388.9,1340.2 427.5,1340.2 427.5,1304.1Z" fill="#e1e4e4" fill-opacity="0.83"/>
<path d="M428.8,1304.1 C428.8,1340.2 390.6,1340.2 390.6,1376.4 L393.8,1376.4 C393.8,1340.2 433.6,1340.2 433.6,1304.1Z" fill="#e1e4e4" fill-opacity="0.62"/>
<path d="M434.2,1304.1 C434.2,1340.2 393.1,1340.2 393.1,1376.4 L398.9,1376.4 C398.9,1340.2 442.8,1340.2 442.8,1304.1Z" fill="#e1e4e4" fill-opacity="0.86"/>
<path d="M444.1,1304.1 C444.1,1340.2 398.8,1340.2 398.8,1376.4 L401.8,1376.4 C401.8,1340.2 448.5,1340.2 448.5,1304.1Z" fill="#e1e4e4" fill-opacity="0.91"/>
<path d="M449.5,1304.1 C449.5,1340.2 403.4,1340.2 403.4,1376.4 L407.7,1376.4 C407.7,1340.2 456.0,1340.2 456.0,1304.1Z" fill="#e1e4e4" fill-opacity="0.87"/>
<path d="M456.7,1304.1 C456.7,1340.2 409.4,1340.2 409.4,1376.4 L412.8,1376.4 C412.8,1340.2 461.7,1340.2 461.7,1304.1Z" fill="#e1e4e4" fill-opacity="0.79"/>
<path d="M462.7,1304.1 C462.7,1340.2 412.0,1340.2 412.0,1376.4 L415.4,1376.4 C415.4,1340.2 467.9,1340.2 467.9,1304.1Z" fill="#e1e4e4" fill-opacity="0.64"/>
<path d="M469.8,1304.1 C469.8,1340.2 418.0,1340.2 418.0,1376.4 L420.1,1376.4 C420.1,1340.2 472.8,1340.2 472.8,1304.1Z" fill="#e1e4e4" fill-opacity="0.87"/>
<path d="M473.2,1304.1 C473.2,1340.2 420.4,1340.2 420.4,1376.4 L422.9,1376.4 C422.9,1340.2 477.0,1340.2 477.0,1304.1Z" fill="#e1e4e4" fill-opacity="0.75"/>
<path d="M477.6,1304.1 C477.6,1340.2 421.5,1340.2 421.5,1376.4 L427.7,1376.4 C427.7,1340.2 486.7,1340.2 486.7,1304.1Z" fill="#e1e4e4" fill-opacity="0.81"/>
<path d="M488.4,1304.1 C488.4,1340.2 430.1,1340.2 430.1,1376.4 L433.8,1376.4 C433.8,1340.2 493.9,1340.2 493.9,1304.1Z" fill="#e1e4e4" fill-opacity="0.78"/>
<path d="M494.6,1304.1 C494.6,1340.2 432.6,1340.2 432.6,1376.4 L435.2,1376.4 C435.2,1340.2 498.4,1340.2 498.4,1304.1Z" fill="#e1e4e4" fill-opacity="0.87"/>
<path d="M499.2,1304.1 C499.2,1340.2 436.7,1340.2 436.7,1376.4 L442.8,1376.4 C442.8,1340.2 508.2,1340.2 508.2,1304.1Z" fill="#e1e4e4" fill-opacity="0.93"/>
<path d="M510.1,1304.1 C510.1,1340.2 445.9,1340.2 445.9,1376.4 L450.5,1376.4 C450.5,1340.2 517.0,1340.2 517.0,1304.1Z" fill="#e1e4e4" fill-opacity="0.82"/>
<path d="M518.4,1304.1 C518.4,1340.2 449.9,1340.2 449.9,1376.4 L455.3,1376.4 C455.3,1340.2 526.4,1340.2 526.4,1304.1Z" fill="#e1e4e4" fill-opacity="0.9"/>
<path d="M527.2,1304.1 C527.2,1340.2 456.7,1340.2 456.7,1376.4 L461.6,1376.4 C461.6,1340.2 534.5,1340.2 534.5,1304.1Z" fill="#e1e4e4" fill-opacity="0.6"/>
<path d="M536.2,1304.1 C536.2,1340.2 461.7,1340.2 461.7,1376.4 L467.0,1376.4 C467.0,1340.2 544.0,1340.2 544.0,1304.1Z" fill="#e1e4e4" fill-opacity="0.78"/>
<path d="M545.2,1304.1 C545.2,1340.2 467.9,1340.2 467.9,1376.4 L470.4,1376.4 C470.4,1340.2 549.0,1340.2 549.0,1304.1Z" fill="#e1e4e4" fill-opacity="0.61"/>
<path d="M550.2,1304.1 C550.2,1340.2 472.7,1340.2 472.7,1376.4 L477.8,1376.4 C477.8,1340.2 557.9,1340.2 557.9,1304.1Z" fill="#e1e4e4" fill-opacity="0.8"/>
<path d="M559.0,1304.1 C559.0,1340.2 477.5,1340.2 477.5,1376.4 L484.1,1376.4 C484.1,1340.2 568.8,1340.2 568.8,1304.1Z" fill="#e1e4e4" fill-opacity="0.88"/>
<path d="M569.3,1304.1 C569.3,1340.2 482.8,1340.2 482.8,1376.4 L484.5,1376.4 C484.5,1340.2 571.9,1340.2 571.9,1304.1Z" fill="#e1e4e4" fill-opacity="0.68"/>
<path d="M572.8,1304.1 C572.8,1340.2 487.6,1340.2 487.6,1376.4 L491.4,1376.4 C491.4,1340.2 578.6,1340.2 578.6,1304.1Z" fill="#e1e4e4" fill-opacity="0.71"/>
<path d="M77.3,1231.8 C77.3,1267.9 43.0,1267.9 43.0,1304.1 L310.8,1304.1 C310.8,1267.9 311.4,1267.9 311.4,1231.8Z" fill="#e1e4e4" fill-opacity="0.22"/>
<path d="M311.4,1231.8 C311.4,1267.9 310.8,1267.9 310.8,1304.1 L578.6,1304.1 C578.6,1267.9 545.5,1267.9 545.5,1231.8Z" fill="#e1e4e4" fill-opacity="0.5"/>
<path d="M69.8,1304.1 C69.8,1340.2 149.3,1340.2 149.3,1376.4 L292.9,1376.4 C292.9,1340.2 284.0,1340.2 284.0,1304.1Z" fill="#e1e4e4" fill-opacity="0.2"/>
<path d="M284.0,1304.1 C284.0,1340.2 292.9,1340.2 292.9,1376.4 L490.3,1376.4 C490.3,1340.2 578.6,1340.2 578.6,1304.1Z" fill="#e1e4e4" fill-opacity="0.5"/>
<line x1="77.30" y1="1231.80" x2="545.50" y2="1231.80" stroke="#8a8a8a" stroke-width="1.6"/><path d="M401.8,1227.6v8.4M542.5,1227.6v8.4M304.4,1227.6v8.4M374.9,1227.6v8.4M240.1,1227.6v8.4M461.2,1227.6v8.4M542.1,1227.6v8.4M513.5,1227.6v8.4M457.5,1227.6v8.4M328.0,1227.6v8.4M347.2,1227.6v8.4M186.0,1227.6v8.4M403.4,1227.6v8.4M280.4,1227.6v8.4M209.6,1227.6v8.4M541.0,1227.6v8.4M364.6,1227.6v8.4M281.8,1227.6v8.4M461.7,1227.6v8.4M199.6,1227.6v8.4M489.8,1227.6v8.4M185.2,1227.6v8.4M504.1,1227.6v8.4M439.8,1227.6v8.4M241.5,1227.6v8.4M195.8,1227.6v8.4M535.9,1227.6v8.4M388.3,1227.6v8.4M92.6,1227.6v8.4M411.5,1227.6v8.4M250.0,1227.6v8.4M221.1,1227.6v8.4M535.5,1227.6v8.4M480.7,1227.6v8.4M170.4,1227.6v8.4M172.4,1227.6v8.4M441.6,1227.6v8.4M164.3,1227.6v8.4M376.7,1227.6v8.4M481.6,1227.6v8.4M143.0,1227.6v8.4M443.3,1227.6v8.4" stroke="#4a6fb0" stroke-width="0.6" stroke-opacity="0.6" fill="none"/><path d="M183.2,1227.6v8.4M153.2,1227.6v8.4M308.3,1227.6v8.4M520.0,1227.6v8.4M191.0,1227.6v8.4M360.5,1227.6v8.4M427.2,1227.6v8.4M214.9,1227.6v8.4M493.6,1227.6v8.4M376.0,1227.6v8.4M92.9,1227.6v8.4M215.7,1227.6v8.4M485.4,1227.6v8.4M132.5,1227.6v8.4M335.9,1227.6v8.4M345.7,1227.6v8.4M419.2,1227.6v8.4M220.3,1227.6v8.4M405.1,1227.6v8.4M516.4,1227.6v8.4M498.4,1227.6v8.4M463.9,1227.6v8.4M150.7,1227.6v8.4M279.6,1227.6v8.4M446.4,1227.6v8.4M173.4,1227.6v8.4M534.8,1227.6v8.4M543.3,1227.6v8.4M205.8,1227.6v8.4M281.3,1227.6v8.4M458.1,1227.6v8.4M238.9,1227.6v8.4M385.5,1227.6v8.4M216.7,1227.6v8.4M79.5,1227.6v8.4M238.6,1227.6v8.4M240.6,1227.6v8.4M489.2,1227.6v8.4M382.3,1227.6v8.4M200.5,1227.6v8.4M530.4,1227.6v8.4M311.4,1227.6v8.4M455.8,1227.6v8.4M396.1,1227.6v8.4M288.3,1227.6v8.4" stroke="#4a6fb0" stroke-width="0.8" stroke-opacity="0.6" fill="none"/><path d="M303.0,1227.6v8.4M417.2,1227.6v8.4M242.0,1227.6v8.4M165.2,1227.6v8.4M513.1,1227.6v8.4M466.0,1227.6v8.4M257.6,1227.6v8.4M350.6,1227.6v8.4M170.7,1227.6v8.4M109.9,1227.6v8.4M488.5,1227.6v8.4M497.0,1227.6v8.4M239.7,1227.6v8.4M350.1,1227.6v8.4M229.7,1227.6v8.4M526.1,1227.6v8.4M388.9,1227.6v8.4M234.3,1227.6v8.4M541.3,1227.6v8.4M158.6,1227.6v8.4M189.1,1227.6v8.4M311.4,1227.6v8.4M282.9,1227.6v8.4M499.7,1227.6v8.4M372.0,1227.6v8.4M174.7,1227.6v8.4M191.4,1227.6v8.4M127.7,1227.6v8.4M317.9,1227.6v8.4M185.8,1227.6v8.4M288.7,1227.6v8.4M231.5,1227.6v8.4M84.1,1227.6v8.4M390.0,1227.6v8.4M188.1,1227.6v8.4M460.3,1227.6v8.4M392.7,1227.6v8.4M306.2,1227.6v8.4M96.8,1227.6v8.4M364.6,1227.6v8.4M475.3,1227.6v8.4M424.3,1227.6v8.4M437.2,1227.6v8.4M90.1,1227.6v8.4M120.3,1227.6v8.4M489.7,1227.6v8.4M95.7,1227.6v8.4M196.2,1227.6v8.4M221.5,1227.6v8.4" stroke="#4a6fb0" stroke-width="1.0" stroke-opacity="0.6" fill="none"/><path d="M299.0,1227.6v8.4M190.4,1227.6v8.4M226.5,1227.6v8.4M515.7,1227.6v8.4M473.8,1227.6v8.4M250.0,1227.6v8.4M533.9,1227.6v8.4M157.6,1227.6v8.4M271.2,1227.6v8.4M379.6,1227.6v8.4M146.7,1227.6v8.4M317.9,1227.6v8.4M357.3,1227.6v8.4M298.7,1227.6v8.4M164.6,1227.6v8.4M362.2,1227.6v8.4M431.2,1227.6v8.4M128.9,1227.6v8.4M263.7,1227.6v8.4M427.7,1227.6v8.4M82.6,1227.6v8.4M179.0,1227.6v8.4M213.9,1227.6v8.4M450.7,1227.6v8.4M113.2,1227.6v8.4M88.7,1227.6v8.4M367.8,1227.6v8.4M189.5,1227.6v8.4M542.6,1227.6v8.4M124.8,1227.6v8.4M534.0,1227.6v8.4M334.3,1227.6v8.4M466.0,1227.6v8.4M361.3,1227.6v8.4M542.7,1227.6v8.4M283.9,1227.6v8.4M473.3,1227.6v8.4M369.5,1227.6v8.4M442.8,1227.6v8.4M348.9,1227.6v8.4M348.3,1227.6v8.4M268.3,1227.6v8.4M529.0,1227.6v8.4M489.5,1227.6v8.4M416.9,1227.6v8.4M502.7,1227.6v8.4M280.2,1227.6v8.4M399.2,1227.6v8.4M399.0,1227.6v8.4M391.0,1227.6v8.4M487.6,1227.6v8.4M217.2,1227.6v8.4M154.7,1227.6v8.4M411.5,1227.6v8.4" stroke="#4a6fb0" stroke-width="1.2" stroke-opacity="0.6" fill="none"/><path d="M282.8,1227.6v8.4M236.4,1227.6v8.4M171.8,1227.6v8.4M240.0,1227.6v8.4M188.9,1227.6v8.4M501.0,1227.6v8.4M280.0,1227.6v8.4M414.9,1227.6v8.4M335.5,1227.6v8.4M327.5,1227.6v8.4M409.5,1227.6v8.4M264.5,1227.6v8.4M181.4,1227.6v8.4M302.1,1227.6v8.4M173.0,1227.6v8.4M340.4,1227.6v8.4M249.3,1227.6v8.4M451.5,1227.6v8.4M290.2,1227.6v8.4M247.2,1227.6v8.4M241.1,1227.6v8.4M478.3,1227.6v8.4M472.6,1227.6v8.4M335.9,1227.6v8.4M106.2,1227.6v8.4M122.1,1227.6v8.4M150.7,1227.6v8.4M461.0,1227.6v8.4M514.1,1227.6v8.4M91.7,1227.6v8.4M114.8,1227.6v8.4M450.9,1227.6v8.4M411.1,1227.6v8.4M151.4,1227.6v8.4M394.3,1227.6v8.4" stroke="#4aa564" stroke-width="0.6" stroke-opacity="0.6" fill="none"/><path d="M479.2,1227.6v8.4M199.4,1227.6v8.4M123.1,1227.6v8.4M120.0,1227.6v8.4M131.3,1227.6v8.4M129.9,1227.6v8.4M195.8,1227.6v8.4M515.7,1227.6v8.4M288.2,1227.6v8.4M169.9,1227.6v8.4M226.1,1227.6v8.4M160.4,1227.6v8.4M542.1,1227.6v8.4M419.2,1227.6v8.4M139.6,1227.6v8.4M315.8,1227.6v8.4M211.4,1227.6v8.4M470.3,1227.6v8.4M357.1,1227.6v8.4M275.5,1227.6v8.4M504.1,1227.6v8.4M330.5,1227.6v8.4M207.6,1227.6v8.4M91.6,1227.6v8.4M226.4,1227.6v8.4M532.3,1227.6v8.4M119.1,1227.6v8.4M446.6,1227.6v8.4M214.3,1227.6v8.4M282.6,1227.6v8.4M214.7,1227.6v8.4M442.7,1227.6v8.4M173.3,1227.6v8.4M394.4,1227.6v8.4M399.3,1227.6v8.4M224.1,1227.6v8.4M476.5,1227.6v8.4M189.0,1227.6v8.4" stroke="#4aa564" stroke-width="0.8" stroke-opacity="0.6" fill="none"/><path d="M176.0,1227.6v8.4M413.4,1227.6v8.4M454.1,1227.6v8.4M534.8,1227.6v8.4M93.3,1227.6v8.4M237.1,1227.6v8.4M329.6,1227.6v8.4M145.7,1227.6v8.4M174.7,1227.6v8.4M517.0,1227.6v8.4M211.7,1227.6v8.4M305.6,1227.6v8.4M520.2,1227.6v8.4M95.8,1227.6v8.4M343.4,1227.6v8.4M212.4,1227.6v8.4M176.4,1227.6v8.4M300.0,1227.6v8.4M173.2,1227.6v8.4M367.1,1227.6v8.4M183.0,1227.6v8.4M370.9,1227.6v8.4M480.0,1227.6v8.4M330.7,1227.6v8.4M508.1,1227.6v8.4M519.3,1227.6v8.4M280.8,1227.6v8.4M99.1,1227.6v8.4M533.3,1227.6v8.4M319.9,1227.6v8.4M261.4,1227.6v8.4M321.4,1227.6v8.4M509.2,1227.6v8.4M229.2,1227.6v8.4M197.8,1227.6v8.4M326.9,1227.6v8.4M421.4,1227.6v8.4M230.8,1227.6v8.4M80.0,1227.6v8.4M350.8,1227.6v8.4M99.0,1227.6v8.4M251.0,1227.6v8.4M380.4,1227.6v8.4M462.6,1227.6v8.4M211.9,1227.6v8.4M322.2,1227.6v8.4M353.2,1227.6v8.4M88.9,1227.6v8.4" stroke="#4aa564" stroke-width="1.0" stroke-opacity="0.6" fill="none"/><path d="M406.9,1227.6v8.4M90.1,1227.6v8.4M287.1,1227.6v8.4M361.8,1227.6v8.4M266.4,1227.6v8.4M508.0,1227.6v8.4M282.8,1227.6v8.4M440.4,1227.6v8.4M425.2,1227.6v8.4M280.0,1227.6v8.4M391.2,1227.6v8.4M268.8,1227.6v8.4M279.5,1227.6v8.4M399.6,1227.6v8.4M210.4,1227.6v8.4M489.6,1227.6v8.4M92.3,1227.6v8.4M463.0,1227.6v8.4M187.1,1227.6v8.4M429.7,1227.6v8.4M189.2,1227.6v8.4M203.9,1227.6v8.4M497.0,1227.6v8.4M216.4,1227.6v8.4M370.5,1227.6v8.4M392.7,1227.6v8.4M309.5,1227.6v8.4M339.5,1227.6v8.4M424.5,1227.6v8.4M359.9,1227.6v8.4M363.8,1227.6v8.4M88.6,1227.6v8.4M472.1,1227.6v8.4M512.8,1227.6v8.4M355.1,1227.6v8.4M366.0,1227.6v8.4M531.9,1227.6v8.4M466.1,1227.6v8.4M112.3,1227.6v8.4M124.7,1227.6v8.4M354.0,1227.6v8.4M317.5,1227.6v8.4M362.5,1227.6v8.4M98.8,1227.6v8.4M363.6,1227.6v8.4" stroke="#4aa564" stroke-width="1.2" stroke-opacity="0.6" fill="none"/><path d="M477.7,1227.6v8.4M94.5,1227.6v8.4M155.8,1227.6v8.4M529.2,1227.6v8.4M127.9,1227.6v8.4M88.2,1227.6v8.4M227.9,1227.6v8.4M296.3,1227.6v8.4M462.5,1227.6v8.4M275.6,1227.6v8.4M297.2,1227.6v8.4M215.9,1227.6v8.4M539.8,1227.6v8.4M93.5,1227.6v8.4M126.9,1227.6v8.4M516.6,1227.6v8.4M203.6,1227.6v8.4M242.9,1227.6v8.4M139.8,1227.6v8.4M284.2,1227.6v8.4M103.4,1227.6v8.4M134.6,1227.6v8.4M534.4,1227.6v8.4M201.5,1227.6v8.4M267.7,1227.6v8.4M317.2,1227.6v8.4M295.3,1227.6v8.4M377.4,1227.6v8.4M499.5,1227.6v8.4M165.7,1227.6v8.4M115.6,1227.6v8.4M486.4,1227.6v8.4M485.6,1227.6v8.4M435.0,1227.6v8.4M478.5,1227.6v8.4M409.2,1227.6v8.4M511.8,1227.6v8.4M487.4,1227.6v8.4M287.6,1227.6v8.4M208.2,1227.6v8.4M174.1,1227.6v8.4M150.4,1227.6v8.4" stroke="#7d97bd" stroke-width="0.6" stroke-opacity="0.6" fill="none"/><path d="M476.4,1227.6v8.4M350.6,1227.6v8.4M445.4,1227.6v8.4M85.9,1227.6v8.4M251.5,1227.6v8.4M289.4,1227.6v8.4M146.2,1227.6v8.4M223.7,1227.6v8.4M230.6,1227.6v8.4M164.0,1227.6v8.4M498.4,1227.6v8.4M436.1,1227.6v8.4M477.5,1227.6v8.4M193.3,1227.6v8.4M306.8,1227.6v8.4M236.6,1227.6v8.4M301.1,1227.6v8.4M195.3,1227.6v8.4M344.5,1227.6v8.4M389.7,1227.6v8.4M386.8,1227.6v8.4M509.4,1227.6v8.4M132.1,1227.6v8.4M357.8,1227.6v8.4M106.4,1227.6v8.4M316.3,1227.6v8.4M440.0,1227.6v8.4M84.6,1227.6v8.4M344.3,1227.6v8.4" stroke="#7d97bd" stroke-width="0.8" stroke-opacity="0.6" fill="none"/><path d="M411.6,1227.6v8.4M306.1,1227.6v8.4M467.2,1227.6v8.4M313.7,1227.6v8.4M508.2,1227.6v8.4M423.8,1227.6v8.4M463.5,1227.6v8.4M362.7,1227.6v8.4M298.7,1227.6v8.4M539.6,1227.6v8.4M229.3,1227.6v8.4M374.9,1227.6v8.4M273.1,1227.6v8.4M218.8,1227.6v8.4M327.4,1227.6v8.4M351.4,1227.6v8.4M179.3,1227.6v8.4M308.0,1227.6v8.4M405.2,1227.6v8.4M350.5,1227.6v8.4M500.8,1227.6v8.4M446.4,1227.6v8.4M472.9,1227.6v8.4M198.6,1227.6v8.4M304.3,1227.6v8.4M148.7,1227.6v8.4M513.6,1227.6v8.4M170.5,1227.6v8.4M444.5,1227.6v8.4M428.9,1227.6v8.4M334.6,1227.6v8.4M80.1,1227.6v8.4M493.3,1227.6v8.4M209.5,1227.6v8.4M320.9,1227.6v8.4M510.1,1227.6v8.4M82.8,1227.6v8.4M524.7,1227.6v8.4M164.6,1227.6v8.4M510.4,1227.6v8.4M348.2,1227.6v8.4M468.0,1227.6v8.4M184.3,1227.6v8.4M229.5,1227.6v8.4M228.1,1227.6v8.4M294.5,1227.6v8.4M217.8,1227.6v8.4" stroke="#7d97bd" stroke-width="1.0" stroke-opacity="0.6" fill="none"/><path d="M220.8,1227.6v8.4M333.3,1227.6v8.4M160.4,1227.6v8.4M181.5,1227.6v8.4M266.3,1227.6v8.4M485.3,1227.6v8.4M511.6,1227.6v8.4M521.9,1227.6v8.4M296.3,1227.6v8.4M251.7,1227.6v8.4M109.1,1227.6v8.4M284.6,1227.6v8.4M122.3,1227.6v8.4M537.2,1227.6v8.4M173.8,1227.6v8.4M286.8,1227.6v8.4M134.9,1227.6v8.4M239.9,1227.6v8.4M313.3,1227.6v8.4M408.0,1227.6v8.4M111.8,1227.6v8.4M376.4,1227.6v8.4M451.8,1227.6v8.4M248.1,1227.6v8.4M301.2,1227.6v8.4M310.4,1227.6v8.4M341.3,1227.6v8.4M376.8,1227.6v8.4M543.0,1227.6v8.4M180.0,1227.6v8.4M285.9,1227.6v8.4M478.2,1227.6v8.4M278.3,1227.6v8.4M169.8,1227.6v8.4M220.0,1227.6v8.4M384.3,1227.6v8.4M436.3,1227.6v8.4M393.2,1227.6v8.4M84.9,1227.6v8.4M483.7,1227.6v8.4M244.3,1227.6v8.4M157.7,1227.6v8.4M189.1,1227.6v8.4M403.1,1227.6v8.4M282.6,1227.6v8.4M465.6,1227.6v8.4M297.6,1227.6v8.4M398.2,1227.6v8.4M333.0,1227.6v8.4M319.7,1227.6v8.4M191.3,1227.6v8.4M252.2,1227.6v8.4M468.2,1227.6v8.4" stroke="#7d97bd" stroke-width="1.2" stroke-opacity="0.6" fill="none"/><path d="M165.1,1227.6v8.4M159.0,1227.6v8.4M487.1,1227.6v8.4M169.7,1227.6v8.4M98.5,1227.6v8.4M357.0,1227.6v8.4M426.3,1227.6v8.4M359.4,1227.6v8.4M372.3,1227.6v8.4M193.9,1227.6v8.4M254.4,1227.6v8.4M428.9,1227.6v8.4M129.9,1227.6v8.4M163.0,1227.6v8.4M214.9,1227.6v8.4" stroke="#8fc3a0" stroke-width="0.6" stroke-opacity="0.6" fill="none"/><path d="M268.9,1227.6v8.4M239.5,1227.6v8.4M288.3,1227.6v8.4M502.9,1227.6v8.4M270.5,1227.6v8.4M104.6,1227.6v8.4M512.3,1227.6v8.4M218.9,1227.6v8.4M226.4,1227.6v8.4M269.3,1227.6v8.4M463.8,1227.6v8.4M82.8,1227.6v8.4M308.4,1227.6v8.4M126.5,1227.6v8.4M325.7,1227.6v8.4M338.6,1227.6v8.4M347.8,1227.6v8.4M411.4,1227.6v8.4M79.7,1227.6v8.4M208.4,1227.6v8.4M331.9,1227.6v8.4M431.2,1227.6v8.4M391.9,1227.6v8.4M287.6,1227.6v8.4M486.9,1227.6v8.4M448.3,1227.6v8.4" stroke="#8fc3a0" stroke-width="0.8" stroke-opacity="0.6" fill="none"/><path d="M288.1,1227.6v8.4M377.2,1227.6v8.4M532.5,1227.6v8.4M246.3,1227.6v8.4M491.0,1227.6v8.4M244.0,1227.6v8.4M315.5,1227.6v8.4M290.5,1227.6v8.4M127.5,1227.6v8.4M323.1,1227.6v8.4M405.4,1227.6v8.4M479.5,1227.6v8.4M109.2,1227.6v8.4M324.4,1227.6v8.4M507.8,1227.6v8.4M307.4,1227.6v8.4M476.0,1227.6v8.4M90.8,1227.6v8.4M468.8,1227.6v8.4M138.9,1227.6v8.4M325.2,1227.6v8.4M122.9,1227.6v8.4M241.6,1227.6v8.4M177.1,1227.6v8.4M118.0,1227.6v8.4M225.3,1227.6v8.4M134.8,1227.6v8.4M326.9,1227.6v8.4M115.7,1227.6v8.4" stroke="#8fc3a0" stroke-width="1.0" stroke-opacity="0.6" fill="none"/><path d="M172.5,1227.6v8.4M314.7,1227.6v8.4M304.1,1227.6v8.4M80.2,1227.6v8.4M377.8,1227.6v8.4M495.1,1227.6v8.4M382.8,1227.6v8.4M325.7,1227.6v8.4M483.1,1227.6v8.4M106.9,1227.6v8.4M105.3,1227.6v8.4M182.3,1227.6v8.4M259.6,1227.6v8.4M248.5,1227.6v8.4M179.4,1227.6v8.4M275.1,1227.6v8.4M250.8,1227.6v8.4M398.1,1227.6v8.4M534.1,1227.6v8.4M378.9,1227.6v8.4M175.5,1227.6v8.4M372.4,1227.6v8.4M254.2,1227.6v8.4" stroke="#8fc3a0" stroke-width="1.2" stroke-opacity="0.6" fill="none"/>
<line x1="43.00" y1="1304.10" x2="578.60" y2="1304.10" stroke="#8a8a8a" stroke-width="1.6"/><path d="M512.8,1299.9v8.4M256.3,1299.9v8.4M225.3,1299.9v8.4M469.3,1299.9v8.4M112.3,1299.9v8.4M484.0,1299.9v8.4M326.6,1299.9v8.4M332.2,1299.9v8.4M250.1,1299.9v8.4M89.1,1299.9v8.4M240.9,1299.9v8.4M245.1,1299.9v8.4M238.5,1299.9v8.4M207.2,1299.9v8.4M560.9,1299.9v8.4M145.7,1299.9v8.4M396.3,1299.9v8.4M457.6,1299.9v8.4M275.7,1299.9v8.4M474.5,1299.9v8.4M308.6,1299.9v8.4M156.3,1299.9v8.4M443.6,1299.9v8.4M479.5,1299.9v8.4M411.4,1299.9v8.4M559.4,1299.9v8.4M532.4,1299.9v8.4M562.3,1299.9v8.4M506.7,1299.9v8.4M275.9,1299.9v8.4M357.2,1299.9v8.4M286.0,1299.9v8.4M483.0,1299.9v8.4M332.5,1299.9v8.4M221.4,1299.9v8.4M232.7,1299.9v8.4M123.9,1299.9v8.4M459.1,1299.9v8.4M142.4,1299.9v8.4M558.3,1299.9v8.4M225.1,1299.9v8.4M491.9,1299.9v8.4M318.7,1299.9v8.4M68.5,1299.9v8.4M468.5,1299.9v8.4M256.3,1299.9v8.4" stroke="#4a6fb0" stroke-width="0.6" stroke-opacity="0.6" fill="none"/><path d="M399.2,1299.9v8.4M176.4,1299.9v8.4M231.6,1299.9v8.4M257.7,1299.9v8.4M464.2,1299.9v8.4M162.8,1299.9v8.4M318.6,1299.9v8.4M142.6,1299.9v8.4M228.5,1299.9v8.4M50.0,1299.9v8.4M315.0,1299.9v8.4M190.5,1299.9v8.4M431.8,1299.9v8.4M536.0,1299.9v8.4M259.7,1299.9v8.4M134.0,1299.9v8.4M497.4,1299.9v8.4M207.8,1299.9v8.4M408.4,1299.9v8.4M575.5,1299.9v8.4M202.4,1299.9v8.4M107.8,1299.9v8.4M315.6,1299.9v8.4M341.8,1299.9v8.4M278.4,1299.9v8.4M361.7,1299.9v8.4M239.7,1299.9v8.4M206.1,1299.9v8.4M487.9,1299.9v8.4M237.0,1299.9v8.4M317.0,1299.9v8.4M411.8,1299.9v8.4M415.2,1299.9v8.4M419.0,1299.9v8.4M416.5,1299.9v8.4M71.2,1299.9v8.4M498.9,1299.9v8.4M347.4,1299.9v8.4M529.2,1299.9v8.4M184.4,1299.9v8.4M346.0,1299.9v8.4M514.4,1299.9v8.4M233.8,1299.9v8.4M375.4,1299.9v8.4M414.5,1299.9v8.4M93.8,1299.9v8.4M334.5,1299.9v8.4M201.5,1299.9v8.4M437.5,1299.9v8.4M261.5,1299.9v8.4M200.8,1299.9v8.4M62.3,1299.9v8.4" stroke="#4a6fb0" stroke-width="0.8" stroke-opacity="0.6" fill="none"/><path d="M387.5,1299.9v8.4M165.4,1299.9v8.4M46.6,1299.9v8.4M408.6,1299.9v8.4M283.0,1299.9v8.4M192.3,1299.9v8.4M206.7,1299.9v8.4M502.0,1299.9v8.4M362.7,1299.9v8.4M477.8,1299.9v8.4M483.2,1299.9v8.4M416.8,1299.9v8.4M532.3,1299.9v8.4M474.7,1299.9v8.4M413.8,1299.9v8.4M487.5,1299.9v8.4M210.3,1299.9v8.4M290.8,1299.9v8.4M257.2,1299.9v8.4M208.0,1299.9v8.4M234.2,1299.9v8.4M263.4,1299.9v8.4M230.5,1299.9v8.4M69.6,1299.9v8.4M395.3,1299.9v8.4M490.5,1299.9v8.4M213.7,1299.9v8.4M271.1,1299.9v8.4M327.9,1299.9v8.4M219.2,1299.9v8.4M180.5,1299.9v8.4M123.1,1299.9v8.4M514.2,1299.9v8.4M327.0,1299.9v8.4M460.1,1299.9v8.4M214.6,1299.9v8.4M50.5,1299.9v8.4M77.2,1299.9v8.4M495.1,1299.9v8.4M148.6,1299.9v8.4M95.7,1299.9v8.4M344.6,1299.9v8.4M385.9,1299.9v8.4" stroke="#4a6fb0" stroke-width="1.0" stroke-opacity="0.6" fill="none"/><path d="M464.6,1299.9v8.4M527.4,1299.9v8.4M522.5,1299.9v8.4M417.2,1299.9v8.4M127.0,1299.9v8.4M384.3,1299.9v8.4M48.7,1299.9v8.4M97.0,1299.9v8.4M199.5,1299.9v8.4M576.6,1299.9v8.4M66.1,1299.9v8.4M254.0,1299.9v8.4M206.5,1299.9v8.4M230.7,1299.9v8.4M138.3,1299.9v8.4M365.7,1299.9v8.4M400.2,1299.9v8.4M222.4,1299.9v8.4M182.4,1299.9v8.4M79.5,1299.9v8.4M553.9,1299.9v8.4M164.7,1299.9v8.4M552.2,1299.9v8.4M498.7,1299.9v8.4M108.7,1299.9v8.4M138.5,1299.9v8.4M143.8,1299.9v8.4M284.2,1299.9v8.4M291.5,1299.9v8.4M73.3,1299.9v8.4M551.1,1299.9v8.4M121.1,1299.9v8.4M330.4,1299.9v8.4M203.2,1299.9v8.4M392.8,1299.9v8.4M565.6,1299.9v8.4M304.5,1299.9v8.4M171.7,1299.9v8.4M547.4,1299.9v8.4M210.6,1299.9v8.4M154.3,1299.9v8.4M60.6,1299.9v8.4M277.0,1299.9v8.4M263.4,1299.9v8.4M499.6,1299.9v8.4M125.5,1299.9v8.4M465.4,1299.9v8.4M560.7,1299.9v8.4M260.1,1299.9v8.4M528.8,1299.9v8.4" stroke="#4a6fb0" stroke-width="1.2" stroke-opacity="0.6" fill="none"/><path d="M243.2,1299.9v8.4M464.5,1299.9v8.4M476.0,1299.9v8.4M108.0,1299.9v8.4M526.0,1299.9v8.4M447.2,1299.9v8.4M153.1,1299.9v8.4M489.7,1299.9v8.4M483.1,1299.9v8.4M486.3,1299.9v8.4M315.3,1299.9v8.4M93.1,1299.9v8.4M116.0,1299.9v8.4M242.7,1299.9v8.4M55.2,1299.9v8.4M425.7,1299.9v8.4M45.2,1299.9v8.4M61.3,1299.9v8.4M72.3,1299.9v8.4M135.0,1299.9v8.4M556.4,1299.9v8.4M304.9,1299.9v8.4M120.1,1299.9v8.4M92.3,1299.9v8.4M515.0,1299.9v8.4M558.8,1299.9v8.4M383.5,1299.9v8.4M333.6,1299.9v8.4M241.1,1299.9v8.4M122.0,1299.9v8.4M186.8,1299.9v8.4M166.2,1299.9v8.4M450.9,1299.9v8.4M123.8,1299.9v8.4M329.4,1299.9v8.4M169.1,1299.9v8.4M474.6,1299.9v8.4M265.5,1299.9v8.4M383.3,1299.9v8.4M113.5,1299.9v8.4M521.4,1299.9v8.4M543.4,1299.9v8.4M300.9,1299.9v8.4M151.3,1299.9v8.4M430.9,1299.9v8.4M235.0,1299.9v8.4M419.0,1299.9v8.4M501.6,1299.9v8.4M476.7,1299.9v8.4" stroke="#4aa564" stroke-width="0.6" stroke-opacity="0.6" fill="none"/><path d="M241.5,1299.9v8.4M497.6,1299.9v8.4M195.4,1299.9v8.4M182.5,1299.9v8.4M244.0,1299.9v8.4M61.6,1299.9v8.4M256.8,1299.9v8.4M384.4,1299.9v8.4M471.0,1299.9v8.4M499.4,1299.9v8.4M140.9,1299.9v8.4M554.0,1299.9v8.4M456.1,1299.9v8.4M167.1,1299.9v8.4M385.1,1299.9v8.4M468.7,1299.9v8.4M398.4,1299.9v8.4M451.2,1299.9v8.4M182.8,1299.9v8.4M174.9,1299.9v8.4M369.3,1299.9v8.4M344.1,1299.9v8.4M54.8,1299.9v8.4M475.0,1299.9v8.4M405.7,1299.9v8.4M181.8,1299.9v8.4M184.0,1299.9v8.4M284.9,1299.9v8.4M98.5,1299.9v8.4M326.8,1299.9v8.4M190.4,1299.9v8.4M252.7,1299.9v8.4M365.4,1299.9v8.4M373.9,1299.9v8.4M296.5,1299.9v8.4M428.5,1299.9v8.4M101.3,1299.9v8.4M85.5,1299.9v8.4M563.2,1299.9v8.4M132.5,1299.9v8.4M355.5,1299.9v8.4M74.5,1299.9v8.4M336.0,1299.9v8.4M570.0,1299.9v8.4M460.4,1299.9v8.4M550.6,1299.9v8.4" stroke="#4aa564" stroke-width="0.8" stroke-opacity="0.6" fill="none"/><path d="M377.6,1299.9v8.4M243.0,1299.9v8.4M165.1,1299.9v8.4M572.2,1299.9v8.4M304.4,1299.9v8.4M172.5,1299.9v8.4M172.7,1299.9v8.4M416.3,1299.9v8.4M358.5,1299.9v8.4M434.7,1299.9v8.4M234.7,1299.9v8.4M353.4,1299.9v8.4M379.0,1299.9v8.4M209.6,1299.9v8.4M459.5,1299.9v8.4M557.2,1299.9v8.4M305.6,1299.9v8.4M391.1,1299.9v8.4M465.3,1299.9v8.4M402.8,1299.9v8.4M86.5,1299.9v8.4M346.7,1299.9v8.4M166.5,1299.9v8.4M198.6,1299.9v8.4M65.7,1299.9v8.4M473.9,1299.9v8.4M383.3,1299.9v8.4M387.6,1299.9v8.4M144.5,1299.9v8.4M134.1,1299.9v8.4M345.0,1299.9v8.4M289.3,1299.9v8.4M51.1,1299.9v8.4M289.4,1299.9v8.4M363.9,1299.9v8.4M273.4,1299.9v8.4M530.9,1299.9v8.4M155.9,1299.9v8.4M249.3,1299.9v8.4M569.0,1299.9v8.4M513.9,1299.9v8.4M347.1,1299.9v8.4M221.9,1299.9v8.4M506.7,1299.9v8.4M115.7,1299.9v8.4M541.9,1299.9v8.4M201.1,1299.9v8.4M243.8,1299.9v8.4M455.2,1299.9v8.4M215.4,1299.9v8.4M145.0,1299.9v8.4M162.5,1299.9v8.4M456.1,1299.9v8.4M214.0,1299.9v8.4M279.1,1299.9v8.4M514.8,1299.9v8.4M437.2,1299.9v8.4M560.6,1299.9v8.4M512.6,1299.9v8.4M508.3,1299.9v8.4M517.2,1299.9v8.4M537.2,1299.9v8.4M200.3,1299.9v8.4M522.4,1299.9v8.4" stroke="#4aa564" stroke-width="1.0" stroke-opacity="0.6" fill="none"/><path d="M177.4,1299.9v8.4M412.4,1299.9v8.4M294.7,1299.9v8.4M330.7,1299.9v8.4M416.1,1299.9v8.4M416.7,1299.9v8.4M195.1,1299.9v8.4M266.5,1299.9v8.4M441.2,1299.9v8.4M202.5,1299.9v8.4M362.8,1299.9v8.4M147.3,1299.9v8.4M402.1,1299.9v8.4M539.4,1299.9v8.4M268.6,1299.9v8.4M505.6,1299.9v8.4M337.9,1299.9v8.4M499.4,1299.9v8.4M384.0,1299.9v8.4M443.0,1299.9v8.4M412.2,1299.9v8.4M467.3,1299.9v8.4M170.7,1299.9v8.4M241.0,1299.9v8.4M272.2,1299.9v8.4M78.4,1299.9v8.4M425.4,1299.9v8.4M222.3,1299.9v8.4M422.7,1299.9v8.4M482.5,1299.9v8.4M325.5,1299.9v8.4M460.7,1299.9v8.4M379.9,1299.9v8.4M400.2,1299.9v8.4M230.2,1299.9v8.4M413.5,1299.9v8.4M240.9,1299.9v8.4M495.3,1299.9v8.4M230.1,1299.9v8.4M214.9,1299.9v8.4M436.3,1299.9v8.4M371.3,1299.9v8.4M117.1,1299.9v8.4M501.4,1299.9v8.4M507.6,1299.9v8.4" stroke="#4aa564" stroke-width="1.2" stroke-opacity="0.6" fill="none"/><path d="M153.7,1299.9v8.4M276.3,1299.9v8.4M321.6,1299.9v8.4M137.1,1299.9v8.4M168.9,1299.9v8.4M494.5,1299.9v8.4M364.8,1299.9v8.4M211.3,1299.9v8.4M121.2,1299.9v8.4M240.8,1299.9v8.4M114.8,1299.9v8.4M541.5,1299.9v8.4M297.7,1299.9v8.4M476.0,1299.9v8.4M83.4,1299.9v8.4M346.8,1299.9v8.4M250.7,1299.9v8.4M517.5,1299.9v8.4M393.9,1299.9v8.4M549.6,1299.9v8.4M412.0,1299.9v8.4M130.9,1299.9v8.4M400.5,1299.9v8.4M546.8,1299.9v8.4M516.9,1299.9v8.4M221.0,1299.9v8.4M94.3,1299.9v8.4M486.4,1299.9v8.4M241.5,1299.9v8.4M111.7,1299.9v8.4M469.3,1299.9v8.4M488.0,1299.9v8.4M420.0,1299.9v8.4M467.5,1299.9v8.4M502.4,1299.9v8.4M208.3,1299.9v8.4M246.9,1299.9v8.4M55.9,1299.9v8.4M234.1,1299.9v8.4M174.2,1299.9v8.4M432.3,1299.9v8.4M344.6,1299.9v8.4M506.9,1299.9v8.4M492.5,1299.9v8.4M460.5,1299.9v8.4M355.7,1299.9v8.4" stroke="#7d97bd" stroke-width="0.6" stroke-opacity="0.6" fill="none"/><path d="M489.2,1299.9v8.4M205.7,1299.9v8.4M104.2,1299.9v8.4M178.8,1299.9v8.4M501.4,1299.9v8.4M316.5,1299.9v8.4M365.1,1299.9v8.4M361.4,1299.9v8.4M510.5,1299.9v8.4M410.1,1299.9v8.4M498.2,1299.9v8.4M239.5,1299.9v8.4M488.8,1299.9v8.4M111.2,1299.9v8.4M304.0,1299.9v8.4M572.9,1299.9v8.4M530.0,1299.9v8.4M447.9,1299.9v8.4M500.0,1299.9v8.4M286.9,1299.9v8.4M169.1,1299.9v8.4M244.5,1299.9v8.4M116.4,1299.9v8.4M308.6,1299.9v8.4M69.9,1299.9v8.4M124.7,1299.9v8.4M498.6,1299.9v8.4M515.1,1299.9v8.4M277.3,1299.9v8.4M463.4,1299.9v8.4M385.4,1299.9v8.4M59.7,1299.9v8.4M141.6,1299.9v8.4M301.5,1299.9v8.4M236.8,1299.9v8.4M560.0,1299.9v8.4M275.8,1299.9v8.4M347.5,1299.9v8.4M77.5,1299.9v8.4M562.1,1299.9v8.4M465.0,1299.9v8.4M403.8,1299.9v8.4M474.5,1299.9v8.4M57.1,1299.9v8.4M334.6,1299.9v8.4M456.9,1299.9v8.4M415.7,1299.9v8.4M491.8,1299.9v8.4M350.8,1299.9v8.4M83.6,1299.9v8.4M200.6,1299.9v8.4M471.2,1299.9v8.4M311.7,1299.9v8.4" stroke="#7d97bd" stroke-width="0.8" stroke-opacity="0.6" fill="none"/><path d="M385.4,1299.9v8.4M149.5,1299.9v8.4M423.0,1299.9v8.4M60.6,1299.9v8.4M92.4,1299.9v8.4M197.5,1299.9v8.4M357.3,1299.9v8.4M221.6,1299.9v8.4M109.2,1299.9v8.4M104.5,1299.9v8.4M497.2,1299.9v8.4M146.0,1299.9v8.4M308.7,1299.9v8.4M324.0,1299.9v8.4M85.0,1299.9v8.4M145.4,1299.9v8.4M361.8,1299.9v8.4M244.5,1299.9v8.4M231.8,1299.9v8.4M120.1,1299.9v8.4M548.5,1299.9v8.4M233.9,1299.9v8.4M67.4,1299.9v8.4M353.9,1299.9v8.4M243.6,1299.9v8.4M205.7,1299.9v8.4M444.6,1299.9v8.4M234.5,1299.9v8.4M515.3,1299.9v8.4M181.1,1299.9v8.4M346.7,1299.9v8.4M267.4,1299.9v8.4M274.0,1299.9v8.4M146.1,1299.9v8.4M165.3,1299.9v8.4M536.1,1299.9v8.4M61.2,1299.9v8.4M238.7,1299.9v8.4M350.6,1299.9v8.4M210.4,1299.9v8.4M495.0,1299.9v8.4M160.0,1299.9v8.4M543.7,1299.9v8.4M406.4,1299.9v8.4M473.3,1299.9v8.4M394.4,1299.9v8.4M302.1,1299.9v8.4M194.1,1299.9v8.4M523.9,1299.9v8.4M125.1,1299.9v8.4M179.4,1299.9v8.4" stroke="#7d97bd" stroke-width="1.0" stroke-opacity="0.6" fill="none"/><path d="M82.0,1299.9v8.4M190.3,1299.9v8.4M555.2,1299.9v8.4M356.1,1299.9v8.4M178.6,1299.9v8.4M340.4,1299.9v8.4M291.6,1299.9v8.4M243.7,1299.9v8.4M532.6,1299.9v8.4M574.8,1299.9v8.4M521.3,1299.9v8.4M480.9,1299.9v8.4M450.7,1299.9v8.4M245.0,1299.9v8.4M492.1,1299.9v8.4M451.2,1299.9v8.4M238.8,1299.9v8.4M102.6,1299.9v8.4M444.6,1299.9v8.4M532.9,1299.9v8.4M573.4,1299.9v8.4M154.2,1299.9v8.4M318.4,1299.9v8.4M434.4,1299.9v8.4M280.1,1299.9v8.4M478.6,1299.9v8.4M554.1,1299.9v8.4M232.4,1299.9v8.4M314.6,1299.9v8.4M117.7,1299.9v8.4M281.5,1299.9v8.4M60.3,1299.9v8.4M188.5,1299.9v8.4M61.0,1299.9v8.4M462.5,1299.9v8.4M234.9,1299.9v8.4M315.6,1299.9v8.4M437.4,1299.9v8.4M495.8,1299.9v8.4M181.3,1299.9v8.4M422.6,1299.9v8.4M512.7,1299.9v8.4M291.8,1299.9v8.4M331.4,1299.9v8.4" stroke="#7d97bd" stroke-width="1.2" stroke-opacity="0.6" fill="none"/><path d="M305.9,1299.9v8.4M49.1,1299.9v8.4M81.2,1299.9v8.4M346.7,1299.9v8.4M180.9,1299.9v8.4M47.3,1299.9v8.4M114.0,1299.9v8.4M342.6,1299.9v8.4M394.0,1299.9v8.4M418.6,1299.9v8.4M371.3,1299.9v8.4M158.1,1299.9v8.4M99.3,1299.9v8.4M295.7,1299.9v8.4M345.8,1299.9v8.4M356.9,1299.9v8.4M315.8,1299.9v8.4M269.1,1299.9v8.4M132.0,1299.9v8.4M540.5,1299.9v8.4M495.6,1299.9v8.4M482.3,1299.9v8.4M484.8,1299.9v8.4M296.8,1299.9v8.4M488.4,1299.9v8.4M161.6,1299.9v8.4M144.9,1299.9v8.4M502.2,1299.9v8.4M236.7,1299.9v8.4M198.6,1299.9v8.4" stroke="#8fc3a0" stroke-width="0.6" stroke-opacity="0.6" fill="none"/><path d="M90.0,1299.9v8.4M481.4,1299.9v8.4M418.8,1299.9v8.4M466.1,1299.9v8.4M85.3,1299.9v8.4M203.1,1299.9v8.4M244.6,1299.9v8.4M411.0,1299.9v8.4M56.8,1299.9v8.4M66.7,1299.9v8.4M412.5,1299.9v8.4M120.5,1299.9v8.4M514.4,1299.9v8.4M401.5,1299.9v8.4M266.0,1299.9v8.4M282.5,1299.9v8.4M175.7,1299.9v8.4M484.2,1299.9v8.4M201.1,1299.9v8.4M231.8,1299.9v8.4M335.8,1299.9v8.4M519.8,1299.9v8.4M367.9,1299.9v8.4M559.5,1299.9v8.4M206.9,1299.9v8.4M220.3,1299.9v8.4M545.1,1299.9v8.4M506.5,1299.9v8.4M235.9,1299.9v8.4M248.4,1299.9v8.4" stroke="#8fc3a0" stroke-width="0.8" stroke-opacity="0.6" fill="none"/><path d="M527.9,1299.9v8.4M247.8,1299.9v8.4M136.1,1299.9v8.4M221.7,1299.9v8.4M200.6,1299.9v8.4M90.7,1299.9v8.4M168.4,1299.9v8.4M97.6,1299.9v8.4M333.8,1299.9v8.4M251.7,1299.9v8.4M476.3,1299.9v8.4M69.8,1299.9v8.4M477.5,1299.9v8.4M425.5,1299.9v8.4M329.6,1299.9v8.4M166.1,1299.9v8.4M387.1,1299.9v8.4M494.7,1299.9v8.4M157.3,1299.9v8.4M60.0,1299.9v8.4M282.0,1299.9v8.4M108.5,1299.9v8.4M67.5,1299.9v8.4M217.8,1299.9v8.4M448.3,1299.9v8.4M52.3,1299.9v8.4M111.7,1299.9v8.4M206.4,1299.9v8.4M80.5,1299.9v8.4M271.8,1299.9v8.4" stroke="#8fc3a0" stroke-width="1.0" stroke-opacity="0.6" fill="none"/><path d="M392.0,1299.9v8.4M84.9,1299.9v8.4M565.7,1299.9v8.4M164.7,1299.9v8.4M193.4,1299.9v8.4M80.7,1299.9v8.4M521.8,1299.9v8.4M564.9,1299.9v8.4M99.9,1299.9v8.4M335.0,1299.9v8.4M300.7,1299.9v8.4M369.0,1299.9v8.4M306.6,1299.9v8.4M400.8,1299.9v8.4M390.5,1299.9v8.4M164.6,1299.9v8.4M337.7,1299.9v8.4M414.5,1299.9v8.4M118.9,1299.9v8.4M478.1,1299.9v8.4M257.1,1299.9v8.4" stroke="#8fc3a0" stroke-width="1.2" stroke-opacity="0.6" fill="none"/>
<line x1="131.40" y1="1376.40" x2="490.30" y2="1376.40" stroke="#8a8a8a" stroke-width="1.6"/><path d="M317.2,1372.2v8.4M312.4,1372.2v8.4M481.9,1372.2v8.4M391.9,1372.2v8.4M433.1,1372.2v8.4M354.8,1372.2v8.4M482.4,1372.2v8.4M177.0,1372.2v8.4M285.8,1372.2v8.4M216.6,1372.2v8.4M417.5,1372.2v8.4M406.3,1372.2v8.4M300.6,1372.2v8.4M256.8,1372.2v8.4M459.2,1372.2v8.4M300.8,1372.2v8.4M374.6,1372.2v8.4M348.7,1372.2v8.4M450.8,1372.2v8.4M335.2,1372.2v8.4M186.6,1372.2v8.4M333.5,1372.2v8.4M304.6,1372.2v8.4M174.5,1372.2v8.4M165.8,1372.2v8.4M168.5,1372.2v8.4M376.7,1372.2v8.4M407.8,1372.2v8.4M384.7,1372.2v8.4M201.0,1372.2v8.4M137.0,1372.2v8.4M296.1,1372.2v8.4M439.6,1372.2v8.4M251.8,1372.2v8.4M431.2,1372.2v8.4M378.2,1372.2v8.4" stroke="#4a6fb0" stroke-width="0.6" stroke-opacity="0.6" fill="none"/><path d="M203.6,1372.2v8.4M285.0,1372.2v8.4M349.6,1372.2v8.4M362.5,1372.2v8.4M150.2,1372.2v8.4M386.8,1372.2v8.4M472.8,1372.2v8.4M336.4,1372.2v8.4M238.0,1372.2v8.4M213.9,1372.2v8.4M345.0,1372.2v8.4M406.9,1372.2v8.4M341.9,1372.2v8.4M278.6,1372.2v8.4M487.7,1372.2v8.4M224.1,1372.2v8.4M287.6,1372.2v8.4M476.9,1372.2v8.4M303.7,1372.2v8.4M471.7,1372.2v8.4M342.6,1372.2v8.4M229.9,1372.2v8.4M377.1,1372.2v8.4M308.2,1372.2v8.4M265.9,1372.2v8.4M346.0,1372.2v8.4M445.2,1372.2v8.4M482.4,1372.2v8.4M388.8,1372.2v8.4M237.7,1372.2v8.4M216.1,1372.2v8.4M415.9,1372.2v8.4M142.1,1372.2v8.4M203.4,1372.2v8.4M156.3,1372.2v8.4M383.6,1372.2v8.4M317.1,1372.2v8.4M482.1,1372.2v8.4M188.6,1372.2v8.4M483.6,1372.2v8.4M215.5,1372.2v8.4M148.6,1372.2v8.4M363.5,1372.2v8.4M214.3,1372.2v8.4" stroke="#4a6fb0" stroke-width="0.8" stroke-opacity="0.6" fill="none"/><path d="M357.0,1372.2v8.4M149.8,1372.2v8.4M379.3,1372.2v8.4M318.0,1372.2v8.4M434.4,1372.2v8.4M150.7,1372.2v8.4M254.8,1372.2v8.4M359.3,1372.2v8.4M363.1,1372.2v8.4M191.5,1372.2v8.4M368.2,1372.2v8.4M190.3,1372.2v8.4M293.2,1372.2v8.4M441.3,1372.2v8.4M200.4,1372.2v8.4M182.2,1372.2v8.4M467.9,1372.2v8.4M185.0,1372.2v8.4M200.5,1372.2v8.4M176.5,1372.2v8.4M384.5,1372.2v8.4M303.2,1372.2v8.4M224.7,1372.2v8.4M279.6,1372.2v8.4M479.3,1372.2v8.4M261.0,1372.2v8.4M376.4,1372.2v8.4M181.2,1372.2v8.4M203.0,1372.2v8.4M224.4,1372.2v8.4M340.2,1372.2v8.4M249.8,1372.2v8.4M470.5,1372.2v8.4M391.9,1372.2v8.4M433.3,1372.2v8.4M174.5,1372.2v8.4M311.9,1372.2v8.4M302.6,1372.2v8.4M136.9,1372.2v8.4M150.4,1372.2v8.4M440.3,1372.2v8.4" stroke="#4a6fb0" stroke-width="1.0" stroke-opacity="0.6" fill="none"/><path d="M427.5,1372.2v8.4M248.2,1372.2v8.4M137.7,1372.2v8.4M188.4,1372.2v8.4M472.5,1372.2v8.4M408.3,1372.2v8.4M174.6,1372.2v8.4M174.4,1372.2v8.4M220.8,1372.2v8.4M289.1,1372.2v8.4M358.7,1372.2v8.4M389.8,1372.2v8.4M324.4,1372.2v8.4M177.1,1372.2v8.4M358.2,1372.2v8.4M476.4,1372.2v8.4M468.8,1372.2v8.4M151.8,1372.2v8.4M298.3,1372.2v8.4M427.7,1372.2v8.4M439.4,1372.2v8.4M295.9,1372.2v8.4M335.4,1372.2v8.4M293.4,1372.2v8.4M441.8,1372.2v8.4M207.1,1372.2v8.4M290.1,1372.2v8.4M439.9,1372.2v8.4M368.1,1372.2v8.4M222.5,1372.2v8.4M233.0,1372.2v8.4M184.2,1372.2v8.4M260.0,1372.2v8.4M358.1,1372.2v8.4M192.3,1372.2v8.4M453.1,1372.2v8.4M350.2,1372.2v8.4M265.6,1372.2v8.4M214.9,1372.2v8.4" stroke="#4a6fb0" stroke-width="1.2" stroke-opacity="0.6" fill="none"/><path d="M207.5,1372.2v8.4M460.5,1372.2v8.4M416.9,1372.2v8.4M411.0,1372.2v8.4M454.9,1372.2v8.4M322.3,1372.2v8.4M460.2,1372.2v8.4M366.9,1372.2v8.4M347.9,1372.2v8.4M382.0,1372.2v8.4M452.2,1372.2v8.4M448.1,1372.2v8.4M438.3,1372.2v8.4M142.4,1372.2v8.4M310.1,1372.2v8.4M464.0,1372.2v8.4M231.5,1372.2v8.4M354.9,1372.2v8.4M481.1,1372.2v8.4M171.9,1372.2v8.4M231.7,1372.2v8.4M379.9,1372.2v8.4" stroke="#4aa564" stroke-width="0.6" stroke-opacity="0.6" fill="none"/><path d="M249.7,1372.2v8.4M147.4,1372.2v8.4M383.8,1372.2v8.4M266.3,1372.2v8.4M388.7,1372.2v8.4M429.4,1372.2v8.4M290.9,1372.2v8.4M445.8,1372.2v8.4M299.1,1372.2v8.4M241.7,1372.2v8.4M440.6,1372.2v8.4M461.9,1372.2v8.4M430.7,1372.2v8.4M314.6,1372.2v8.4M257.2,1372.2v8.4M330.9,1372.2v8.4M451.8,1372.2v8.4M452.6,1372.2v8.4M355.0,1372.2v8.4M135.7,1372.2v8.4M472.7,1372.2v8.4M355.3,1372.2v8.4M258.7,1372.2v8.4M446.0,1372.2v8.4M391.4,1372.2v8.4M196.2,1372.2v8.4" stroke="#4aa564" stroke-width="0.8" stroke-opacity="0.6" fill="none"/><path d="M409.2,1372.2v8.4M359.3,1372.2v8.4M327.3,1372.2v8.4M462.5,1372.2v8.4M309.0,1372.2v8.4M307.5,1372.2v8.4M415.4,1372.2v8.4M358.4,1372.2v8.4M369.0,1372.2v8.4M426.3,1372.2v8.4M165.0,1372.2v8.4M461.8,1372.2v8.4M252.1,1372.2v8.4M431.3,1372.2v8.4M175.6,1372.2v8.4M251.6,1372.2v8.4M396.4,1372.2v8.4M292.8,1372.2v8.4M220.0,1372.2v8.4M154.8,1372.2v8.4M172.9,1372.2v8.4M335.8,1372.2v8.4M135.5,1372.2v8.4M293.6,1372.2v8.4M178.0,1372.2v8.4M202.5,1372.2v8.4M348.4,1372.2v8.4M322.8,1372.2v8.4M382.3,1372.2v8.4M452.0,1372.2v8.4M422.2,1372.2v8.4M268.5,1372.2v8.4M327.5,1372.2v8.4M386.9,1372.2v8.4M479.5,1372.2v8.4M465.4,1372.2v8.4M159.3,1372.2v8.4M385.9,1372.2v8.4" stroke="#4aa564" stroke-width="1.0" stroke-opacity="0.6" fill="none"/><path d="M155.2,1372.2v8.4M451.8,1372.2v8.4M319.3,1372.2v8.4M330.4,1372.2v8.4M371.6,1372.2v8.4M412.3,1372.2v8.4M153.0,1372.2v8.4M385.7,1372.2v8.4M255.3,1372.2v8.4M468.7,1372.2v8.4M267.1,1372.2v8.4M411.8,1372.2v8.4M184.4,1372.2v8.4M482.7,1372.2v8.4M149.2,1372.2v8.4M446.7,1372.2v8.4M290.0,1372.2v8.4M265.5,1372.2v8.4M245.1,1372.2v8.4M145.9,1372.2v8.4M386.5,1372.2v8.4M317.0,1372.2v8.4M439.6,1372.2v8.4M479.6,1372.2v8.4M250.4,1372.2v8.4M201.8,1372.2v8.4M188.7,1372.2v8.4M469.8,1372.2v8.4M308.0,1372.2v8.4M433.0,1372.2v8.4M366.0,1372.2v8.4M143.1,1372.2v8.4M483.7,1372.2v8.4M140.6,1372.2v8.4" stroke="#4aa564" stroke-width="1.2" stroke-opacity="0.6" fill="none"/><path d="M410.5,1372.2v8.4M447.7,1372.2v8.4M187.5,1372.2v8.4M263.9,1372.2v8.4M475.7,1372.2v8.4M246.2,1372.2v8.4M352.5,1372.2v8.4M186.4,1372.2v8.4M262.0,1372.2v8.4M401.6,1372.2v8.4M178.0,1372.2v8.4M371.6,1372.2v8.4M447.2,1372.2v8.4M318.3,1372.2v8.4M299.8,1372.2v8.4M439.0,1372.2v8.4M160.2,1372.2v8.4M364.1,1372.2v8.4M394.9,1372.2v8.4M157.4,1372.2v8.4M294.3,1372.2v8.4M218.9,1372.2v8.4M439.7,1372.2v8.4M374.2,1372.2v8.4M188.3,1372.2v8.4M251.1,1372.2v8.4M265.3,1372.2v8.4M422.3,1372.2v8.4M420.8,1372.2v8.4M427.9,1372.2v8.4M273.7,1372.2v8.4" stroke="#7d97bd" stroke-width="0.6" stroke-opacity="0.6" fill="none"/><path d="M275.8,1372.2v8.4M481.1,1372.2v8.4M277.5,1372.2v8.4M487.7,1372.2v8.4M229.1,1372.2v8.4M453.9,1372.2v8.4M401.0,1372.2v8.4M467.6,1372.2v8.4M295.2,1372.2v8.4M301.6,1372.2v8.4M240.9,1372.2v8.4M434.2,1372.2v8.4M249.4,1372.2v8.4M320.7,1372.2v8.4M246.6,1372.2v8.4M326.1,1372.2v8.4M414.0,1372.2v8.4M449.0,1372.2v8.4M404.6,1372.2v8.4M445.5,1372.2v8.4M249.9,1372.2v8.4M279.8,1372.2v8.4M293.5,1372.2v8.4M454.0,1372.2v8.4M323.4,1372.2v8.4M158.2,1372.2v8.4M165.4,1372.2v8.4M351.4,1372.2v8.4" stroke="#7d97bd" stroke-width="0.8" stroke-opacity="0.6" fill="none"/><path d="M184.4,1372.2v8.4M242.6,1372.2v8.4M452.4,1372.2v8.4M305.6,1372.2v8.4M325.7,1372.2v8.4M252.2,1372.2v8.4M386.7,1372.2v8.4M317.2,1372.2v8.4M456.2,1372.2v8.4M336.1,1372.2v8.4M281.6,1372.2v8.4M228.7,1372.2v8.4M267.8,1372.2v8.4M357.1,1372.2v8.4M416.2,1372.2v8.4M191.1,1372.2v8.4M478.7,1372.2v8.4M463.4,1372.2v8.4M220.4,1372.2v8.4M286.7,1372.2v8.4M183.2,1372.2v8.4M441.6,1372.2v8.4M148.9,1372.2v8.4M337.7,1372.2v8.4M324.3,1372.2v8.4M338.0,1372.2v8.4M460.7,1372.2v8.4M356.1,1372.2v8.4M455.5,1372.2v8.4M135.4,1372.2v8.4M473.9,1372.2v8.4M191.6,1372.2v8.4M370.9,1372.2v8.4M249.6,1372.2v8.4M425.6,1372.2v8.4" stroke="#7d97bd" stroke-width="1.0" stroke-opacity="0.6" fill="none"/><path d="M375.4,1372.2v8.4M234.3,1372.2v8.4M435.4,1372.2v8.4M485.7,1372.2v8.4M339.0,1372.2v8.4M167.1,1372.2v8.4M390.1,1372.2v8.4M442.2,1372.2v8.4M434.0,1372.2v8.4M470.9,1372.2v8.4M239.7,1372.2v8.4M305.7,1372.2v8.4M172.8,1372.2v8.4M264.7,1372.2v8.4M178.4,1372.2v8.4M180.0,1372.2v8.4M204.7,1372.2v8.4M176.1,1372.2v8.4M487.7,1372.2v8.4M390.5,1372.2v8.4M487.1,1372.2v8.4M486.7,1372.2v8.4M286.2,1372.2v8.4M385.0,1372.2v8.4M245.7,1372.2v8.4M365.2,1372.2v8.4M487.0,1372.2v8.4M440.6,1372.2v8.4M457.6,1372.2v8.4M182.5,1372.2v8.4M186.2,1372.2v8.4M343.7,1372.2v8.4M294.9,1372.2v8.4M357.9,1372.2v8.4M390.7,1372.2v8.4" stroke="#7d97bd" stroke-width="1.2" stroke-opacity="0.6" fill="none"/><path d="M251.6,1372.2v8.4M400.4,1372.2v8.4M439.7,1372.2v8.4M383.8,1372.2v8.4M195.5,1372.2v8.4M439.7,1372.2v8.4M226.6,1372.2v8.4M211.9,1372.2v8.4M194.7,1372.2v8.4M357.3,1372.2v8.4M222.8,1372.2v8.4M420.3,1372.2v8.4M200.4,1372.2v8.4M414.5,1372.2v8.4M292.2,1372.2v8.4M436.1,1372.2v8.4M401.2,1372.2v8.4" stroke="#8fc3a0" stroke-width="0.6" stroke-opacity="0.6" fill="none"/><path d="M311.2,1372.2v8.4M435.8,1372.2v8.4M447.8,1372.2v8.4M200.1,1372.2v8.4M432.3,1372.2v8.4M333.6,1372.2v8.4M443.2,1372.2v8.4M455.4,1372.2v8.4M308.5,1372.2v8.4M411.9,1372.2v8.4M425.5,1372.2v8.4M226.8,1372.2v8.4M432.7,1372.2v8.4M246.2,1372.2v8.4M287.8,1372.2v8.4M400.8,1372.2v8.4M307.6,1372.2v8.4M348.4,1372.2v8.4M409.7,1372.2v8.4M235.6,1372.2v8.4M204.0,1372.2v8.4M198.2,1372.2v8.4" stroke="#8fc3a0" stroke-width="0.8" stroke-opacity="0.6" fill="none"/><path d="M324.4,1372.2v8.4M435.8,1372.2v8.4M432.1,1372.2v8.4M250.8,1372.2v8.4M364.8,1372.2v8.4M201.9,1372.2v8.4M149.7,1372.2v8.4M231.4,1372.2v8.4M365.6,1372.2v8.4M152.5,1372.2v8.4M415.9,1372.2v8.4M473.7,1372.2v8.4M304.1,1372.2v8.4" stroke="#8fc3a0" stroke-width="1.0" stroke-opacity="0.6" fill="none"/><path d="M191.6,1372.2v8.4M138.2,1372.2v8.4M268.3,1372.2v8.4M452.2,1372.2v8.4M476.7,1372.2v8.4M228.5,1372.2v8.4M259.3,1372.2v8.4M241.3,1372.2v8.4M368.6,1372.2v8.4M345.5,1372.2v8.4M278.8,1372.2v8.4M218.3,1372.2v8.4M388.7,1372.2v8.4M338.3,1372.2v8.4M434.4,1372.2v8.4M223.6,1372.2v8.4M398.1,1372.2v8.4M343.7,1372.2v8.4M139.0,1372.2v8.4" stroke="#8fc3a0" stroke-width="1.2" stroke-opacity="0.6" fill="none"/>
<rect x="266.00" y="1247.00" width="96.00" height="19.00" fill="#ffffff" fill-opacity="0.4"/>
<rect x="258.00" y="1267.00" width="106.00" height="22.00" fill="#ffffff" fill-opacity="0.4"/>
<rect x="232.00" y="1319.00" width="150.00" height="19.00" fill="#ffffff" fill-opacity="0.4"/>
<rect x="258.00" y="1340.00" width="106.00" height="22.00" fill="#ffffff" fill-opacity="0.4"/>
<text x="250.2" y="1188.8" font-size="12.8" fill="#5bb08a" textLength="119.0" lengthAdjust="spacingAndGlyphs"><tspan font-style="italic">M.indica</tspan><tspan> ‘Alphonso’</tspan></text>
<text x="261.7" y="1210.4" font-size="14.2" fill="#6b7a94" textLength="98.3" lengthAdjust="spacingAndGlyphs"><tspan>0.03-24.37Mb</tspan></text>
<text x="270.6" y="1259.7" font-size="12.8" fill="#f0855a" textLength="87.0" lengthAdjust="spacingAndGlyphs"><tspan font-style="italic">M.persiciforma</tspan></text>
<text x="261.7" y="1282.6" font-size="14.2" fill="#6b7a94" textLength="98.3" lengthAdjust="spacingAndGlyphs"><tspan>0.04-27.94Mb</tspan></text>
<text x="235.7" y="1333.0" font-size="12.8" fill="#5bb08a" textLength="143.0" lengthAdjust="spacingAndGlyphs"><tspan font-style="italic">M.indica</tspan><tspan> ‘Hongxiangya’</tspan></text>
<text x="261.7" y="1355.6" font-size="14.2" fill="#6b7a94" textLength="98.3" lengthAdjust="spacingAndGlyphs"><tspan>0.13-18.76Mb</tspan></text>
<path d="M76.8,1428.9 C76.8,1458.2 71.9,1458.2 71.9,1487.4 L73.0,1487.4 C73.0,1458.2 80.0,1458.2 80.0,1428.9Z" fill="#e1e4e4" fill-opacity="0.8"/>
<path d="M86.9,1428.9 C86.9,1458.2 94.4,1458.2 94.4,1487.4 L99.5,1487.4 C99.5,1458.2 108.0,1458.2 108.0,1428.9Z" fill="#e1e4e4" fill-opacity="0.95"/>
<path d="M138.7,1428.9 C138.7,1458.2 125.0,1458.2 125.0,1487.4 L127.0,1487.4 C127.0,1458.2 142.7,1458.2 142.7,1428.9Z" fill="#e1e4e4" fill-opacity="0.7"/>
<path d="M147.8,1428.9 C147.8,1458.2 128.3,1458.2 128.3,1487.4 L130.7,1487.4 C130.7,1458.2 155.0,1458.2 155.0,1428.9Z" fill="#e1e4e4" fill-opacity="0.7"/>
<path d="M175.0,1428.9 C175.0,1458.2 153.7,1458.2 153.7,1487.4 L156.4,1487.4 C156.4,1458.2 177.7,1458.2 177.7,1428.9Z" fill="#e1e4e4" fill-opacity="0.7"/>
<path d="M194.6,1428.9 C194.6,1458.2 167.0,1458.2 167.0,1487.4 L168.0,1487.4 C168.0,1458.2 195.6,1458.2 195.6,1428.9Z" fill="#e1e4e4" fill-opacity="0.6"/>
<path d="M206.6,1428.9 C206.6,1458.2 173.5,1458.2 173.5,1487.4 L174.3,1487.4 C174.3,1458.2 207.4,1458.2 207.4,1428.9Z" fill="#e1e4e4" fill-opacity="0.6"/>
<path d="M211.7,1428.9 C211.7,1458.2 177.0,1458.2 177.0,1487.4 L177.8,1487.4 C177.8,1458.2 212.5,1458.2 212.5,1428.9Z" fill="#e1e4e4" fill-opacity="0.6"/>
<path d="M244.5,1428.9 C244.5,1458.2 181.0,1458.2 181.0,1487.4 L181.8,1487.4 C181.8,1458.2 245.3,1458.2 245.3,1428.9Z" fill="#e1e4e4" fill-opacity="0.6"/>
<path d="M250.4,1428.9 C250.4,1458.2 184.2,1458.2 184.2,1487.4 L184.8,1487.4 C184.8,1458.2 251.0,1458.2 251.0,1428.9Z" fill="#e1e4e4" fill-opacity="0.6"/>
<path d="M257.4,1428.9 C257.4,1458.2 190.0,1458.2 190.0,1487.4 L198.3,1487.4 C198.3,1458.2 264.0,1458.2 264.0,1428.9Z" fill="#e1e4e4" fill-opacity="0.3"/>
<path d="M270.4,1428.9 C270.4,1458.2 205.3,1458.2 205.3,1487.4 L207.7,1487.4 C207.7,1458.2 271.2,1458.2 271.2,1428.9Z" fill="#e1e4e4" fill-opacity="0.35"/>
<path d="M282.7,1428.9 C282.7,1458.2 217.8,1458.2 217.8,1487.4 L222.4,1487.4 C222.4,1458.2 285.1,1458.2 285.1,1428.9Z" fill="#e1e4e4" fill-opacity="0.3"/>
<path d="M290.5,1428.9 C290.5,1458.2 228.2,1458.2 228.2,1487.4 L231.0,1487.4 C231.0,1458.2 291.2,1458.2 291.2,1428.9Z" fill="#e1e4e4" fill-opacity="0.3"/>
<path d="M300.0,1428.9 C300.0,1458.2 236.5,1458.2 236.5,1487.4 L245.3,1487.4 C245.3,1458.2 312.0,1458.2 312.0,1428.9Z" fill="#e1e4e4" fill-opacity="0.45"/>
<path d="M312.0,1428.9 C312.0,1458.2 259.0,1458.2 259.0,1487.4 L266.7,1487.4 C266.7,1458.2 326.5,1458.2 326.5,1428.9Z" fill="#e1e4e4" fill-opacity="0.4"/>
<path d="M337.0,1428.9 C337.0,1458.2 303.0,1458.2 303.0,1487.4 L305.7,1487.4 C305.7,1458.2 343.6,1458.2 343.6,1428.9Z" fill="#e1e4e4" fill-opacity="0.6"/>
<path d="M349.9,1428.9 C349.9,1458.2 293.0,1458.2 293.0,1487.4 L294.0,1487.4 C294.0,1458.2 354.1,1458.2 354.1,1428.9Z" fill="#e1e4e4" fill-opacity="0.5"/>
<path d="M359.0,1428.9 C359.0,1458.2 328.0,1458.2 328.0,1487.4 L329.0,1487.4 C329.0,1458.2 362.7,1458.2 362.7,1428.9Z" fill="#e1e4e4" fill-opacity="0.5"/>
<path d="M368.4,1428.9 C368.4,1458.2 421.7,1458.2 421.7,1487.4 L433.0,1487.4 C433.0,1458.2 375.5,1458.2 375.5,1428.9Z" fill="#e1e4e4" fill-opacity="0.45"/>
<path d="M383.2,1428.9 C383.2,1458.2 443.3,1458.2 443.3,1487.4 L458.4,1487.4 C458.4,1458.2 394.0,1458.2 394.0,1428.9Z" fill="#e1e4e4" fill-opacity="0.45"/>
<path d="M402.6,1428.9 C402.6,1458.2 466.1,1458.2 466.1,1487.4 L480.1,1487.4 C480.1,1458.2 419.7,1458.2 419.7,1428.9Z" fill="#e1e4e4" fill-opacity="0.5"/>
<path d="M424.3,1428.9 C424.3,1458.2 489.5,1458.2 489.5,1487.4 L499.5,1487.4 C499.5,1458.2 437.4,1458.2 437.4,1428.9Z" fill="#e1e4e4" fill-opacity="0.55"/>
<path d="M443.3,1428.9 C443.3,1458.2 504.6,1458.2 504.6,1487.4 L510.3,1487.4 C510.3,1458.2 455.3,1458.2 455.3,1428.9Z" fill="#e1e4e4" fill-opacity="0.5"/>
<path d="M474.7,1428.9 C474.7,1458.2 520.9,1458.2 520.9,1487.4 L521.6,1487.4 C521.6,1458.2 475.5,1458.2 475.5,1428.9Z" fill="#e1e4e4" fill-opacity="0.7"/>
<path d="M481.5,1428.9 C481.5,1458.2 526.6,1458.2 526.6,1487.4 L534.2,1487.4 C534.2,1458.2 502.3,1458.2 502.3,1428.9Z" fill="#e1e4e4" fill-opacity="0.35"/>
<path d="M536.2,1428.9 C536.2,1458.2 540.8,1458.2 540.8,1487.4 L542.2,1487.4 C542.2,1458.2 538.2,1458.2 538.2,1428.9Z" fill="#e1e4e4" fill-opacity="0.9"/>
<path d="M200.0,1487.4 C200.0,1516.7 66.2,1516.7 66.2,1545.9 L67.0,1545.9 C67.0,1516.7 201.0,1516.7 201.0,1487.4Z" fill="#e1e4e4" fill-opacity="0.7"/>
<path d="M252.0,1487.4 C252.0,1516.7 237.0,1516.7 237.0,1545.9 L237.8,1545.9 C237.8,1516.7 252.8,1516.7 252.8,1487.4Z" fill="#e1e4e4" fill-opacity="0.6"/>
<path d="M303.5,1487.4 C303.5,1516.7 303.5,1516.7 303.5,1545.9 L304.3,1545.9 C304.3,1516.7 304.3,1516.7 304.3,1487.4Z" fill="#e1e4e4" fill-opacity="0.5"/>
<path d="M361.0,1487.4 C361.0,1516.7 331.3,1516.7 331.3,1545.9 L347.0,1545.9 C347.0,1516.7 364.4,1516.7 364.4,1487.4Z" fill="#e1e4e4" fill-opacity="0.35"/>
<path d="M443.3,1487.4 C443.3,1516.7 367.0,1516.7 367.0,1545.9 L382.6,1545.9 C382.6,1516.7 458.4,1516.7 458.4,1487.4Z" fill="#e1e4e4" fill-opacity="0.9"/>
<path d="M410.6,1487.4 C410.6,1516.7 356.1,1516.7 356.1,1545.9 L366.1,1545.9 C366.1,1516.7 413.4,1516.7 413.4,1487.4Z" fill="#e1e4e4" fill-opacity="0.4"/>
<path d="M466.1,1487.4 C466.1,1516.7 397.0,1516.7 397.0,1545.9 L398.0,1545.9 C398.0,1516.7 470.1,1516.7 470.1,1487.4Z" fill="#e1e4e4" fill-opacity="0.4"/>
<path d="M504.6,1487.4 C504.6,1516.7 459.0,1516.7 459.0,1545.9 L473.3,1545.9 C473.3,1516.7 510.3,1516.7 510.3,1487.4Z" fill="#e1e4e4" fill-opacity="0.9"/>
<path d="M514.0,1487.4 C514.0,1516.7 488.7,1516.7 488.7,1545.9 L493.2,1545.9 C493.2,1516.7 516.0,1516.7 516.0,1487.4Z" fill="#e1e4e4" fill-opacity="0.8"/>
<path d="M520.9,1487.4 C520.9,1516.7 496.6,1516.7 496.6,1545.9 L498.9,1545.9 C498.9,1516.7 522.0,1516.7 522.0,1487.4Z" fill="#e1e4e4" fill-opacity="0.8"/>
<path d="M526.6,1487.4 C526.6,1516.7 501.8,1516.7 501.8,1545.9 L507.5,1545.9 C507.5,1516.7 531.0,1516.7 531.0,1487.4Z" fill="#e1e4e4" fill-opacity="0.8"/>
<path d="M534.0,1487.4 C534.0,1516.7 512.3,1516.7 512.3,1545.9 L513.7,1545.9 C513.7,1516.7 535.0,1516.7 535.0,1487.4Z" fill="#e1e4e4" fill-opacity="0.7"/>
<path d="M538.0,1487.4 C538.0,1516.7 527.0,1516.7 527.0,1545.9 L529.6,1545.9 C529.6,1516.7 539.4,1516.7 539.4,1487.4Z" fill="#e1e4e4" fill-opacity="0.7"/>
<path d="M539.4,1487.4 C539.4,1516.7 531.2,1516.7 531.2,1545.9 L533.9,1545.9 C533.9,1516.7 540.8,1516.7 540.8,1487.4Z" fill="#e1e4e4" fill-opacity="0.7"/>
<path d="M540.8,1487.4 C540.8,1516.7 542.2,1516.7 542.2,1545.9 L548.8,1545.9 C548.8,1516.7 543.0,1516.7 543.0,1487.4Z" fill="#e1e4e4" fill-opacity="0.95"/>
<line x1="76.20" y1="1428.90" x2="538.80" y2="1428.90" stroke="#8c8c8c" stroke-width="1.7"/>
<rect x="76.80" y="1425.30" width="3.20" height="7.20" fill="#4a6fb0"/>
<rect x="86.90" y="1425.30" width="21.10" height="7.20" fill="#4a6fb0"/>
<rect x="138.70" y="1425.30" width="4.00" height="7.20" fill="#4a6fb0"/>
<rect x="147.80" y="1425.30" width="7.20" height="7.20" fill="#4a6fb0"/>
<rect x="157.40" y="1425.30" width="0.60" height="7.20" fill="#4a6fb0"/>
<rect x="175.00" y="1425.30" width="2.70" height="7.20" fill="#4a6fb0"/>
<rect x="194.30" y="1425.30" width="0.60" height="7.20" fill="#4aa564"/>
<rect x="206.30" y="1425.30" width="0.60" height="7.20" fill="#4aa564"/>
<rect x="211.20" y="1425.30" width="1.00" height="7.20" fill="#4aa564"/>
<rect x="224.20" y="1425.30" width="2.20" height="7.20" fill="#4a6fb0"/>
<rect x="232.20" y="1425.30" width="7.80" height="7.20" fill="#4a6fb0"/>
<rect x="244.20" y="1425.30" width="0.60" height="7.20" fill="#4aa564"/>
<rect x="250.10" y="1425.30" width="0.60" height="7.20" fill="#4a6fb0"/>
<rect x="253.60" y="1425.30" width="0.60" height="7.20" fill="#4a6fb0"/>
<rect x="257.40" y="1425.30" width="4.00" height="7.20" fill="#4a6fb0"/>
<rect x="261.40" y="1425.30" width="2.60" height="7.20" fill="#4aa564"/>
<rect x="270.00" y="1425.30" width="0.80" height="7.20" fill="#4aa564"/>
<rect x="282.70" y="1425.30" width="2.40" height="7.20" fill="#4aa564"/>
<rect x="290.20" y="1425.30" width="0.70" height="7.20" fill="#4aa564"/>
<rect x="300.00" y="1425.30" width="27.00" height="7.20" fill="#4aa564"/>
<rect x="337.00" y="1425.30" width="6.60" height="7.20" fill="#4aa564"/>
<rect x="349.90" y="1425.30" width="4.20" height="7.20" fill="#4aa564"/>
<rect x="359.00" y="1425.30" width="3.70" height="7.20" fill="#4aa564"/>
<rect x="364.20" y="1425.30" width="0.60" height="7.20" fill="#4a6fb0"/>
<rect x="366.00" y="1425.30" width="0.60" height="7.20" fill="#4a6fb0"/>
<rect x="368.40" y="1425.30" width="1.70" height="7.20" fill="#4aa564"/>
<rect x="373.50" y="1425.30" width="2.00" height="7.20" fill="#4aa564"/>
<rect x="382.90" y="1425.30" width="0.70" height="7.20" fill="#4a6fb0"/>
<rect x="386.70" y="1425.30" width="0.60" height="7.20" fill="#4aa564"/>
<rect x="390.00" y="1425.30" width="4.00" height="7.20" fill="#4a6fb0"/>
<rect x="402.30" y="1425.30" width="0.60" height="7.20" fill="#4a6fb0"/>
<rect x="407.40" y="1425.30" width="0.60" height="7.20" fill="#4a6fb0"/>
<rect x="414.00" y="1425.30" width="5.70" height="7.20" fill="#4a6fb0"/>
<rect x="424.30" y="1425.30" width="3.10" height="7.20" fill="#4a6fb0"/>
<rect x="431.00" y="1425.30" width="6.40" height="7.20" fill="#4aa564"/>
<rect x="443.00" y="1425.30" width="0.70" height="7.20" fill="#4aa564"/>
<rect x="448.20" y="1425.30" width="0.60" height="7.20" fill="#4a6fb0"/>
<rect x="455.00" y="1425.30" width="0.60" height="7.20" fill="#4aa564"/>
<rect x="474.40" y="1425.30" width="0.70" height="7.20" fill="#4aa564"/>
<rect x="481.50" y="1425.30" width="8.50" height="7.20" fill="#4aa564"/>
<rect x="490.00" y="1425.30" width="3.80" height="7.20" fill="#4a6fb0"/>
<rect x="493.80" y="1425.30" width="8.50" height="7.20" fill="#4aa564"/>
<rect x="517.10" y="1425.30" width="0.60" height="7.20" fill="#4aa564"/>
<rect x="519.70" y="1425.30" width="0.70" height="7.20" fill="#4aa564"/>
<rect x="525.10" y="1425.30" width="2.90" height="7.20" fill="#4aa564"/>
<rect x="530.80" y="1425.30" width="4.00" height="7.20" fill="#4a6fb0"/>
<rect x="536.20" y="1425.30" width="2.00" height="7.20" fill="#4a6fb0"/>
<line x1="70.70" y1="1487.40" x2="543.80" y2="1487.40" stroke="#8c8c8c" stroke-width="1.7"/>
<rect x="71.60" y="1483.80" width="0.70" height="7.20" fill="#4a6fb0"/>
<rect x="78.00" y="1483.80" width="2.00" height="7.20" fill="#4a6fb0"/>
<rect x="83.40" y="1483.80" width="1.60" height="7.20" fill="#4aa564"/>
<rect x="85.00" y="1483.80" width="2.70" height="7.20" fill="#4a6fb0"/>
<rect x="94.40" y="1483.80" width="5.10" height="7.20" fill="#4a6fb0"/>
<rect x="115.00" y="1483.80" width="6.10" height="7.20" fill="#4a6fb0"/>
<rect x="123.20" y="1483.80" width="0.70" height="7.20" fill="#4a6fb0"/>
<rect x="128.30" y="1483.80" width="2.40" height="7.20" fill="#4a6fb0"/>
<rect x="139.70" y="1483.80" width="0.60" height="7.20" fill="#4a6fb0"/>
<rect x="153.40" y="1483.80" width="0.60" height="7.20" fill="#4a6fb0"/>
<rect x="156.10" y="1483.80" width="0.60" height="7.20" fill="#4a6fb0"/>
<rect x="173.20" y="1483.80" width="0.60" height="7.20" fill="#4aa564"/>
<rect x="176.70" y="1483.80" width="0.60" height="7.20" fill="#4aa564"/>
<rect x="180.70" y="1483.80" width="0.60" height="7.20" fill="#4aa564"/>
<rect x="183.90" y="1483.80" width="0.60" height="7.20" fill="#4aa564"/>
<rect x="190.00" y="1483.80" width="0.70" height="7.20" fill="#4aa564"/>
<rect x="196.20" y="1483.80" width="2.10" height="7.20" fill="#4aa564"/>
<rect x="201.20" y="1483.80" width="0.70" height="7.20" fill="#4aa564"/>
<rect x="205.30" y="1483.80" width="2.40" height="7.20" fill="#4aa564"/>
<rect x="217.80" y="1483.80" width="1.90" height="7.20" fill="#4aa564"/>
<rect x="220.80" y="1483.80" width="1.60" height="7.20" fill="#4aa564"/>
<rect x="228.20" y="1483.80" width="2.80" height="7.20" fill="#4aa564"/>
<rect x="236.50" y="1483.80" width="3.20" height="7.20" fill="#4aa564"/>
<rect x="241.00" y="1483.80" width="2.00" height="7.20" fill="#4aa564"/>
<rect x="243.70" y="1483.80" width="1.60" height="7.20" fill="#4aa564"/>
<rect x="252.20" y="1483.80" width="0.70" height="7.20" fill="#4a6fb0"/>
<rect x="258.70" y="1483.80" width="0.70" height="7.20" fill="#4aa564"/>
<rect x="264.60" y="1483.80" width="2.10" height="7.20" fill="#4aa564"/>
<rect x="268.30" y="1483.80" width="0.70" height="7.20" fill="#4aa564"/>
<rect x="284.30" y="1483.80" width="0.70" height="7.20" fill="#4a6fb0"/>
<rect x="293.40" y="1483.80" width="0.70" height="7.20" fill="#4aa564"/>
<rect x="303.00" y="1483.80" width="2.70" height="7.20" fill="#4aa564"/>
<rect x="328.20" y="1483.80" width="0.80" height="7.20" fill="#4aa564"/>
<rect x="335.90" y="1483.80" width="4.00" height="7.20" fill="#4aa564"/>
<rect x="347.00" y="1483.80" width="2.90" height="7.20" fill="#4aa564"/>
<rect x="353.80" y="1483.80" width="0.70" height="7.20" fill="#4aa564"/>
<rect x="361.00" y="1483.80" width="3.40" height="7.20" fill="#4aa564"/>
<rect x="372.40" y="1483.80" width="0.60" height="7.20" fill="#4aa564"/>
<rect x="383.70" y="1483.80" width="0.70" height="7.20" fill="#4aa564"/>
<rect x="398.00" y="1483.80" width="0.70" height="7.20" fill="#4aa564"/>
<rect x="402.30" y="1483.80" width="0.70" height="7.20" fill="#4aa564"/>
<rect x="404.60" y="1483.80" width="0.70" height="7.20" fill="#4aa564"/>
<rect x="410.60" y="1483.80" width="2.80" height="7.20" fill="#4aa564"/>
<rect x="421.70" y="1483.80" width="2.80" height="7.20" fill="#4aa564"/>
<rect x="428.80" y="1483.80" width="4.20" height="7.20" fill="#4aa564"/>
<rect x="437.00" y="1483.80" width="0.70" height="7.20" fill="#4a6fb0"/>
<rect x="443.30" y="1483.80" width="2.00" height="7.20" fill="#4aa564"/>
<rect x="450.20" y="1483.80" width="0.70" height="7.20" fill="#4aa564"/>
<rect x="453.00" y="1483.80" width="5.40" height="7.20" fill="#4aa564"/>
<rect x="466.10" y="1483.80" width="4.00" height="7.20" fill="#4aa564"/>
<rect x="477.30" y="1483.80" width="2.80" height="7.20" fill="#4aa564"/>
<rect x="483.50" y="1483.80" width="0.70" height="7.20" fill="#4aa564"/>
<rect x="489.50" y="1483.80" width="2.90" height="7.20" fill="#4aa564"/>
<rect x="495.20" y="1483.80" width="4.30" height="7.20" fill="#4aa564"/>
<rect x="504.60" y="1483.80" width="3.40" height="7.20" fill="#4aa564"/>
<rect x="508.00" y="1483.80" width="2.30" height="7.20" fill="#4a6fb0"/>
<rect x="514.80" y="1483.80" width="0.70" height="7.20" fill="#4aa564"/>
<rect x="520.60" y="1483.80" width="0.70" height="7.20" fill="#4a6fb0"/>
<rect x="526.30" y="1483.80" width="0.70" height="7.20" fill="#4a6fb0"/>
<rect x="527.80" y="1483.80" width="0.60" height="7.20" fill="#4a6fb0"/>
<rect x="530.50" y="1483.80" width="0.70" height="7.20" fill="#4a6fb0"/>
<rect x="533.90" y="1483.80" width="0.70" height="7.20" fill="#4a6fb0"/>
<rect x="538.00" y="1483.80" width="2.80" height="7.20" fill="#4a6fb0"/>
<rect x="541.90" y="1483.80" width="0.70" height="7.20" fill="#4a6fb0"/>
<line x1="65.10" y1="1545.90" x2="549.30" y2="1545.90" stroke="#8c8c8c" stroke-width="1.7"/>
<rect x="66.30" y="1542.30" width="0.70" height="7.20" fill="#4aa564"/>
<rect x="74.10" y="1542.30" width="17.90" height="7.20" fill="#4aa564"/>
<rect x="93.30" y="1542.30" width="5.60" height="7.20" fill="#4aa564"/>
<rect x="147.00" y="1542.30" width="10.70" height="7.20" fill="#4aa564"/>
<rect x="172.10" y="1542.30" width="0.70" height="7.20" fill="#4a6fb0"/>
<rect x="220.00" y="1542.30" width="2.90" height="7.20" fill="#4aa564"/>
<rect x="237.00" y="1542.30" width="1.30" height="7.20" fill="#4a6fb0"/>
<rect x="238.30" y="1542.30" width="3.60" height="7.20" fill="#4aa564"/>
<rect x="259.00" y="1542.30" width="2.60" height="7.20" fill="#4aa564"/>
<rect x="269.10" y="1542.30" width="3.50" height="7.20" fill="#4aa564"/>
<rect x="280.00" y="1542.30" width="18.00" height="7.20" fill="#4aa564"/>
<rect x="303.00" y="1542.30" width="1.60" height="7.20" fill="#4a6fb0"/>
<rect x="312.40" y="1542.30" width="14.40" height="7.20" fill="#4aa564"/>
<rect x="331.30" y="1542.30" width="15.70" height="7.20" fill="#4aa564"/>
<rect x="350.70" y="1542.30" width="4.00" height="7.20" fill="#4aa564"/>
<rect x="356.10" y="1542.30" width="10.00" height="7.20" fill="#4aa564"/>
<rect x="367.00" y="1542.30" width="15.60" height="7.20" fill="#4aa564"/>
<rect x="397.20" y="1542.30" width="0.70" height="7.20" fill="#4aa564"/>
<rect x="416.00" y="1542.30" width="0.70" height="7.20" fill="#4aa564"/>
<rect x="433.10" y="1542.30" width="0.70" height="7.20" fill="#4aa564"/>
<rect x="459.00" y="1542.30" width="7.40" height="7.20" fill="#4aa564"/>
<rect x="468.10" y="1542.30" width="2.00" height="7.20" fill="#4a6fb0"/>
<rect x="471.00" y="1542.30" width="2.30" height="7.20" fill="#4aa564"/>
<rect x="475.90" y="1542.30" width="0.60" height="7.20" fill="#4aa564"/>
<rect x="478.50" y="1542.30" width="0.60" height="7.20" fill="#4aa564"/>
<rect x="488.70" y="1542.30" width="4.50" height="7.20" fill="#4aa564"/>
<rect x="496.60" y="1542.30" width="2.30" height="7.20" fill="#4a6fb0"/>
<rect x="501.80" y="1542.30" width="5.70" height="7.20" fill="#4a6fb0"/>
<rect x="512.30" y="1542.30" width="1.40" height="7.20" fill="#4a6fb0"/>
<rect x="526.80" y="1542.30" width="0.60" height="7.20" fill="#4a6fb0"/>
<rect x="529.10" y="1542.30" width="0.60" height="7.20" fill="#4a6fb0"/>
<rect x="531.10" y="1542.30" width="0.60" height="7.20" fill="#4a6fb0"/>
<rect x="533.40" y="1542.30" width="0.60" height="7.20" fill="#4a6fb0"/>
<rect x="542.20" y="1542.30" width="6.60" height="7.20" fill="#4aa564"/>
<text x="244.5" y="1397.0" font-size="12.8" fill="#5bb08a" textLength="120.0" lengthAdjust="spacingAndGlyphs"><tspan font-style="italic">M.indica</tspan><tspan> ‘Alphonso’</tspan></text>
<text x="268.3" y="1412.4" font-size="12.4" fill="#6b7a94" textLength="78.4" lengthAdjust="spacingAndGlyphs"><tspan>1.04-1.97Mb</tspan></text>
<text x="262.9" y="1453.9" font-size="12.8" fill="#f0855a" textLength="87.0" lengthAdjust="spacingAndGlyphs"><tspan font-style="italic">M.persiciforma</tspan></text>
<text x="268.3" y="1470.9" font-size="12.4" fill="#6b7a94" textLength="78.4" lengthAdjust="spacingAndGlyphs"><tspan>2.10-3.99Mb</tspan></text>
<text x="237.4" y="1513.0" font-size="12.8" fill="#5bb08a" textLength="143.5" lengthAdjust="spacingAndGlyphs"><tspan font-style="italic">M.indica</tspan><tspan> ‘Hongxiangya’</tspan></text>
<text x="268.3" y="1529.5" font-size="12.4" fill="#6b7a94" textLength="78.4" lengthAdjust="spacingAndGlyphs"><tspan>0.49-1.51Mb</tspan></text>
<circle cx="76.3" cy="1304.6" r="13.3" fill="none" stroke="#e8141c" stroke-width="3" stroke-dasharray="1.1 1.5"/>
<circle cx="277.8" cy="1487.4" r="5.6" fill="none" stroke="#e8141c" stroke-width="5.4" stroke-dasharray="1.1 1.9"/>
<rect x="276.90" y="1484.00" width="1.80" height="7.00" fill="#e8141c"/>
<circle cx="312.3" cy="1487.4" r="5.6" fill="none" stroke="#e8141c" stroke-width="5.4" stroke-dasharray="1.1 1.9"/>
<rect x="311.40" y="1484.00" width="1.80" height="7.00" fill="#e8141c"/>
<path d="M63,1307 C65,1340 67,1380 73.5,1421" fill="none" stroke="#1414a0" stroke-width="1.9" stroke-dasharray="9.5 6"/>
<path d="M70.2,1420 L74.3,1424.6 L78.2,1419.6" fill="none" stroke="#1414a0" stroke-width="1.5"/>
<path d="M90,1305.5 L538,1419.3" fill="none" stroke="#1414a0" stroke-width="1.9" stroke-dasharray="9.5 6"/>
<path d="M533.6,1415.3 L539.8,1419.8 L533,1423" fill="none" stroke="#1414a0" stroke-width="1.5"/>
<path d="M262,1349.2 L345,1370.3" fill="none" stroke="#fff" stroke-opacity="0.45" stroke-width="2.6"/>
<path d="M279.5,1485 L657.5,1289.5" fill="none" stroke="#e8281c" stroke-width="1.6" stroke-dasharray="9 6.2"/>
<path d="M652.6,1288 L660,1288.2 L656.6,1294.6" fill="none" stroke="#e8281c" stroke-width="1.3"/>
<path d="M314,1486.5 L652,1466.8" fill="none" stroke="#e8281c" stroke-width="1.6" stroke-dasharray="9 6.2"/>
<path d="M649.5,1463.2 L655.5,1466.6 L649.8,1470.4" fill="none" stroke="#e8281c" stroke-width="1.3"/>
</g>
<g id="panel_h">
<text x="599.50" y="1209.50" font-size="22.5" fill="#000">(h)</text>
<text x="690.40" y="1179.97" font-size="12.6" fill="#111" textLength="179.70" lengthAdjust="spacingAndGlyphs">chr2:2,917,645bp-2,929,072bp</text>
<rect x="665.3" y="1187.5" width="434.6" height="192.4" fill="#fff" stroke="#000" stroke-width="2.2"/>
<path d="M742.5,1217.3 L758.3,1217.3 L758.5,1207.7 L761.3,1207.2 L761.6,1192.9 L764.5,1190.3 L764.8,1203.5 L767.6,1202.1 L767.9,1207.4 L770.8,1207.5 L770.9,1217.3 L808.6,1217.3 L808.8,1204.9 L811.6,1204.5 L811.9,1203.5 L814.8,1204.8 L815.1,1205.3 L817.9,1206.0 L818.2,1206.9 L821.1,1206.8 L821.2,1217.3 L838.0,1217.3 L838.1,1205.0 L840.6,1205.8 L840.9,1204.9 L843.4,1203.7 L843.6,1217.3 L859.9,1217.3 L860.0,1204.9 L862.6,1205.9 L862.9,1206.3 L865.5,1207.3 L865.8,1204.4 L868.5,1205.5 L868.8,1207.5 L871.4,1206.6 L871.5,1217.3 L887.4,1217.3 L887.5,1200.0 L890.4,1201.2 L890.8,1198.6 L893.7,1196.9 L893.9,1217.3 L909.2,1217.3 L909.4,1204.9 L912.2,1203.5 L912.5,1207.9 L915.2,1207.5 L915.5,1213.0 L918.3,1212.5 L918.6,1214.9 L921.4,1214.6 L921.7,1215.8 L924.5,1215.8 L924.6,1217.3 L926.0,1217.3 L926.2,1213.7 L929.1,1214.0 L929.4,1211.3 L932.4,1212.0 L932.7,1209.3 L935.6,1209.1 L935.9,1208.3 L938.9,1207.9 L939.2,1203.9 L942.1,1204.5 L942.5,1198.2 L945.4,1198.3 L945.7,1196.8 L948.7,1196.9 L949.0,1197.8 L951.9,1199.8 L952.2,1205.9 L955.2,1207.2 L955.5,1209.4 L958.4,1208.7 L958.6,1217.3 L970.2,1217.3 L970.4,1211.5 L973.8,1211.1 L974.2,1209.2 L977.6,1209.0 L978.0,1209.1 L981.4,1210.0 L981.8,1206.1 L985.2,1204.9 L985.6,1204.3 L989.0,1203.6 L989.4,1205.0 L992.8,1203.7 L993.1,1211.0 L996.5,1211.2 L996.9,1212.6 L1000.3,1212.3 L1000.5,1217.3 L1073.6,1217.3Z" fill="#e8663a" stroke="#e8663a" stroke-width="0.5" stroke-linejoin="round"/><line x1="742.50" y1="1217.30" x2="1073.60" y2="1217.30" stroke="#e8663a" stroke-width="1.7"/>
<path d="M742.5,1249.4 L758.3,1249.4 L758.5,1241.8 L761.3,1241.4 L761.6,1229.4 L764.5,1227.7 L764.8,1230.4 L767.6,1228.3 L767.9,1232.6 L770.8,1233.2 L770.9,1249.4 L808.6,1249.4 L808.8,1235.1 L811.6,1233.6 L811.9,1236.9 L814.8,1235.6 L815.1,1239.0 L817.9,1239.5 L818.2,1240.5 L821.1,1241.2 L821.2,1249.4 L838.0,1249.4 L838.1,1236.0 L840.6,1237.1 L840.9,1232.8 L843.4,1230.9 L843.6,1249.4 L859.9,1249.4 L860.0,1236.6 L862.6,1238.0 L862.9,1234.3 L865.5,1234.2 L865.8,1235.7 L868.5,1236.6 L868.8,1234.6 L871.4,1233.5 L871.5,1249.4 L887.4,1249.4 L887.5,1237.0 L890.4,1237.2 L890.8,1238.6 L893.7,1237.5 L893.9,1249.4 L909.2,1249.4 L909.4,1240.3 L912.2,1240.3 L912.5,1237.3 L915.2,1238.4 L915.5,1238.6 L918.3,1237.4 L918.6,1242.7 L921.4,1242.2 L921.7,1245.2 L924.5,1245.2 L924.6,1249.4 L926.0,1249.4 L926.2,1238.3 L929.9,1237.4 L930.3,1235.2 L934.0,1235.4 L934.4,1233.8 L938.0,1232.4 L938.4,1230.7 L942.1,1230.9 L942.5,1228.0 L946.2,1226.9 L946.6,1230.9 L950.3,1231.8 L950.7,1233.0 L954.3,1234.4 L954.7,1235.8 L958.4,1234.3 L958.6,1249.4 L970.2,1249.4 L970.4,1238.0 L973.8,1237.7 L974.2,1241.0 L977.6,1241.3 L978.0,1239.3 L981.4,1239.9 L981.8,1233.5 L985.2,1232.1 L985.6,1238.6 L989.0,1237.9 L989.4,1240.5 L992.8,1240.0 L993.1,1242.6 L996.5,1242.2 L996.9,1244.0 L1000.3,1243.7 L1000.5,1249.4 L1072.5,1249.4Z" fill="#35b5b8" stroke="#35b5b8" stroke-width="0.5" stroke-linejoin="round"/><line x1="742.50" y1="1249.40" x2="1072.50" y2="1249.40" stroke="#35b5b8" stroke-width="1.7"/>
<path d="M742.5,1284.3 L758.3,1284.3 L758.5,1274.6 L761.3,1274.6 L761.6,1259.5 L764.5,1258.4 L764.8,1261.3 L767.6,1258.8 L767.9,1262.1 L770.8,1261.7 L770.9,1284.3 L808.6,1284.3 L808.8,1270.3 L811.6,1270.2 L811.9,1268.5 L814.8,1267.9 L815.1,1271.4 L817.9,1270.4 L818.2,1266.9 L821.1,1265.7 L821.2,1284.3 L838.0,1284.3 L838.1,1259.2 L840.6,1258.3 L840.9,1261.7 L843.4,1259.9 L843.6,1284.3 L859.9,1284.3 L860.0,1269.0 L862.6,1267.8 L862.9,1266.0 L865.5,1265.2 L865.8,1265.6 L868.5,1263.6 L868.8,1267.0 L871.4,1266.9 L871.5,1284.3 L887.4,1284.3 L887.5,1263.7 L890.4,1262.1 L890.8,1258.6 L893.7,1258.7 L893.9,1284.3 L909.2,1284.3 L909.4,1263.8 L912.2,1262.8 L912.5,1268.6 L915.2,1269.8 L915.5,1272.4 L918.3,1272.1 L918.6,1274.6 L921.4,1274.8 L921.7,1279.5 L924.5,1279.2 L924.6,1284.3 L926.0,1284.3 L926.2,1267.9 L929.9,1267.1 L930.3,1269.4 L934.0,1270.6 L934.4,1266.9 L938.0,1266.2 L938.4,1266.1 L942.1,1265.2 L942.5,1263.2 L946.2,1265.5 L946.6,1263.0 L950.3,1264.4 L950.7,1266.0 L954.3,1267.6 L954.7,1263.8 L958.4,1265.4 L958.6,1284.3 L970.2,1284.3 L970.4,1266.2 L973.8,1268.2 L974.2,1267.7 L977.6,1268.2 L978.0,1266.1 L981.4,1265.7 L981.8,1266.0 L985.2,1264.2 L985.6,1269.5 L989.0,1269.9 L989.4,1274.6 L992.8,1274.8 L993.1,1278.4 L996.5,1277.9 L996.9,1278.9 L1000.3,1279.5 L1000.5,1284.3 L1070.6,1284.3Z" fill="#1e9040" stroke="#1e9040" stroke-width="0.5" stroke-linejoin="round"/><line x1="742.50" y1="1284.30" x2="1070.60" y2="1284.30" stroke="#1e9040" stroke-width="1.7"/>
<path d="M742.5,1318.3 L758.3,1318.3 L758.5,1317.3 L761.3,1317.4 L761.6,1315.5 L764.5,1315.6 L764.8,1315.0 L767.6,1314.6 L767.9,1316.3 L770.8,1316.3 L770.9,1318.3 L808.6,1318.3 L808.8,1316.8 L811.6,1316.7 L811.9,1316.0 L814.8,1316.2 L815.1,1316.4 L817.9,1316.4 L818.2,1315.2 L821.1,1314.9 L821.2,1318.3 L838.0,1318.3 L838.1,1315.4 L840.6,1315.5 L840.9,1316.3 L843.4,1316.5 L843.6,1318.3 L859.9,1318.3 L860.0,1316.6 L862.6,1316.6 L862.9,1315.9 L865.5,1316.1 L865.8,1315.9 L868.5,1315.7 L868.8,1315.6 L871.4,1315.6 L871.5,1318.3 L887.4,1318.3 L887.5,1315.3 L890.4,1315.4 L890.8,1315.7 L893.7,1315.8 L893.9,1318.3 L909.2,1318.3 L909.4,1316.7 L912.2,1316.6 L912.5,1316.4 L915.2,1316.5 L915.5,1316.7 L918.3,1316.7 L918.6,1316.9 L921.4,1317.0 L921.7,1317.3 L924.5,1317.3 L924.6,1318.3 L926.0,1318.3 L926.2,1317.0 L929.9,1317.0 L930.3,1316.6 L934.0,1316.6 L934.4,1316.5 L938.0,1316.6 L938.4,1315.8 L942.1,1315.6 L942.5,1315.8 L946.2,1315.8 L946.6,1316.1 L950.3,1315.9 L950.7,1316.3 L954.3,1316.4 L954.7,1317.0 L958.4,1317.1 L958.6,1318.3 L970.2,1318.3 L970.4,1316.7 L973.8,1316.8 L974.2,1317.3 L977.6,1317.4 L978.0,1316.4 L981.4,1316.3 L981.8,1316.8 L985.2,1317.0 L985.6,1316.8 L989.0,1316.9 L989.4,1317.4 L992.8,1317.4 L993.1,1317.9 L996.5,1317.9 L996.9,1317.8 L1000.3,1317.9 L1000.5,1318.3 L1075.0,1318.3Z" fill="#f2c01e" stroke="#f2c01e" stroke-width="0.5" stroke-linejoin="round"/><line x1="742.50" y1="1318.30" x2="1075.00" y2="1318.30" stroke="#f2c01e" stroke-width="1.7"/>
<text x="697.80" y="1214.78" font-size="14.6" fill="#e8663a">Root</text>
<text x="698.70" y="1249.68" font-size="14.6" fill="#35b5b8">Fruit</text>
<text x="696.40" y="1284.18" font-size="14.6" fill="#1e9040">Stem</text>
<text x="699.20" y="1318.18" font-size="14.6" fill="#f2c01e">Leaf</text>
<rect x="758.35" y="1324.80" width="50.30" height="5.80" fill="#6a6a6a"/>
<rect x="808.64" y="1322.60" width="10.25" height="10.20" fill="#6a6a6a"/>
<line x1="818.89" y1="1327.70" x2="860.80" y2="1327.70" stroke="#6a6a6a" stroke-width="1.3"/>
<rect x="838.45" y="1322.60" width="3.73" height="10.20" fill="#6a6a6a"/>
<rect x="860.80" y="1322.60" width="9.78" height="10.20" fill="#6a6a6a"/>
<path d="M834.1,1325.1 L831.5,1327.7 L834.1,1330.3" fill="none" stroke="#6a6a6a" stroke-width="1.3"/>
<path d="M857.4,1325.1 L854.8,1327.7 L857.4,1330.3" fill="none" stroke="#6a6a6a" stroke-width="1.3"/>
<rect x="887.35" y="1322.60" width="4.66" height="10.20" fill="#6a6a6a"/>
<line x1="892.01" y1="1327.70" x2="928.33" y2="1327.70" stroke="#6a6a6a" stroke-width="1.3"/>
<path d="M907.6,1325.1 L905.0,1327.7 L907.6,1330.3" fill="none" stroke="#6a6a6a" stroke-width="1.3"/>
<rect x="909.71" y="1322.60" width="9.78" height="10.20" fill="#6a6a6a"/>
<rect x="927.40" y="1322.60" width="4.66" height="10.20" fill="#6a6a6a"/>
<rect x="932.06" y="1324.40" width="24.22" height="6.60" fill="#6a6a6a"/>
<text x="826.34" y="1346.41" font-size="6.8" fill="#111" text-anchor="middle" textLength="37.00" lengthAdjust="spacingAndGlyphs">Mper02724</text>
<text x="920.42" y="1346.41" font-size="6.8" fill="#111" text-anchor="middle" textLength="37.00" lengthAdjust="spacingAndGlyphs">Mper02725</text>
<rect x="927.40" y="1353.80" width="4.19" height="6.40" fill="#ff0000"/>
<rect x="929.73" y="1351.10" width="26.55" height="11.80" fill="#ff0000"/>
<line x1="956.28" y1="1357.00" x2="978.17" y2="1357.00" stroke="#ff0000" stroke-width="1.3"/>
<rect x="970.25" y="1351.10" width="5.12" height="11.80" fill="#ff0000"/>
<rect x="978.17" y="1351.10" width="13.97" height="11.80" fill="#ff0000"/>
<text x="964.20" y="1371.81" font-size="6.8" fill="#e8203a" text-anchor="middle" textLength="37.00" lengthAdjust="spacingAndGlyphs">Mper02726</text>
<text x="690.40" y="1398.47" font-size="12.6" fill="#111" textLength="179.70" lengthAdjust="spacingAndGlyphs">chr2:3,053,945bp-3,068,140bp</text>
<rect x="665.3" y="1405.8" width="435.4" height="172.2" fill="#fff" stroke="#000" stroke-width="2.2"/>
<path d="M742.5,1443.3 L760.7,1443.3 L760.9,1439.4 L764.2,1439.3 L764.6,1437.5 L767.9,1437.8 L768.3,1437.8 L771.7,1437.2 L772.0,1438.2 L775.4,1438.2 L775.8,1440.0 L779.1,1439.8 L779.3,1443.3 L784.0,1443.3 L784.2,1439.6 L788.1,1439.6 L788.5,1439.9 L792.4,1439.8 L792.8,1441.0 L796.7,1440.8 L797.1,1441.5 L801.0,1441.5 L801.2,1443.3 L817.5,1443.3 L817.7,1430.2 L821.2,1431.1 L821.6,1430.9 L825.1,1429.9 L825.4,1437.5 L828.9,1437.0 L829.1,1443.3 L844.5,1443.3 L844.7,1443.3 L848.9,1443.3 L849.4,1443.3 L853.6,1443.3 L854.1,1443.3 L858.2,1443.3 L858.5,1443.3 L867.8,1443.3 L868.0,1438.7 L872.1,1438.6 L872.5,1437.7 L876.6,1437.9 L877.0,1439.9 L881.1,1439.8 L881.3,1443.3 L897.1,1443.3 L897.3,1438.8 L900.0,1439.3 L900.3,1438.9 L903.0,1438.6 L903.2,1443.3 L919.5,1443.3 L919.7,1437.3 L923.3,1437.1 L923.7,1439.6 L927.4,1439.4 L927.8,1439.1 L931.4,1438.6 L931.6,1443.3 L946.0,1443.3 L946.2,1436.5 L949.1,1437.2 L949.5,1435.2 L952.4,1435.8 L952.6,1443.3 L968.9,1443.3 L969.0,1437.5 L971.8,1436.9 L972.1,1439.4 L974.9,1439.7 L975.2,1442.0 L978.0,1441.8 L978.2,1443.3 L985.6,1443.3 L985.8,1442.0 L989.4,1442.0 L989.8,1441.0 L993.5,1441.2 L993.9,1440.4 L997.5,1440.7 L997.9,1439.9 L1001.5,1440.0 L1001.9,1434.1 L1005.5,1435.1 L1005.9,1421.5 L1009.5,1420.2 L1009.9,1436.2 L1013.5,1436.8 L1013.9,1441.5 L1017.6,1441.5 L1017.8,1443.3 L1027.5,1443.3 L1027.7,1439.5 L1031.4,1439.5 L1031.8,1434.0 L1035.5,1434.3 L1035.9,1439.1 L1039.6,1438.9 L1040.0,1437.3 L1043.6,1437.1 L1044.0,1438.6 L1047.7,1438.2 L1048.1,1437.6 L1051.8,1437.5 L1052.2,1439.8 L1055.9,1439.7 L1056.3,1441.1 L1059.9,1441.0 L1060.1,1443.3 L1078.0,1443.3Z" fill="#e8663a" stroke="#e8663a" stroke-width="0.5" stroke-linejoin="round"/><line x1="742.50" y1="1443.30" x2="1078.00" y2="1443.30" stroke="#e8663a" stroke-width="1.7"/>
<path d="M742.5,1477.3 L760.7,1477.3 L760.9,1463.3 L764.2,1464.5 L764.6,1458.1 L767.9,1458.7 L768.3,1454.7 L771.7,1456.4 L772.0,1459.7 L775.4,1459.0 L775.8,1467.2 L779.1,1466.8 L779.3,1477.3 L784.0,1477.3 L784.2,1468.1 L788.1,1468.9 L788.5,1463.0 L792.4,1463.9 L792.8,1467.1 L796.7,1467.2 L797.1,1466.6 L801.0,1465.8 L801.2,1477.3 L817.5,1477.3 L817.7,1462.4 L821.2,1461.6 L821.6,1459.8 L825.1,1461.3 L825.4,1455.6 L828.9,1454.7 L829.1,1477.3 L844.5,1477.3 L844.7,1475.6 L848.9,1475.7 L849.4,1472.6 L853.6,1472.4 L854.1,1475.8 L858.2,1475.9 L858.5,1477.3 L867.8,1477.3 L868.0,1458.1 L872.1,1458.8 L872.5,1465.1 L876.6,1465.6 L877.0,1469.6 L881.1,1469.9 L881.3,1477.3 L897.1,1477.3 L897.3,1462.8 L900.0,1464.1 L900.3,1467.2 L903.0,1466.9 L903.2,1477.3 L919.5,1477.3 L919.7,1462.3 L923.3,1462.5 L923.7,1463.2 L927.4,1463.1 L927.8,1463.0 L931.4,1462.8 L931.6,1477.3 L946.0,1477.3 L946.2,1465.5 L949.1,1465.8 L949.5,1465.5 L952.4,1466.8 L952.6,1477.3 L968.9,1477.3 L969.0,1467.8 L971.8,1468.8 L972.1,1464.1 L974.9,1464.1 L975.2,1475.8 L978.0,1476.0 L978.2,1477.3 L985.6,1477.3 L985.8,1473.6 L989.4,1473.3 L989.8,1466.8 L993.5,1466.9 L993.9,1461.6 L997.5,1463.1 L997.9,1466.2 L1001.5,1467.1 L1001.9,1457.4 L1005.5,1458.0 L1005.9,1450.9 L1009.5,1453.1 L1009.9,1464.2 L1013.5,1464.9 L1013.9,1467.0 L1017.6,1467.6 L1017.8,1477.3 L1027.5,1477.3 L1027.7,1466.0 L1031.4,1466.0 L1031.8,1462.4 L1035.5,1460.9 L1035.9,1469.2 L1039.6,1468.3 L1040.0,1462.7 L1043.6,1462.1 L1044.0,1461.6 L1047.7,1459.9 L1048.1,1468.0 L1051.8,1467.6 L1052.2,1468.5 L1055.9,1468.1 L1056.3,1468.5 L1059.9,1469.2 L1060.1,1477.3 L1078.0,1477.3Z" fill="#35b5b8" stroke="#35b5b8" stroke-width="0.5" stroke-linejoin="round"/><line x1="742.50" y1="1477.30" x2="1078.00" y2="1477.30" stroke="#35b5b8" stroke-width="1.7"/>
<path d="M742.5,1510.9 L760.7,1510.9 L760.9,1497.9 L764.2,1499.4 L764.6,1489.1 L767.9,1491.3 L768.3,1486.3 L771.7,1483.6 L772.0,1491.1 L775.4,1492.0 L775.8,1498.9 L779.1,1499.5 L779.3,1510.9 L784.0,1510.9 L784.2,1494.2 L788.1,1493.3 L788.5,1495.5 L792.4,1496.4 L792.8,1498.3 L796.7,1497.0 L797.1,1497.4 L801.0,1497.6 L801.2,1510.9 L817.5,1510.9 L817.7,1489.1 L821.2,1491.7 L821.6,1491.7 L825.1,1490.5 L825.4,1490.8 L828.9,1493.0 L829.1,1510.9 L844.5,1510.9 L844.7,1510.9 L848.9,1510.9 L849.4,1510.9 L853.6,1510.9 L854.1,1510.9 L858.2,1510.9 L858.5,1510.9 L867.8,1510.9 L868.0,1496.6 L872.1,1496.6 L872.5,1498.6 L876.6,1499.9 L877.0,1499.5 L881.1,1500.8 L881.3,1510.9 L897.1,1510.9 L897.3,1492.7 L900.0,1494.6 L900.3,1494.2 L903.0,1494.6 L903.2,1510.9 L919.5,1510.9 L919.7,1499.4 L923.3,1500.6 L923.7,1501.0 L927.4,1499.8 L927.8,1499.7 L931.4,1499.7 L931.6,1510.9 L946.0,1510.9 L946.2,1492.7 L949.1,1492.6 L949.5,1493.3 L952.4,1494.1 L952.6,1510.9 L968.9,1510.9 L969.0,1497.4 L971.8,1497.3 L972.1,1495.5 L974.9,1495.2 L975.2,1507.9 L978.0,1508.1 L978.2,1510.9 L985.6,1510.9 L985.8,1506.8 L989.4,1506.7 L989.8,1500.7 L993.5,1500.5 L993.9,1498.2 L997.5,1497.9 L997.9,1495.2 L1001.5,1493.6 L1001.9,1494.9 L1005.5,1495.1 L1005.9,1491.8 L1009.5,1493.1 L1009.9,1495.7 L1013.5,1496.4 L1013.9,1496.6 L1017.6,1495.7 L1017.8,1510.9 L1027.5,1510.9 L1027.7,1493.9 L1031.4,1494.6 L1031.8,1498.2 L1035.5,1499.4 L1035.9,1498.7 L1039.6,1499.9 L1040.0,1496.3 L1043.6,1496.0 L1044.0,1495.2 L1047.7,1496.8 L1048.1,1499.2 L1051.8,1500.5 L1052.2,1505.7 L1055.9,1506.0 L1056.3,1506.4 L1059.9,1506.8 L1060.1,1510.9 L1078.0,1510.9Z" fill="#1e9040" stroke="#1e9040" stroke-width="0.5" stroke-linejoin="round"/><line x1="742.50" y1="1510.90" x2="1078.00" y2="1510.90" stroke="#1e9040" stroke-width="1.7"/>
<path d="M742.5,1544.9 L760.7,1544.9 L760.9,1528.5 L764.2,1529.2 L764.6,1519.2 L767.9,1518.9 L768.3,1522.5 L771.7,1521.6 L772.0,1522.1 L775.4,1521.7 L775.8,1535.7 L779.1,1535.0 L779.3,1544.9 L784.0,1544.9 L784.2,1534.3 L788.1,1533.1 L788.5,1529.2 L792.4,1528.4 L792.8,1537.0 L796.7,1536.4 L797.1,1537.7 L801.0,1538.3 L801.2,1544.9 L817.5,1544.9 L817.7,1532.4 L821.2,1533.4 L821.6,1526.5 L825.1,1525.7 L825.4,1526.3 L828.9,1528.3 L829.1,1544.9 L844.5,1544.9 L844.7,1541.9 L848.9,1541.9 L849.4,1540.8 L853.6,1541.2 L854.1,1541.5 L858.2,1541.6 L858.5,1544.9 L867.8,1544.9 L868.0,1532.8 L872.1,1531.4 L872.5,1534.4 L876.6,1535.1 L877.0,1533.0 L881.1,1533.4 L881.3,1544.9 L897.1,1544.9 L897.3,1531.5 L900.0,1533.1 L900.3,1529.7 L903.0,1528.5 L903.2,1544.9 L919.5,1544.9 L919.7,1532.1 L923.3,1533.4 L923.7,1531.8 L927.4,1532.8 L927.8,1531.2 L931.4,1531.4 L931.6,1544.9 L946.0,1544.9 L946.2,1527.4 L949.1,1526.2 L949.5,1529.7 L952.4,1530.3 L952.6,1544.9 L968.9,1544.9 L969.0,1532.6 L971.8,1532.7 L972.1,1534.8 L974.9,1535.0 L975.2,1539.9 L978.0,1539.4 L978.2,1544.9 L985.6,1544.9 L985.8,1541.1 L989.4,1540.7 L989.8,1538.2 L993.5,1538.9 L993.9,1533.9 L997.5,1534.1 L997.9,1534.9 L1001.5,1533.8 L1001.9,1533.3 L1005.5,1533.1 L1005.9,1532.8 L1009.5,1531.7 L1009.9,1534.0 L1013.5,1534.8 L1013.9,1536.1 L1017.6,1536.7 L1017.8,1544.9 L1027.5,1544.9 L1027.7,1535.4 L1031.4,1535.8 L1031.8,1540.0 L1035.5,1540.3 L1035.9,1539.5 L1039.6,1539.8 L1040.0,1533.5 L1043.6,1532.5 L1044.0,1532.8 L1047.7,1532.4 L1048.1,1538.5 L1051.8,1539.1 L1052.2,1539.9 L1055.9,1539.9 L1056.3,1541.6 L1059.9,1541.9 L1060.1,1544.9 L1080.0,1544.9Z" fill="#f2c01e" stroke="#f2c01e" stroke-width="0.5" stroke-linejoin="round"/><line x1="742.50" y1="1544.90" x2="1080.00" y2="1544.90" stroke="#f2c01e" stroke-width="1.7"/>
<text x="702.50" y="1443.08" font-size="14.6" fill="#e8663a">Root</text>
<text x="703.40" y="1476.18" font-size="14.6" fill="#35b5b8">Fruit</text>
<text x="702.20" y="1511.08" font-size="14.6" fill="#1e9040">Stem</text>
<text x="703.80" y="1543.68" font-size="14.6" fill="#f2c01e">Leaf</text>
<line x1="760.21" y1="1554.60" x2="978.63" y2="1554.60" stroke="#6a6a6a" stroke-width="1.3"/>
<rect x="760.21" y="1549.00" width="17.23" height="11.20" fill="#6a6a6a"/>
<rect x="785.36" y="1549.00" width="12.57" height="11.20" fill="#6a6a6a"/>
<rect x="817.96" y="1549.00" width="9.78" height="11.20" fill="#6a6a6a"/>
<rect x="898.06" y="1549.00" width="3.73" height="11.20" fill="#6a6a6a"/>
<rect x="920.42" y="1549.00" width="8.85" height="11.20" fill="#6a6a6a"/>
<rect x="946.96" y="1549.00" width="3.73" height="11.20" fill="#6a6a6a"/>
<rect x="969.32" y="1549.00" width="9.31" height="11.20" fill="#6a6a6a"/>
<path d="M866.4,1554.6 L869.7,1549.0 L878.5,1549.0 L878.5,1560.2 L869.7,1560.2Z" fill="#6a6a6a"/>
<path d="M812.2,1552.0 L809.6,1554.6 L812.2,1557.2" fill="none" stroke="#6a6a6a" stroke-width="1.3"/>
<path d="M842.4,1552.0 L839.8,1554.6 L842.4,1557.2" fill="none" stroke="#6a6a6a" stroke-width="1.3"/>
<path d="M895.1,1552.0 L892.5,1554.6 L895.1,1557.2" fill="none" stroke="#6a6a6a" stroke-width="1.3"/>
<path d="M917.4,1552.0 L914.8,1554.6 L917.4,1557.2" fill="none" stroke="#6a6a6a" stroke-width="1.3"/>
<path d="M944.9,1552.0 L942.3,1554.6 L944.9,1557.2" fill="none" stroke="#6a6a6a" stroke-width="1.3"/>
<path d="M966.3,1552.0 L963.7,1554.6 L966.3,1557.2" fill="none" stroke="#6a6a6a" stroke-width="1.3"/>
<rect x="986.08" y="1548.30" width="26.08" height="12.60" fill="#ff1020"/>
<rect x="1012.16" y="1551.20" width="2.79" height="6.80" fill="#ff1020"/>
<rect x="1028.46" y="1551.40" width="32.60" height="6.40" fill="#6a6a6a"/>
<rect x="1035.45" y="1549.00" width="15.37" height="11.20" fill="#6a6a6a"/>
<text x="852.89" y="1574.81" font-size="6.8" fill="#111" text-anchor="middle" textLength="37.00" lengthAdjust="spacingAndGlyphs">Mper02733</text>
<text x="996.33" y="1574.81" font-size="6.8" fill="#e8203a" text-anchor="middle" textLength="37.00" lengthAdjust="spacingAndGlyphs">Mper02734</text>
<text x="1045.70" y="1574.81" font-size="6.8" fill="#111" text-anchor="middle" textLength="37.00" lengthAdjust="spacingAndGlyphs">Mper02735</text>
</g>
</svg>
</body></html>
